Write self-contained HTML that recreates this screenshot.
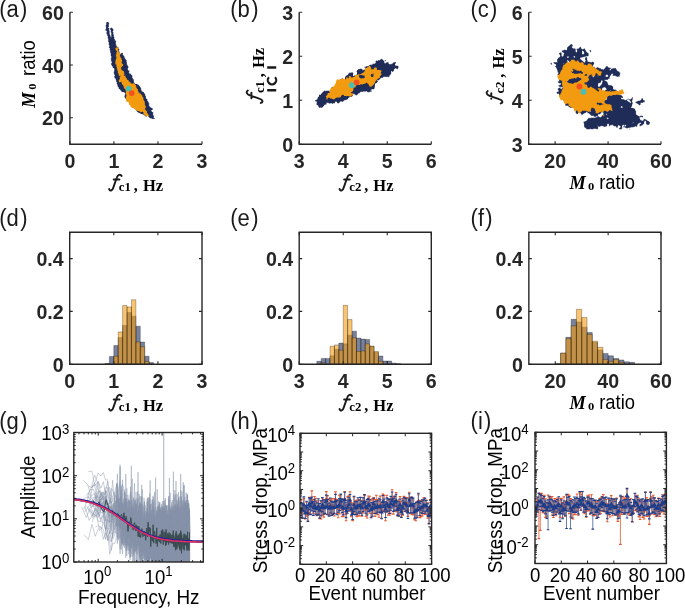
<!DOCTYPE html><html><head><meta charset="utf-8"><style>html,body{margin:0;padding:0;background:#fff;overflow:hidden}svg{display:block;will-change:transform}</style></head><body><svg width="685" height="609" viewBox="0 0 685 609" font-family="Liberation Sans, sans-serif">
<rect width="685" height="609" fill="#fff"/>
<path d="M106.8 22.0h1.5v.5h-1.5zM106.3 22.5h2.5v.5h-2.5zM106.3 23.0h2.5v.5h-2.5zM106.3 23.5h3v.5h-3zM106.3 24.0h2.5v.5h-2.5zM106.3 24.5h2.5v.5h-2.5zM105.8 25.0h3v.5h-3zM105.8 25.5h3v.5h-3zM105.8 26.0h3v.5h-3zM105.8 26.5h3v.5h-3zM105.8 27.0h2.5v.5h-2.5zM106.3 27.5h2v.5h-2zM111.3 27.5h0.5v.5h-0.5zM106.3 28.0h3v.5h-3zM110.3 28.0h2v.5h-2zM105.8 28.5h3.5v.5h-3.5zM110.3 28.5h2.5v.5h-2.5zM105.8 29.0h3v.5h-3zM110.3 29.0h3v.5h-3zM105.3 29.5h4v.5h-4zM110.3 29.5h3v.5h-3zM105.3 30.0h4v.5h-4zM110.8 30.0h2.5v.5h-2.5zM106.3 30.5h3v.5h-3zM110.8 30.5h2.5v.5h-2.5zM106.8 31.0h2.5v.5h-2.5zM110.8 31.0h2v.5h-2zM106.8 31.5h3v.5h-3zM110.8 31.5h2v.5h-2zM106.8 32.0h3v.5h-3zM110.8 32.0h2.5v.5h-2.5zM106.3 32.5h3v.5h-3zM111.3 32.5h2v.5h-2zM106.3 33.0h3v.5h-3zM111.3 33.0h2v.5h-2zM106.8 33.5h3v.5h-3zM111.3 33.5h2v.5h-2zM106.8 34.0h3v.5h-3zM111.3 34.0h2v.5h-2zM107.3 34.5h2.5v.5h-2.5zM111.3 34.5h2.5v.5h-2.5zM107.3 35.0h3v.5h-3zM111.3 35.0h2.5v.5h-2.5zM107.3 35.5h3v.5h-3zM111.3 35.5h2.5v.5h-2.5zM107.8 36.0h2.5v.5h-2.5zM111.3 36.0h2.5v.5h-2.5zM107.8 36.5h3v.5h-3zM111.3 36.5h2.5v.5h-2.5zM107.8 37.0h3v.5h-3zM111.3 37.0h3v.5h-3zM107.8 37.5h6.5v.5h-6.5zM107.8 38.0h6.5v.5h-6.5zM108.3 38.5h6v.5h-6zM108.3 39.0h6.5v.5h-6.5zM108.3 39.5h6.5v.5h-6.5zM108.3 40.0h6.5v.5h-6.5zM108.3 40.5h7.5v.5h-7.5zM108.3 41.0h7.5v.5h-7.5zM108.3 41.5h8v.5h-8zM108.8 42.0h7v.5h-7zM108.8 42.5h7v.5h-7zM108.8 43.0h7v.5h-7zM108.8 43.5h7v.5h-7zM108.8 44.0h7v.5h-7zM108.8 44.5h7.5v.5h-7.5zM109.3 45.0h7v.5h-7zM109.3 45.5h7v.5h-7zM109.3 46.0h7.5v.5h-7.5zM109.3 46.5h7.5v.5h-7.5zM108.8 47.0h9.5v.5h-9.5zM109.3 47.5h9v.5h-9zM109.8 48.0h8.5v.5h-8.5zM109.8 48.5h9v.5h-9zM109.8 49.0h9.5v.5h-9.5zM109.8 49.5h9.5v.5h-9.5zM109.8 50.0h9v.5h-9zM110.3 50.5h9v.5h-9zM110.3 51.0h9v.5h-9zM110.3 51.5h9v.5h-9zM110.3 52.0h9.5v.5h-9.5zM110.3 52.5h9v.5h-9zM121.8 52.5h0.5v.5h-0.5zM110.8 53.0h8v.5h-8zM121.3 53.0h1.5v.5h-1.5zM110.8 53.5h8v.5h-8zM120.8 53.5h2v.5h-2zM110.8 54.0h8v.5h-8zM120.3 54.0h2.5v.5h-2.5zM110.8 54.5h12v.5h-12zM110.8 55.0h12.5v.5h-12.5zM110.8 55.5h13v.5h-13zM111.3 56.0h13v.5h-13zM111.3 56.5h13v.5h-13zM111.3 57.0h13v.5h-13zM111.3 57.5h13.5v.5h-13.5zM110.8 58.0h14v.5h-14zM111.3 58.5h14v.5h-14zM111.3 59.0h14.5v.5h-14.5zM110.8 59.5h15v.5h-15zM110.8 60.0h15.5v.5h-15.5zM111.3 60.5h15.5v.5h-15.5zM111.3 61.0h15.5v.5h-15.5zM111.8 61.5h14.5v.5h-14.5zM111.8 62.0h15v.5h-15zM111.8 62.5h15v.5h-15zM111.3 63.0h15.5v.5h-15.5zM111.3 63.5h15.5v.5h-15.5zM111.3 64.0h15.5v.5h-15.5zM111.3 64.5h16v.5h-16zM111.8 65.0h15.5v.5h-15.5zM111.8 65.5h16v.5h-16zM112.3 66.0h16v.5h-16zM112.8 66.5h15.5v.5h-15.5zM112.8 67.0h15.5v.5h-15.5zM112.8 67.5h15.5v.5h-15.5zM113.8 68.0h14v.5h-14zM114.3 68.5h13.5v.5h-13.5zM114.3 69.0h13.5v.5h-13.5zM114.3 69.5h13.5v.5h-13.5zM114.3 70.0h14v.5h-14zM114.3 70.5h14.5v.5h-14.5zM129.3 70.5h0.5v.5h-0.5zM114.3 71.0h15v.5h-15zM113.8 71.5h15.5v.5h-15.5zM113.8 72.0h15v.5h-15zM113.8 72.5h15.5v.5h-15.5zM113.8 73.0h15.5v.5h-15.5zM114.3 73.5h15.5v.5h-15.5zM130.3 73.5h0.5v.5h-0.5zM114.3 74.0h16.5v.5h-16.5zM114.3 74.5h17v.5h-17zM114.8 75.0h17v.5h-17zM114.8 75.5h17.5v.5h-17.5zM114.3 76.0h18v.5h-18zM114.3 76.5h18v.5h-18zM114.3 77.0h18v.5h-18zM114.8 77.5h17.5v.5h-17.5zM114.8 78.0h18v.5h-18zM115.8 78.5h17v.5h-17zM115.8 79.0h17.5v.5h-17.5zM115.8 79.5h18v.5h-18zM115.8 80.0h18v.5h-18zM116.3 80.5h17.5v.5h-17.5zM116.3 81.0h17.5v.5h-17.5zM116.3 81.5h17.5v.5h-17.5zM116.8 82.0h17v.5h-17zM116.8 82.5h17.5v.5h-17.5zM116.8 83.0h18v.5h-18zM116.8 83.5h18.5v.5h-18.5zM117.3 84.0h20v.5h-20zM117.3 84.5h21v.5h-21zM117.3 85.0h21.5v.5h-21.5zM117.8 85.5h21.5v.5h-21.5zM117.8 86.0h22v.5h-22zM117.8 86.5h22v.5h-22zM118.3 87.0h22v.5h-22zM118.8 87.5h22v.5h-22zM118.8 88.0h22.5v.5h-22.5zM118.8 88.5h22v.5h-22zM119.8 89.0h21v.5h-21zM120.3 89.5h21v.5h-21zM120.3 90.0h21v.5h-21zM121.3 90.5h20.5v.5h-20.5zM121.3 91.0h20.5v.5h-20.5zM121.8 91.5h21v.5h-21zM123.8 92.0h20v.5h-20zM124.8 92.5h19v.5h-19zM125.3 93.0h19v.5h-19zM125.3 93.5h19.5v.5h-19.5zM125.3 94.0h19.5v.5h-19.5zM124.8 94.5h20.5v.5h-20.5zM124.8 95.0h20.5v.5h-20.5zM124.8 95.5h20.5v.5h-20.5zM124.8 96.0h21v.5h-21zM124.3 96.5h21.5v.5h-21.5zM124.8 97.0h21v.5h-21zM124.8 97.5h21v.5h-21zM125.3 98.0h21v.5h-21zM125.8 98.5h20.5v.5h-20.5zM126.3 99.0h21v.5h-21zM126.8 99.5h20.5v.5h-20.5zM127.3 100.0h20v.5h-20zM127.3 100.5h20v.5h-20zM127.8 101.0h20v.5h-20zM128.8 101.5h19.5v.5h-19.5zM129.3 102.0h19v.5h-19zM129.3 102.5h19.5v.5h-19.5zM129.8 103.0h19v.5h-19zM130.3 103.5h19v.5h-19zM130.3 104.0h19v.5h-19zM131.3 104.5h17.5v.5h-17.5zM131.3 105.0h17.5v.5h-17.5zM131.8 105.5h17.5v.5h-17.5zM131.8 106.0h17.5v.5h-17.5zM131.8 106.5h18.5v.5h-18.5zM132.3 107.0h18v.5h-18zM132.8 107.5h18.5v.5h-18.5zM134.3 108.0h18v.5h-18zM135.3 108.5h17.5v.5h-17.5zM135.8 109.0h17v.5h-17zM135.8 109.5h16.5v.5h-16.5zM136.3 110.0h15v.5h-15zM136.3 110.5h15v.5h-15zM136.8 111.0h15v.5h-15zM137.3 111.5h14.5v.5h-14.5zM137.8 112.0h15v.5h-15zM138.8 112.5h14.5v.5h-14.5zM139.8 113.0h13.5v.5h-13.5zM140.8 113.5h12v.5h-12zM141.8 114.0h0.5v.5h-0.5zM142.8 114.0h10v.5h-10zM143.8 114.5h9.5v.5h-9.5zM144.3 115.0h9v.5h-9zM144.8 115.5h9v.5h-9zM145.3 116.0h1.5v.5h-1.5zM148.3 116.0h5.5v.5h-5.5zM148.3 116.5h5.5v.5h-5.5zM149.3 117.0h4.5v.5h-4.5zM149.3 117.5h4.5v.5h-4.5zM150.3 118.0h0.5v.5h-0.5zM151.3 118.0h3.5v.5h-3.5zM151.8 118.5h1v.5h-1zM153.3 118.5h1v.5h-1z" fill="#1e2c57"/>
<path d="M381.0 58.8h0.5v.5h-0.5zM380.5 59.3h2v.5h-2zM380.0 59.8h3v.5h-3zM378.0 60.3h5.5v.5h-5.5zM385.0 60.3h1v.5h-1zM376.0 60.8h9.5v.5h-9.5zM375.5 61.3h8.5v.5h-8.5zM375.5 61.8h8.5v.5h-8.5zM376.0 62.3h8.5v.5h-8.5zM386.5 62.3h2v.5h-2zM393.5 62.3h2.5v.5h-2.5zM375.5 62.8h9v.5h-9zM386.0 62.8h2.5v.5h-2.5zM393.0 62.8h3v.5h-3zM375.0 63.3h13.5v.5h-13.5zM392.5 63.3h3v.5h-3zM372.5 63.8h16.5v.5h-16.5zM391.5 63.8h3.5v.5h-3.5zM372.5 64.3h22.5v.5h-22.5zM370.0 64.8h25v.5h-25zM369.0 65.3h26.5v.5h-26.5zM368.5 65.8h29.5v.5h-29.5zM366.0 66.3h32.5v.5h-32.5zM364.5 66.8h34v.5h-34zM364.5 67.3h34v.5h-34zM366.0 67.8h32v.5h-32zM365.5 68.3h29.5v.5h-29.5zM396.0 68.3h2v.5h-2zM359.5 68.8h2.5v.5h-2.5zM365.0 68.8h29.5v.5h-29.5zM397.0 68.8h0.5v.5h-0.5zM358.0 69.3h4.5v.5h-4.5zM364.5 69.3h29.5v.5h-29.5zM357.5 69.8h5v.5h-5zM363.0 69.8h0.5v.5h-0.5zM364.5 69.8h29.5v.5h-29.5zM357.0 70.3h37v.5h-37zM356.5 70.8h37v.5h-37zM356.5 71.3h34.5v.5h-34.5zM392.0 71.3h1v.5h-1zM357.0 71.8h34v.5h-34zM351.5 72.3h1v.5h-1zM357.0 72.3h34v.5h-34zM349.0 72.8h4v.5h-4zM357.0 72.8h34.5v.5h-34.5zM348.5 73.3h5v.5h-5zM357.0 73.3h34v.5h-34zM348.5 73.8h4.5v.5h-4.5zM357.0 73.8h34v.5h-34zM348.0 74.3h5v.5h-5zM356.5 74.3h34v.5h-34zM347.5 74.8h5.5v.5h-5.5zM356.5 74.8h33.5v.5h-33.5zM346.5 75.3h6.5v.5h-6.5zM354.5 75.3h0.5v.5h-0.5zM356.5 75.3h33v.5h-33zM346.0 75.8h7v.5h-7zM353.5 75.8h2.5v.5h-2.5zM356.5 75.8h33v.5h-33zM345.5 76.3h10v.5h-10zM356.5 76.3h33v.5h-33zM345.0 76.8h38.5v.5h-38.5zM386.0 76.8h0.5v.5h-0.5zM388.0 76.8h0.5v.5h-0.5zM345.0 77.3h38v.5h-38zM345.0 77.8h36v.5h-36zM342.0 78.3h0.5v.5h-0.5zM345.0 78.3h35.5v.5h-35.5zM341.0 78.8h2v.5h-2zM345.0 78.8h35v.5h-35zM340.5 79.3h2.5v.5h-2.5zM345.0 79.3h34.5v.5h-34.5zM340.0 79.8h3v.5h-3zM344.5 79.8h34.5v.5h-34.5zM340.0 80.3h37v.5h-37zM340.5 80.8h37v.5h-37zM340.0 81.3h38v.5h-38zM339.0 81.8h38.5v.5h-38.5zM338.5 82.3h38.5v.5h-38.5zM338.0 82.8h38.5v.5h-38.5zM338.0 83.3h37.5v.5h-37.5zM338.0 83.8h37v.5h-37zM338.0 84.3h37v.5h-37zM337.5 84.8h37.5v.5h-37.5zM335.5 85.3h39.5v.5h-39.5zM335.0 85.8h39.5v.5h-39.5zM335.0 86.3h40v.5h-40zM332.0 86.8h0.5v.5h-0.5zM335.0 86.8h40v.5h-40zM331.5 87.3h1.5v.5h-1.5zM334.5 87.3h40v.5h-40zM331.5 87.8h2v.5h-2zM334.5 87.8h40v.5h-40zM331.5 88.3h43v.5h-43zM331.5 88.8h42.5v.5h-42.5zM332.0 89.3h39.5v.5h-39.5zM332.0 89.8h39v.5h-39zM331.0 90.3h39v.5h-39zM370.5 90.3h1v.5h-1zM324.0 90.8h1.5v.5h-1.5zM326.0 90.8h45.5v.5h-45.5zM323.5 91.3h40v.5h-40zM364.5 91.3h1v.5h-1zM367.0 91.3h4.5v.5h-4.5zM323.0 91.8h37.5v.5h-37.5zM367.5 91.8h2v.5h-2zM322.5 92.3h37.5v.5h-37.5zM322.0 92.8h37.5v.5h-37.5zM321.5 93.3h37v.5h-37zM321.0 93.8h32v.5h-32zM354.0 93.8h4v.5h-4zM321.0 94.3h32v.5h-32zM355.0 94.3h2.5v.5h-2.5zM319.0 94.8h34v.5h-34zM355.5 94.8h1.5v.5h-1.5zM319.0 95.3h34v.5h-34zM319.0 95.8h33.5v.5h-33.5zM319.0 96.3h33v.5h-33zM318.0 96.8h32v.5h-32zM318.0 97.3h31v.5h-31zM317.5 97.8h31v.5h-31zM317.5 98.3h30.5v.5h-30.5zM317.5 98.8h30.5v.5h-30.5zM317.0 99.3h30v.5h-30zM316.0 99.8h29.5v.5h-29.5zM315.0 100.3h29v.5h-29zM315.0 100.8h28.5v.5h-28.5zM316.5 101.3h24v.5h-24zM341.5 101.3h1.5v.5h-1.5zM316.5 101.8h18.5v.5h-18.5zM337.0 101.8h3v.5h-3zM317.0 102.3h18v.5h-18zM337.0 102.3h2.5v.5h-2.5zM317.0 102.8h9v.5h-9zM328.5 102.8h6.5v.5h-6.5zM337.5 102.8h1.5v.5h-1.5zM316.5 103.3h10v.5h-10zM329.0 103.3h0.5v.5h-0.5zM332.0 103.3h1v.5h-1zM316.5 103.8h10.5v.5h-10.5zM316.5 104.3h9v.5h-9zM317.0 104.8h7.5v.5h-7.5zM318.0 105.3h6v.5h-6zM318.5 105.8h5.5v.5h-5.5zM318.5 106.3h4.5v.5h-4.5zM318.5 106.8h4.5v.5h-4.5zM319.0 107.3h1.5v.5h-1.5zM321.0 107.3h1v.5h-1z" fill="#1e2c57"/>
<path d="M570.6 44.3h1.5v.5h-1.5zM570.1 44.8h2.5v.5h-2.5zM569.6 45.3h3v.5h-3zM569.1 45.8h3.5v.5h-3.5zM568.1 46.3h4v.5h-4zM568.1 46.8h3.5v.5h-3.5zM580.1 46.8h0.5v.5h-0.5zM567.1 47.3h5v.5h-5zM579.6 47.3h1.5v.5h-1.5zM567.1 47.8h5.5v.5h-5.5zM579.1 47.8h2v.5h-2zM567.1 48.3h6v.5h-6zM573.6 48.3h1v.5h-1zM578.6 48.3h2.5v.5h-2.5zM584.1 48.3h0.5v.5h-0.5zM567.1 48.8h8.5v.5h-8.5zM576.6 48.8h5.5v.5h-5.5zM583.6 48.8h1v.5h-1zM567.1 49.3h8.5v.5h-8.5zM576.6 49.3h8.5v.5h-8.5zM564.1 49.8h1.5v.5h-1.5zM566.6 49.8h9v.5h-9zM577.1 49.8h8.5v.5h-8.5zM562.6 50.3h13v.5h-13zM577.1 50.3h8.5v.5h-8.5zM589.6 50.3h1.5v.5h-1.5zM561.6 50.8h14v.5h-14zM577.1 50.8h5v.5h-5zM583.1 50.8h3v.5h-3zM589.6 50.8h1.5v.5h-1.5zM562.1 51.3h13.5v.5h-13.5zM577.1 51.3h5v.5h-5zM583.6 51.3h2.5v.5h-2.5zM590.1 51.3h1v.5h-1zM562.1 51.8h14v.5h-14zM577.1 51.8h5v.5h-5zM584.1 51.8h2.5v.5h-2.5zM590.1 51.8h0.5v.5h-0.5zM560.6 52.3h0.5v.5h-0.5zM563.1 52.3h19v.5h-19zM584.1 52.3h3v.5h-3zM559.6 52.8h2v.5h-2zM564.1 52.8h18v.5h-18zM584.1 52.8h4v.5h-4zM559.1 53.3h2.5v.5h-2.5zM564.1 53.3h18v.5h-18zM584.1 53.3h4.5v.5h-4.5zM559.1 53.8h2.5v.5h-2.5zM564.1 53.8h18v.5h-18zM583.6 53.8h5v.5h-5zM559.6 54.3h2v.5h-2zM563.6 54.3h25v.5h-25zM560.1 54.8h1.5v.5h-1.5zM563.6 54.8h25v.5h-25zM560.1 55.3h1.5v.5h-1.5zM563.6 55.3h25v.5h-25zM560.1 55.8h1.5v.5h-1.5zM563.1 55.8h25v.5h-25zM560.1 56.3h2v.5h-2zM562.6 56.3h5v.5h-5zM568.6 56.3h5v.5h-5zM575.1 56.3h10.5v.5h-10.5zM559.6 56.8h7.5v.5h-7.5zM568.6 56.8h5v.5h-5zM575.1 56.8h8.5v.5h-8.5zM559.1 57.3h8v.5h-8zM568.6 57.3h5.5v.5h-5.5zM574.6 57.3h7v.5h-7zM585.6 57.3h1.5v.5h-1.5zM558.1 57.8h22v.5h-22zM585.1 57.8h2v.5h-2zM558.1 58.3h22v.5h-22zM585.1 58.3h2v.5h-2zM557.6 58.8h23v.5h-23zM585.1 58.8h2v.5h-2zM557.1 59.3h23.5v.5h-23.5zM585.1 59.3h2v.5h-2zM557.1 59.8h24.5v.5h-24.5zM585.6 59.8h1.5v.5h-1.5zM557.1 60.3h10v.5h-10zM568.1 60.3h3.5v.5h-3.5zM573.1 60.3h9v.5h-9zM585.6 60.3h2v.5h-2zM557.1 60.8h10v.5h-10zM568.6 60.8h2.5v.5h-2.5zM573.1 60.8h9.5v.5h-9.5zM585.6 60.8h2v.5h-2zM557.1 61.3h10.5v.5h-10.5zM569.1 61.3h2v.5h-2zM573.1 61.3h10v.5h-10zM585.1 61.3h2.5v.5h-2.5zM557.6 61.8h10v.5h-10zM569.6 61.8h1.5v.5h-1.5zM572.6 61.8h11.5v.5h-11.5zM585.1 61.8h4.5v.5h-4.5zM592.1 61.8h1v.5h-1zM553.6 62.3h14v.5h-14zM570.1 62.3h14.5v.5h-14.5zM585.1 62.3h9v.5h-9zM550.6 62.8h1v.5h-1zM553.6 62.8h14.5v.5h-14.5zM570.1 62.8h24v.5h-24zM550.6 63.3h1v.5h-1zM554.1 63.3h9v.5h-9zM563.6 63.3h30.5v.5h-30.5zM550.6 63.8h1.5v.5h-1.5zM555.1 63.8h39v.5h-39zM551.6 64.3h0.5v.5h-0.5zM556.1 64.3h37.5v.5h-37.5zM556.1 64.8h37v.5h-37zM556.1 65.3h37v.5h-37zM555.6 65.8h37.5v.5h-37.5zM555.1 66.3h38v.5h-38zM606.1 66.3h1.5v.5h-1.5zM555.6 66.8h37.5v.5h-37.5zM594.1 66.8h0.5v.5h-0.5zM605.6 66.8h2.5v.5h-2.5zM556.1 67.3h37.5v.5h-37.5zM594.1 67.3h0.5v.5h-0.5zM597.1 67.3h1v.5h-1zM605.6 67.3h3v.5h-3zM556.6 67.8h7v.5h-7zM564.1 67.8h6.5v.5h-6.5zM571.1 67.8h24v.5h-24zM596.1 67.8h3v.5h-3zM605.1 67.8h5.5v.5h-5.5zM556.6 68.3h7v.5h-7zM564.1 68.3h6v.5h-6zM571.6 68.3h29v.5h-29zM604.6 68.3h6.5v.5h-6.5zM612.6 68.3h3.5v.5h-3.5zM556.6 68.8h7v.5h-7zM564.1 68.8h6v.5h-6zM572.1 68.8h29v.5h-29zM604.1 68.8h6v.5h-6zM611.1 68.8h5v.5h-5zM557.1 69.3h13.5v.5h-13.5zM572.6 69.3h30.5v.5h-30.5zM603.6 69.3h6v.5h-6zM611.1 69.3h5.5v.5h-5.5zM557.1 69.8h13.5v.5h-13.5zM573.1 69.8h36.5v.5h-36.5zM610.6 69.8h6v.5h-6zM557.6 70.3h13.5v.5h-13.5zM573.6 70.3h3v.5h-3zM578.6 70.3h15.5v.5h-15.5zM595.6 70.3h21.5v.5h-21.5zM557.6 70.8h14v.5h-14zM573.6 70.8h2v.5h-2zM578.6 70.8h15.5v.5h-15.5zM596.1 70.8h21.5v.5h-21.5zM557.6 71.3h18v.5h-18zM578.6 71.3h15.5v.5h-15.5zM596.1 71.3h22.5v.5h-22.5zM557.6 71.8h17.5v.5h-17.5zM578.6 71.8h16v.5h-16zM596.1 71.8h23.5v.5h-23.5zM558.1 72.3h17.5v.5h-17.5zM578.6 72.3h41v.5h-41zM558.6 72.8h10v.5h-10zM570.1 72.8h5.5v.5h-5.5zM578.6 72.8h1v.5h-1zM581.1 72.8h38.5v.5h-38.5zM620.1 72.8h0.5v.5h-0.5zM558.1 73.3h9.5v.5h-9.5zM570.1 73.3h6.5v.5h-6.5zM578.1 73.3h1v.5h-1zM582.1 73.3h38v.5h-38zM558.1 73.8h8.5v.5h-8.5zM570.6 73.8h8.5v.5h-8.5zM582.1 73.8h29.5v.5h-29.5zM613.1 73.8h7v.5h-7zM557.6 74.3h9v.5h-9zM570.6 74.3h9v.5h-9zM582.1 74.3h29v.5h-29zM613.1 74.3h7v.5h-7zM557.6 74.8h11v.5h-11zM570.1 74.8h9.5v.5h-9.5zM581.6 74.8h8v.5h-8zM590.1 74.8h16v.5h-16zM607.6 74.8h3.5v.5h-3.5zM612.6 74.8h7v.5h-7zM558.1 75.3h47.5v.5h-47.5zM608.1 75.3h2.5v.5h-2.5zM612.6 75.3h7v.5h-7zM558.1 75.8h35v.5h-35zM593.6 75.8h4v.5h-4zM598.1 75.8h7.5v.5h-7.5zM608.1 75.8h2v.5h-2zM615.6 75.8h4v.5h-4zM558.1 76.3h34.5v.5h-34.5zM594.1 76.3h11.5v.5h-11.5zM608.1 76.3h2v.5h-2zM616.6 76.3h2v.5h-2zM619.1 76.3h0.5v.5h-0.5zM558.6 76.8h34v.5h-34zM593.6 76.8h16v.5h-16zM558.6 77.3h51v.5h-51zM559.1 77.8h50.5v.5h-50.5zM559.1 78.3h50.5v.5h-50.5zM558.6 78.8h49.5v.5h-49.5zM559.1 79.3h49v.5h-49zM559.1 79.8h5.5v.5h-5.5zM566.1 79.8h38.5v.5h-38.5zM605.6 79.8h0.5v.5h-0.5zM559.1 80.3h5v.5h-5zM566.1 80.3h35.5v.5h-35.5zM602.1 80.3h2.5v.5h-2.5zM559.1 80.8h4.5v.5h-4.5zM566.1 80.8h35v.5h-35zM602.6 80.8h3v.5h-3zM558.1 81.3h0.5v.5h-0.5zM559.1 81.3h4v.5h-4zM565.6 81.3h35.5v.5h-35.5zM602.6 81.3h4v.5h-4zM557.6 81.8h5.5v.5h-5.5zM565.6 81.8h35.5v.5h-35.5zM602.6 81.8h4.5v.5h-4.5zM558.1 82.3h5.5v.5h-5.5zM565.1 82.3h35.5v.5h-35.5zM602.1 82.3h5.5v.5h-5.5zM559.1 82.8h40.5v.5h-40.5zM602.1 82.8h5.5v.5h-5.5zM561.1 83.3h7.5v.5h-7.5zM570.6 83.3h3.5v.5h-3.5zM574.6 83.3h23.5v.5h-23.5zM602.1 83.3h5.5v.5h-5.5zM561.1 83.8h6.5v.5h-6.5zM570.6 83.8h3v.5h-3zM575.1 83.8h23v.5h-23zM601.6 83.8h6.5v.5h-6.5zM560.6 84.3h6.5v.5h-6.5zM570.1 84.3h3.5v.5h-3.5zM574.6 84.3h23.5v.5h-23.5zM601.6 84.3h6.5v.5h-6.5zM559.6 84.8h7.5v.5h-7.5zM570.1 84.8h28v.5h-28zM601.1 84.8h7.5v.5h-7.5zM558.6 85.3h8.5v.5h-8.5zM569.6 85.3h28.5v.5h-28.5zM600.6 85.3h11v.5h-11zM558.1 85.8h0.5v.5h-0.5zM559.1 85.8h8.5v.5h-8.5zM568.6 85.8h29.5v.5h-29.5zM600.1 85.8h12v.5h-12zM559.1 86.3h39v.5h-39zM599.6 86.3h13.5v.5h-13.5zM560.6 86.8h1v.5h-1zM562.6 86.8h50.5v.5h-50.5zM560.1 87.3h0.5v.5h-0.5zM562.6 87.3h41v.5h-41zM605.1 87.3h8v.5h-8zM559.1 87.8h1v.5h-1zM562.6 87.8h40v.5h-40zM606.1 87.8h7v.5h-7zM558.1 88.3h2.5v.5h-2.5zM562.1 88.3h40v.5h-40zM606.1 88.3h7v.5h-7zM557.6 88.8h44.5v.5h-44.5zM606.6 88.8h6.5v.5h-6.5zM558.1 89.3h44v.5h-44zM606.6 89.3h7.5v.5h-7.5zM558.1 89.8h44v.5h-44zM605.6 89.8h10.5v.5h-10.5zM558.6 90.3h43.5v.5h-43.5zM605.1 90.3h5.5v.5h-5.5zM611.1 90.3h5.5v.5h-5.5zM558.6 90.8h43.5v.5h-43.5zM604.6 90.8h6v.5h-6zM611.1 90.8h6v.5h-6zM558.6 91.3h44v.5h-44zM604.1 91.3h13.5v.5h-13.5zM557.1 91.8h16v.5h-16zM574.1 91.8h44v.5h-44zM556.6 92.3h15.5v.5h-15.5zM574.6 92.3h44v.5h-44zM556.6 92.8h14.5v.5h-14.5zM575.1 92.8h44.5v.5h-44.5zM557.1 93.3h13.5v.5h-13.5zM575.1 93.3h14v.5h-14zM590.1 93.3h29.5v.5h-29.5zM559.1 93.8h11.5v.5h-11.5zM575.1 93.8h2.5v.5h-2.5zM580.1 93.8h9v.5h-9zM590.1 93.8h29.5v.5h-29.5zM559.1 94.3h11.5v.5h-11.5zM575.6 94.3h1.5v.5h-1.5zM580.6 94.3h6.5v.5h-6.5zM587.6 94.3h2v.5h-2zM590.6 94.3h29v.5h-29zM559.1 94.8h12v.5h-12zM580.6 94.8h6.5v.5h-6.5zM590.6 94.8h29v.5h-29zM559.6 95.3h12v.5h-12zM580.6 95.3h7v.5h-7zM590.1 95.3h13.5v.5h-13.5zM605.6 95.3h16v.5h-16zM560.1 95.8h12.5v.5h-12.5zM577.6 95.8h1.5v.5h-1.5zM580.1 95.8h7.5v.5h-7.5zM590.1 95.8h14v.5h-14zM605.6 95.8h16.5v.5h-16.5zM560.6 96.3h12.5v.5h-12.5zM577.1 96.3h2v.5h-2zM580.1 96.3h7v.5h-7zM590.6 96.3h13.5v.5h-13.5zM605.6 96.3h17v.5h-17zM561.1 96.8h12.5v.5h-12.5zM577.1 96.8h2v.5h-2zM580.6 96.8h6.5v.5h-6.5zM590.6 96.8h13.5v.5h-13.5zM605.6 96.8h17.5v.5h-17.5zM562.1 97.3h12.5v.5h-12.5zM575.1 97.3h4v.5h-4zM580.6 97.3h6.5v.5h-6.5zM590.1 97.3h13.5v.5h-13.5zM606.1 97.3h17v.5h-17zM632.1 97.3h1v.5h-1zM562.6 97.8h16.5v.5h-16.5zM580.6 97.8h7v.5h-7zM589.6 97.8h13.5v.5h-13.5zM606.6 97.8h14.5v.5h-14.5zM631.6 97.8h1v.5h-1zM563.1 98.3h16v.5h-16zM580.6 98.3h22.5v.5h-22.5zM607.1 98.3h14v.5h-14zM631.6 98.3h1v.5h-1zM641.6 98.3h1v.5h-1zM563.1 98.8h40.5v.5h-40.5zM607.1 98.8h14.5v.5h-14.5zM627.1 98.8h0.5v.5h-0.5zM628.1 98.8h1v.5h-1zM631.1 98.8h1.5v.5h-1.5zM641.6 98.8h1.5v.5h-1.5zM563.1 99.3h41v.5h-41zM606.6 99.3h17.5v.5h-17.5zM627.1 99.3h0.5v.5h-0.5zM628.6 99.3h4v.5h-4zM641.1 99.3h2v.5h-2zM563.1 99.8h62v.5h-62zM626.1 99.8h1v.5h-1zM629.6 99.8h3v.5h-3zM641.1 99.8h2v.5h-2zM563.6 100.3h63.5v.5h-63.5zM629.6 100.3h2.5v.5h-2.5zM640.1 100.3h4.5v.5h-4.5zM564.1 100.8h2.5v.5h-2.5zM567.1 100.8h60.5v.5h-60.5zM630.1 100.8h2v.5h-2zM638.1 100.8h6.5v.5h-6.5zM565.1 101.3h1v.5h-1zM567.1 101.3h61v.5h-61zM630.6 101.3h1.5v.5h-1.5zM636.6 101.3h8v.5h-8zM567.1 101.8h62.5v.5h-62.5zM631.1 101.8h1v.5h-1zM636.1 101.8h8.5v.5h-8.5zM566.6 102.3h63v.5h-63zM631.1 102.3h1.5v.5h-1.5zM635.1 102.3h8v.5h-8zM566.6 102.8h66v.5h-66zM636.1 102.8h4.5v.5h-4.5zM566.1 103.3h36.5v.5h-36.5zM603.6 103.3h29v.5h-29zM637.1 103.3h3.5v.5h-3.5zM565.6 103.8h37v.5h-37zM603.6 103.8h29v.5h-29zM638.1 103.8h2.5v.5h-2.5zM565.1 104.3h37v.5h-37zM603.1 104.3h29v.5h-29zM638.6 104.3h2v.5h-2zM565.1 104.8h6v.5h-6zM573.6 104.8h28v.5h-28zM602.6 104.8h29.5v.5h-29.5zM639.1 104.8h1v.5h-1zM565.6 105.3h5v.5h-5zM574.6 105.3h27v.5h-27zM602.6 105.3h29.5v.5h-29.5zM568.1 105.8h2.5v.5h-2.5zM575.1 105.8h26.5v.5h-26.5zM603.1 105.8h29v.5h-29zM568.6 106.3h2.5v.5h-2.5zM575.1 106.3h26.5v.5h-26.5zM603.1 106.3h18v.5h-18zM622.1 106.3h9.5v.5h-9.5zM569.1 106.8h3.5v.5h-3.5zM575.1 106.8h27v.5h-27zM604.1 106.8h16.5v.5h-16.5zM622.6 106.8h8.5v.5h-8.5zM570.1 107.3h3v.5h-3zM575.1 107.3h21v.5h-21zM596.6 107.3h24.5v.5h-24.5zM622.6 107.3h8.5v.5h-8.5zM575.6 107.8h20v.5h-20zM597.1 107.8h35.5v.5h-35.5zM575.6 108.3h20v.5h-20zM597.1 108.3h37v.5h-37zM575.6 108.8h11v.5h-11zM587.1 108.8h8.5v.5h-8.5zM597.6 108.8h37.5v.5h-37.5zM575.6 109.3h11v.5h-11zM587.1 109.3h8.5v.5h-8.5zM597.6 109.3h37.5v.5h-37.5zM576.1 109.8h19.5v.5h-19.5zM597.6 109.8h37.5v.5h-37.5zM576.1 110.3h19.5v.5h-19.5zM597.6 110.3h38v.5h-38zM576.1 110.8h14v.5h-14zM591.1 110.8h4.5v.5h-4.5zM597.1 110.8h38.5v.5h-38.5zM575.6 111.3h14.5v.5h-14.5zM590.6 111.3h5.5v.5h-5.5zM597.1 111.3h39v.5h-39zM575.6 111.8h11v.5h-11zM587.1 111.8h49v.5h-49zM575.6 112.3h3v.5h-3zM579.6 112.3h6.5v.5h-6.5zM587.6 112.3h13.5v.5h-13.5zM603.1 112.3h33v.5h-33zM576.1 112.8h2v.5h-2zM579.6 112.8h5.5v.5h-5.5zM587.6 112.8h13.5v.5h-13.5zM603.6 112.8h32v.5h-32zM576.1 113.3h2v.5h-2zM581.1 113.3h3v.5h-3zM589.1 113.3h11.5v.5h-11.5zM603.6 113.3h32.5v.5h-32.5zM577.6 113.8h0.5v.5h-0.5zM581.1 113.8h2v.5h-2zM589.6 113.8h10.5v.5h-10.5zM603.6 113.8h3v.5h-3zM607.1 113.8h29v.5h-29zM581.6 114.3h1v.5h-1zM590.1 114.3h8v.5h-8zM603.1 114.3h3v.5h-3zM607.1 114.3h29v.5h-29zM581.6 114.8h0.5v.5h-0.5zM590.6 114.8h7.5v.5h-7.5zM603.1 114.8h34v.5h-34zM591.1 115.3h7v.5h-7zM602.1 115.3h35.5v.5h-35.5zM593.6 115.8h4v.5h-4zM601.6 115.8h37v.5h-37zM640.1 115.8h2.5v.5h-2.5zM594.1 116.3h2v.5h-2zM597.6 116.3h1v.5h-1zM601.6 116.3h38v.5h-38zM640.1 116.3h3v.5h-3zM597.1 116.8h2.5v.5h-2.5zM601.1 116.8h39.5v.5h-39.5zM641.6 116.8h1.5v.5h-1.5zM595.6 117.3h44v.5h-44zM588.6 117.8h1v.5h-1zM590.6 117.8h16v.5h-16zM608.1 117.8h31.5v.5h-31.5zM588.1 118.3h19v.5h-19zM608.6 118.3h31v.5h-31zM588.1 118.8h19.5v.5h-19.5zM608.1 118.8h32v.5h-32zM644.1 118.8h0.5v.5h-0.5zM587.1 119.3h53v.5h-53zM643.6 119.3h2v.5h-2zM587.1 119.8h53.5v.5h-53.5zM643.6 119.8h3v.5h-3zM586.6 120.3h55v.5h-55zM643.1 120.3h4v.5h-4zM586.1 120.8h58.5v.5h-58.5zM645.6 120.8h2.5v.5h-2.5zM584.6 121.3h60v.5h-60zM646.1 121.3h3v.5h-3zM583.6 121.8h60.5v.5h-60.5zM646.1 121.8h3.5v.5h-3.5zM583.6 122.3h49.5v.5h-49.5zM633.6 122.3h10.5v.5h-10.5zM646.1 122.3h4v.5h-4zM583.6 122.8h49v.5h-49zM633.1 122.8h6.5v.5h-6.5zM641.1 122.8h3v.5h-3zM646.1 122.8h3.5v.5h-3.5zM584.1 123.3h54.5v.5h-54.5zM641.1 123.3h3v.5h-3zM646.1 123.3h3.5v.5h-3.5zM584.1 123.8h23.5v.5h-23.5zM608.6 123.8h29.5v.5h-29.5zM640.1 123.8h3.5v.5h-3.5zM646.6 123.8h3v.5h-3zM584.1 124.3h23v.5h-23zM609.1 124.3h28.5v.5h-28.5zM639.6 124.3h3.5v.5h-3.5zM646.6 124.3h2.5v.5h-2.5zM584.1 124.8h23v.5h-23zM609.1 124.8h2.5v.5h-2.5zM612.6 124.8h10v.5h-10zM623.6 124.8h2v.5h-2zM626.1 124.8h11.5v.5h-11.5zM639.6 124.8h3v.5h-3zM584.1 125.3h23v.5h-23zM609.1 125.3h1v.5h-1zM613.1 125.3h5v.5h-5zM619.1 125.3h3.5v.5h-3.5zM624.1 125.3h0.5v.5h-0.5zM626.1 125.3h11v.5h-11zM639.6 125.3h2v.5h-2zM584.1 125.8h13.5v.5h-13.5zM598.1 125.8h3v.5h-3zM601.6 125.8h0.5v.5h-0.5zM602.6 125.8h4.5v.5h-4.5zM608.6 125.8h1v.5h-1zM614.1 125.8h4v.5h-4zM620.1 125.8h2v.5h-2zM626.1 125.8h11v.5h-11zM639.6 125.8h1v.5h-1zM584.1 126.3h14v.5h-14zM598.6 126.3h1.5v.5h-1.5zM603.6 126.3h2v.5h-2zM616.1 126.3h1.5v.5h-1.5zM620.6 126.3h1.5v.5h-1.5zM623.6 126.3h11.5v.5h-11.5zM636.1 126.3h1v.5h-1zM584.6 126.8h13.5v.5h-13.5zM616.1 126.8h1.5v.5h-1.5zM620.6 126.8h1.5v.5h-1.5zM623.1 126.8h10.5v.5h-10.5zM584.6 127.3h13.5v.5h-13.5zM616.6 127.3h1v.5h-1zM620.1 127.3h2v.5h-2zM625.1 127.3h5.5v.5h-5.5zM585.6 127.8h12.5v.5h-12.5zM619.6 127.8h2v.5h-2zM622.1 127.8h0.5v.5h-0.5zM626.1 127.8h2v.5h-2zM586.1 128.3h12v.5h-12zM619.1 128.3h3v.5h-3zM586.6 128.8h3.5v.5h-3.5zM591.1 128.8h2v.5h-2zM596.6 128.8h1v.5h-1zM619.1 128.8h2.5v.5h-2.5zM629.6 128.8h0.5v.5h-0.5zM629.6 129.3h0.5v.5h-0.5z" fill="#1e2c57"/>
<path d="M116.9 46.0h0.5v.5h-0.5zM116.9 46.5h0.5v.5h-0.5zM116.9 47.0h0.5v.5h-0.5zM115.9 47.5h2v.5h-2zM115.4 48.0h3v.5h-3zM115.4 48.5h3v.5h-3zM115.4 49.0h3v.5h-3zM115.9 49.5h2v.5h-2zM115.9 50.0h2.5v.5h-2.5zM116.4 50.5h2v.5h-2zM116.9 51.0h1.5v.5h-1.5zM116.9 51.5h2v.5h-2zM116.4 52.0h2.5v.5h-2.5zM116.4 52.5h2.5v.5h-2.5zM116.4 53.0h4v.5h-4zM116.4 53.5h4v.5h-4zM116.4 54.0h3.5v.5h-3.5zM115.9 54.5h4v.5h-4zM115.9 55.0h4v.5h-4zM115.9 55.5h4v.5h-4zM115.9 56.0h4v.5h-4zM116.4 56.5h4v.5h-4zM116.4 57.0h4v.5h-4zM116.4 57.5h4.5v.5h-4.5zM116.4 58.0h5v.5h-5zM115.9 58.5h5.5v.5h-5.5zM115.9 59.0h5.5v.5h-5.5zM115.9 59.5h6v.5h-6zM115.9 60.0h6v.5h-6zM115.4 60.5h6.5v.5h-6.5zM115.4 61.0h6.5v.5h-6.5zM115.4 61.5h6.5v.5h-6.5zM115.4 62.0h6v.5h-6zM115.4 62.5h6.5v.5h-6.5zM115.4 63.0h6.5v.5h-6.5zM115.4 63.5h7v.5h-7zM115.4 64.0h7.5v.5h-7.5zM116.4 64.5h7v.5h-7zM116.4 65.0h6.5v.5h-6.5zM116.4 65.5h6.5v.5h-6.5zM116.4 66.0h6v.5h-6zM116.4 66.5h5.5v.5h-5.5zM116.9 67.0h4.5v.5h-4.5zM116.9 67.5h4v.5h-4zM116.9 68.0h4v.5h-4zM116.9 68.5h4.5v.5h-4.5zM116.9 69.0h4.5v.5h-4.5zM117.4 69.5h4v.5h-4zM117.4 70.0h4.5v.5h-4.5zM117.4 70.5h5.5v.5h-5.5zM117.9 71.0h6v.5h-6zM117.9 71.5h6v.5h-6zM117.9 72.0h6v.5h-6zM117.9 72.5h6.5v.5h-6.5zM118.4 73.0h6v.5h-6zM118.4 73.5h5.5v.5h-5.5zM118.4 74.0h5.5v.5h-5.5zM124.4 74.0h0.5v.5h-0.5zM118.9 74.5h5.5v.5h-5.5zM118.9 75.0h5v.5h-5zM118.9 75.5h1v.5h-1zM120.4 75.5h4v.5h-4zM124.9 75.5h0.5v.5h-0.5zM120.4 76.0h5v.5h-5zM119.9 76.5h5.5v.5h-5.5zM119.9 77.0h6v.5h-6zM119.4 77.5h6.5v.5h-6.5zM119.9 78.0h6.5v.5h-6.5zM119.9 78.5h7v.5h-7zM119.4 79.0h7.5v.5h-7.5zM119.4 79.5h8v.5h-8zM118.9 80.0h9.5v.5h-9.5zM118.9 80.5h10v.5h-10zM118.9 81.0h10.5v.5h-10.5zM118.9 81.5h2v.5h-2zM121.4 81.5h8v.5h-8zM119.4 82.0h0.5v.5h-0.5zM121.4 82.0h9v.5h-9zM121.4 82.5h9v.5h-9zM121.9 83.0h9v.5h-9zM133.4 83.0h0.5v.5h-0.5zM121.9 83.5h10v.5h-10zM132.4 83.5h2.5v.5h-2.5zM122.4 84.0h12.5v.5h-12.5zM122.4 84.5h13v.5h-13zM122.9 85.0h13v.5h-13zM123.4 85.5h12.5v.5h-12.5zM123.4 86.0h13v.5h-13zM123.9 86.5h12v.5h-12zM123.9 87.0h12.5v.5h-12.5zM123.9 87.5h12.5v.5h-12.5zM123.9 88.0h13v.5h-13zM124.9 88.5h12v.5h-12zM125.4 89.0h12.5v.5h-12.5zM125.4 89.5h12.5v.5h-12.5zM125.4 90.0h12.5v.5h-12.5zM125.9 90.5h12v.5h-12zM125.9 91.0h12.5v.5h-12.5zM125.9 91.5h12.5v.5h-12.5zM125.9 92.0h12.5v.5h-12.5zM125.9 92.5h13.5v.5h-13.5zM125.9 93.0h13.5v.5h-13.5zM125.9 93.5h15v.5h-15zM125.9 94.0h15v.5h-15zM126.4 94.5h15v.5h-15zM126.4 95.0h15.5v.5h-15.5zM126.4 95.5h16v.5h-16zM126.4 96.0h16v.5h-16zM125.9 96.5h16.5v.5h-16.5zM125.9 97.0h17v.5h-17zM125.9 97.5h17.5v.5h-17.5zM125.9 98.0h17.5v.5h-17.5zM125.9 98.5h17.5v.5h-17.5zM126.4 99.0h17v.5h-17zM126.4 99.5h17v.5h-17zM125.9 100.0h18v.5h-18zM125.9 100.5h18v.5h-18zM125.9 101.0h18.5v.5h-18.5zM127.4 101.5h17.5v.5h-17.5zM128.4 102.0h16v.5h-16zM128.9 102.5h16v.5h-16zM128.9 103.0h16v.5h-16zM128.9 103.5h16v.5h-16zM128.9 104.0h16v.5h-16zM129.4 104.5h15.5v.5h-15.5zM129.9 105.0h15v.5h-15zM130.4 105.5h15v.5h-15zM130.4 106.0h15.5v.5h-15.5zM130.9 106.5h15v.5h-15zM130.9 107.0h15v.5h-15zM131.9 107.5h13.5v.5h-13.5zM133.4 108.0h0.5v.5h-0.5zM134.4 108.0h11v.5h-11zM134.4 108.5h10.5v.5h-10.5zM134.9 109.0h10v.5h-10zM135.4 109.5h10v.5h-10zM136.4 110.0h9.5v.5h-9.5zM136.9 110.5h9.5v.5h-9.5zM139.4 111.0h7.5v.5h-7.5zM139.9 111.5h2.5v.5h-2.5zM142.9 111.5h4v.5h-4zM140.4 112.0h0.5v.5h-0.5zM143.4 112.0h3.5v.5h-3.5zM143.4 112.5h3.5v.5h-3.5zM143.4 113.0h4v.5h-4zM143.4 113.5h4.5v.5h-4.5zM143.9 114.0h4v.5h-4zM144.4 114.5h4v.5h-4zM144.9 115.0h3.5v.5h-3.5zM145.4 115.5h4v.5h-4zM147.9 116.0h1v.5h-1z" fill="#f29b11"/>
<path d="M368.9 65.9h1.5v.5h-1.5zM368.4 66.4h2v.5h-2zM367.4 66.9h3.5v.5h-3.5zM366.9 67.4h4v.5h-4zM374.4 67.4h2v.5h-2zM365.4 67.9h5.5v.5h-5.5zM373.9 67.9h3v.5h-3zM365.4 68.4h6v.5h-6zM373.9 68.4h3v.5h-3zM364.9 68.9h6.5v.5h-6.5zM372.4 68.9h0.5v.5h-0.5zM373.4 68.9h3.5v.5h-3.5zM364.9 69.4h12v.5h-12zM364.9 69.9h15.5v.5h-15.5zM364.9 70.4h16.5v.5h-16.5zM364.4 70.9h17v.5h-17zM364.4 71.4h17v.5h-17zM363.9 71.9h17v.5h-17zM362.9 72.4h18v.5h-18zM361.9 72.9h19v.5h-19zM361.4 73.4h20v.5h-20zM358.4 73.9h0.5v.5h-0.5zM360.4 73.9h21v.5h-21zM357.4 74.4h24v.5h-24zM355.4 74.9h25.5v.5h-25.5zM354.9 75.4h25.5v.5h-25.5zM348.9 75.9h2v.5h-2zM354.9 75.9h25v.5h-25zM348.9 76.4h1.5v.5h-1.5zM354.4 76.4h25.5v.5h-25.5zM346.9 76.9h0.5v.5h-0.5zM348.9 76.9h2v.5h-2zM352.9 76.9h27v.5h-27zM345.9 77.4h1.5v.5h-1.5zM348.9 77.4h31v.5h-31zM342.9 77.9h0.5v.5h-0.5zM346.4 77.9h1.5v.5h-1.5zM348.4 77.9h30.5v.5h-30.5zM342.4 78.4h1v.5h-1zM343.9 78.4h0.5v.5h-0.5zM345.9 78.4h32v.5h-32zM339.9 78.9h5v.5h-5zM345.4 78.9h32v.5h-32zM336.9 79.4h40v.5h-40zM336.4 79.9h40v.5h-40zM336.4 80.4h39.5v.5h-39.5zM336.4 80.9h39v.5h-39zM335.9 81.4h39.5v.5h-39.5zM335.9 81.9h39v.5h-39zM335.9 82.4h30.5v.5h-30.5zM366.9 82.4h8v.5h-8zM335.4 82.9h30.5v.5h-30.5zM367.4 82.9h7v.5h-7zM335.4 83.4h29v.5h-29zM367.9 83.4h6.5v.5h-6.5zM335.4 83.9h25v.5h-25zM361.4 83.9h1.5v.5h-1.5zM368.4 83.9h5.5v.5h-5.5zM334.4 84.4h22.5v.5h-22.5zM358.9 84.4h1.5v.5h-1.5zM368.9 84.4h4.5v.5h-4.5zM334.4 84.9h22v.5h-22zM368.9 84.9h4v.5h-4zM334.4 85.4h21.5v.5h-21.5zM369.4 85.4h3v.5h-3zM333.4 85.9h22.5v.5h-22.5zM369.4 85.9h2.5v.5h-2.5zM333.4 86.4h22v.5h-22zM369.9 86.4h0.5v.5h-0.5zM332.4 86.9h23v.5h-23zM331.9 87.4h21.5v.5h-21.5zM330.9 87.9h22.5v.5h-22.5zM330.4 88.4h23v.5h-23zM330.4 88.9h23v.5h-23zM329.9 89.4h23.5v.5h-23.5zM329.9 89.9h23.5v.5h-23.5zM329.9 90.4h23v.5h-23zM329.4 90.9h23v.5h-23zM328.9 91.4h23.5v.5h-23.5zM329.4 91.9h22v.5h-22zM329.9 92.4h21v.5h-21zM327.9 92.9h23.5v.5h-23.5zM351.9 92.9h0.5v.5h-0.5zM327.4 93.4h25.5v.5h-25.5zM327.4 93.9h26v.5h-26zM327.4 94.4h15.5v.5h-15.5zM343.4 94.4h10v.5h-10zM326.9 94.9h15v.5h-15zM343.9 94.9h9v.5h-9zM326.4 95.4h15v.5h-15zM343.9 95.4h7.5v.5h-7.5zM325.9 95.9h15v.5h-15zM346.4 95.9h0.5v.5h-0.5zM348.9 95.9h2.5v.5h-2.5zM325.9 96.4h15v.5h-15zM326.4 96.9h14v.5h-14zM326.4 97.4h2v.5h-2zM329.4 97.4h7v.5h-7zM326.4 97.9h1.5v.5h-1.5zM329.9 97.9h5.5v.5h-5.5zM326.4 98.4h1v.5h-1zM331.9 98.4h3v.5h-3zM326.4 98.9h1v.5h-1zM333.4 98.9h1v.5h-1z" fill="#f29b11"/>
<path d="M571.1 59.7h3v.5h-3zM571.1 60.2h4v.5h-4zM577.1 60.2h0.5v.5h-0.5zM570.6 60.7h5v.5h-5zM576.6 60.7h2v.5h-2zM570.1 61.2h5.5v.5h-5.5zM576.6 61.2h2v.5h-2zM570.1 61.7h9v.5h-9zM566.6 62.2h13v.5h-13zM581.1 62.2h2v.5h-2zM566.1 62.7h17.5v.5h-17.5zM565.6 63.2h18v.5h-18zM588.6 63.2h0.5v.5h-0.5zM565.1 63.7h18.5v.5h-18.5zM588.1 63.7h2.5v.5h-2.5zM564.6 64.2h19.5v.5h-19.5zM587.6 64.2h4v.5h-4zM563.6 64.7h22.5v.5h-22.5zM587.6 64.7h4v.5h-4zM563.1 65.2h29v.5h-29zM563.1 65.7h29.5v.5h-29.5zM562.6 66.2h30.5v.5h-30.5zM563.1 66.7h30v.5h-30zM562.1 67.2h31.5v.5h-31.5zM562.6 67.7h33.5v.5h-33.5zM562.6 68.2h33.5v.5h-33.5zM562.1 68.7h34.5v.5h-34.5zM562.1 69.2h35v.5h-35zM561.6 69.7h37v.5h-37zM561.1 70.2h37.5v.5h-37.5zM561.1 70.7h38v.5h-38zM560.6 71.2h41v.5h-41zM560.6 71.7h40.5v.5h-40.5zM601.6 71.7h0.5v.5h-0.5zM560.1 72.2h42v.5h-42zM560.1 72.7h41.5v.5h-41.5zM560.1 73.2h35.5v.5h-35.5zM597.1 73.2h4v.5h-4zM559.6 73.7h26.5v.5h-26.5zM586.6 73.7h9v.5h-9zM597.6 73.7h3.5v.5h-3.5zM559.1 74.2h26v.5h-26zM587.1 74.2h4v.5h-4zM591.6 74.2h4v.5h-4zM597.6 74.2h3.5v.5h-3.5zM558.1 74.7h26.5v.5h-26.5zM587.1 74.7h2.5v.5h-2.5zM591.6 74.7h3.5v.5h-3.5zM598.1 74.7h3v.5h-3zM557.6 75.2h27v.5h-27zM587.1 75.2h2.5v.5h-2.5zM591.6 75.2h3.5v.5h-3.5zM598.6 75.2h2v.5h-2zM557.6 75.7h31v.5h-31zM592.6 75.7h2.5v.5h-2.5zM557.6 76.2h31v.5h-31zM557.1 76.7h31.5v.5h-31.5zM557.6 77.2h30.5v.5h-30.5zM558.1 77.7h30.5v.5h-30.5zM558.1 78.2h30.5v.5h-30.5zM558.6 78.7h30.5v.5h-30.5zM559.1 79.2h30v.5h-30zM559.1 79.7h30v.5h-30zM561.1 80.2h27.5v.5h-27.5zM562.1 80.7h26v.5h-26zM562.1 81.2h25.5v.5h-25.5zM562.1 81.7h25v.5h-25zM562.1 82.2h22.5v.5h-22.5zM585.6 82.2h0.5v.5h-0.5zM562.1 82.7h22.5v.5h-22.5zM562.1 83.2h22.5v.5h-22.5zM562.1 83.7h22.5v.5h-22.5zM562.1 84.2h23.5v.5h-23.5zM562.1 84.7h25v.5h-25zM562.1 85.2h25v.5h-25zM562.6 85.7h24.5v.5h-24.5zM562.6 86.2h25v.5h-25zM563.1 86.7h24.5v.5h-24.5zM590.1 86.7h1.5v.5h-1.5zM563.1 87.2h24.5v.5h-24.5zM589.6 87.2h2.5v.5h-2.5zM563.1 87.7h30v.5h-30zM563.1 88.2h31v.5h-31zM597.6 88.2h3v.5h-3zM562.6 88.7h32v.5h-32zM598.1 88.7h3v.5h-3zM562.1 89.2h33.5v.5h-33.5zM598.1 89.2h0.5v.5h-0.5zM599.1 89.2h2v.5h-2zM621.6 89.2h1v.5h-1zM561.6 89.7h34.5v.5h-34.5zM598.6 89.7h3.5v.5h-3.5zM620.6 89.7h2.5v.5h-2.5zM562.1 90.2h34.5v.5h-34.5zM599.1 90.2h5.5v.5h-5.5zM619.1 90.2h4v.5h-4zM561.6 90.7h35.5v.5h-35.5zM599.1 90.7h6.5v.5h-6.5zM615.1 90.7h2v.5h-2zM618.6 90.7h4.5v.5h-4.5zM561.6 91.2h36.5v.5h-36.5zM598.6 91.2h11.5v.5h-11.5zM611.6 91.2h11.5v.5h-11.5zM561.6 91.7h62.5v.5h-62.5zM561.1 92.2h63v.5h-63zM625.6 92.2h1v.5h-1zM561.1 92.7h63v.5h-63zM560.6 93.2h63.5v.5h-63.5zM560.6 93.7h62v.5h-62zM560.1 94.2h61v.5h-61zM559.6 94.7h56v.5h-56zM618.6 94.7h0.5v.5h-0.5zM559.1 95.2h56v.5h-56zM558.6 95.7h55.5v.5h-55.5zM559.1 96.2h54v.5h-54zM613.6 96.2h0.5v.5h-0.5zM559.1 96.7h53v.5h-53zM559.6 97.2h49v.5h-49zM609.1 97.2h0.5v.5h-0.5zM559.6 97.7h47.5v.5h-47.5zM560.1 98.2h46.5v.5h-46.5zM560.1 98.7h46v.5h-46zM560.6 99.2h45v.5h-45zM560.6 99.7h2v.5h-2zM563.1 99.7h42.5v.5h-42.5zM563.6 100.2h41.5v.5h-41.5zM563.6 100.7h41v.5h-41zM563.6 101.2h41v.5h-41zM563.6 101.7h41v.5h-41zM564.1 102.2h40.5v.5h-40.5zM564.1 102.7h41v.5h-41zM564.6 103.2h2.5v.5h-2.5zM567.6 103.2h38v.5h-38zM565.1 103.7h1v.5h-1zM568.6 103.7h38v.5h-38zM568.6 104.2h41.5v.5h-41.5zM568.6 104.7h42.5v.5h-42.5zM568.6 105.2h43v.5h-43zM568.6 105.7h43v.5h-43zM570.1 106.2h41.5v.5h-41.5zM571.1 106.7h40.5v.5h-40.5zM571.6 107.2h40v.5h-40zM573.1 107.7h18.5v.5h-18.5zM593.1 107.7h18.5v.5h-18.5zM573.6 108.2h17.5v.5h-17.5zM594.6 108.2h17.5v.5h-17.5zM573.6 108.7h17.5v.5h-17.5zM594.6 108.7h17.5v.5h-17.5zM574.1 109.2h17v.5h-17zM595.1 109.2h17v.5h-17zM574.1 109.7h16.5v.5h-16.5zM595.1 109.7h17.5v.5h-17.5zM574.1 110.2h2.5v.5h-2.5zM577.1 110.2h13.5v.5h-13.5zM595.6 110.2h13.5v.5h-13.5zM611.1 110.2h1.5v.5h-1.5zM574.1 110.7h1.5v.5h-1.5zM577.6 110.7h4.5v.5h-4.5zM586.6 110.7h4v.5h-4zM595.6 110.7h8.5v.5h-8.5zM606.1 110.7h2.5v.5h-2.5zM577.6 111.2h4v.5h-4zM587.6 111.2h2v.5h-2zM596.1 111.2h7.5v.5h-7.5zM606.6 111.2h1.5v.5h-1.5zM578.1 111.7h3v.5h-3zM595.6 111.7h5v.5h-5zM602.1 111.7h1v.5h-1zM578.1 112.2h2.5v.5h-2.5zM595.6 112.2h3.5v.5h-3.5zM578.6 112.7h1v.5h-1zM596.1 112.7h2.5v.5h-2.5zM603.6 114.7h1v.5h-1zM603.1 115.2h1v.5h-1zM603.1 115.7h1v.5h-1z" fill="#f29b11"/>
<path d="M123.7 64.5h1v.5h-1zM123.2 65.0h1.5v.5h-1.5zM123.2 65.5h1.5v.5h-1.5zM123.7 66.0h1v.5h-1zM123.7 66.5h1v.5h-1zM123.7 67.0h1.5v.5h-1.5zM124.7 67.5h0.5v.5h-0.5zM124.7 68.0h0.5v.5h-0.5zM124.2 68.5h2v.5h-2zM124.2 69.0h2v.5h-2zM124.7 69.5h1.5v.5h-1.5zM124.7 70.0h2v.5h-2zM124.7 70.5h2.5v.5h-2.5zM124.7 71.0h2.5v.5h-2.5zM125.2 71.5h2v.5h-2zM125.2 72.0h2v.5h-2zM125.7 72.5h2v.5h-2zM125.7 73.0h2v.5h-2zM126.2 73.5h1.5v.5h-1.5zM126.2 74.0h2v.5h-2zM126.2 74.5h2v.5h-2zM126.7 75.0h2v.5h-2zM126.7 75.5h2v.5h-2zM126.7 76.0h2v.5h-2zM127.2 76.5h2v.5h-2zM127.2 77.0h2v.5h-2zM127.7 77.5h2v.5h-2zM127.7 78.0h2v.5h-2zM127.7 78.5h2v.5h-2zM128.7 79.0h1.5v.5h-1.5zM128.7 79.5h1.5v.5h-1.5zM129.2 80.0h1v.5h-1zM128.7 80.5h1.5v.5h-1.5zM128.7 81.0h0.5v.5h-0.5z" fill="#1e2c57"/>
<path d="M359.5 75.0h3v.5h-3zM359.0 75.5h5.5v.5h-5.5zM359.0 76.0h5.5v.5h-5.5zM359.0 76.5h5.5v.5h-5.5zM359.0 77.0h6v.5h-6zM360.0 77.5h4.5v.5h-4.5zM360.5 78.0h2v.5h-2zM363.0 78.0h0.5v.5h-0.5z" fill="#1e2c57"/>
<path d="M372.5 73.5h1v.5h-1zM371.0 74.0h1v.5h-1zM372.5 74.0h1v.5h-1zM371.0 74.5h2.5v.5h-2.5zM370.5 75.0h3v.5h-3zM371.0 75.5h2.5v.5h-2.5zM371.0 76.0h2.5v.5h-2.5zM371.5 76.5h1.5v.5h-1.5z" fill="#1e2c57"/>
<path d="M577.5 77.1h1v.5h-1zM576.5 77.6h2.5v.5h-2.5zM574.0 78.1h1v.5h-1zM576.5 78.1h4v.5h-4zM571.5 78.6h10v.5h-10zM569.5 79.1h12v.5h-12zM569.0 79.6h12v.5h-12zM568.5 80.1h11.5v.5h-11.5zM568.0 80.6h11.5v.5h-11.5zM567.5 81.1h11v.5h-11zM565.0 81.6h0.5v.5h-0.5zM567.0 81.6h11v.5h-11zM567.5 82.1h9.5v.5h-9.5zM568.5 82.6h6v.5h-6zM569.5 83.1h0.5v.5h-0.5zM570.5 83.1h3.5v.5h-3.5zM572.0 83.6h0.5v.5h-0.5z" fill="#1e2c57"/>
<path d="M572.5 68.7h1.5v.5h-1.5zM572.5 69.2h2v.5h-2zM573.5 69.7h3v.5h-3zM573.5 70.2h3v.5h-3zM573.0 70.7h6.5v.5h-6.5zM580.0 70.7h1.5v.5h-1.5zM571.0 71.2h0.5v.5h-0.5zM573.0 71.2h8.5v.5h-8.5zM571.5 71.7h10.5v.5h-10.5zM572.0 72.2h11v.5h-11zM572.5 72.7h10.5v.5h-10.5zM574.0 73.2h4.5v.5h-4.5zM581.0 73.2h2v.5h-2z" fill="#1e2c57"/>
<path d="M612.5 95.0h2.5v.5h-2.5zM620.5 95.0h0.5v.5h-0.5zM609.0 95.5h1.5v.5h-1.5zM611.5 95.5h7v.5h-7zM620.0 95.5h0.5v.5h-0.5zM608.0 96.0h12v.5h-12zM607.5 96.5h13.5v.5h-13.5zM607.5 97.0h13.5v.5h-13.5zM607.0 97.5h13v.5h-13zM607.5 98.0h11v.5h-11zM608.0 98.5h9v.5h-9zM608.0 99.0h8.5v.5h-8.5zM608.0 99.5h3v.5h-3zM614.0 99.5h2.5v.5h-2.5zM608.5 100.0h2.5v.5h-2.5z" fill="#1e2c57"/>
<path d="M597.0 102.5h1v.5h-1zM599.5 102.5h1v.5h-1zM597.0 103.0h4.5v.5h-4.5zM596.5 103.5h5.5v.5h-5.5zM602.5 103.5h0.5v.5h-0.5zM597.0 104.0h6.5v.5h-6.5zM599.0 104.5h2.5v.5h-2.5zM599.5 105.0h1v.5h-1z" fill="#1e2c57"/>
<circle cx="128.7" cy="88.6" r="2.9" fill="#4dbdb3"/>
<circle cx="131.7" cy="93.1" r="2.9" fill="#f4511e"/>
<circle cx="351.8" cy="85.2" r="2.9" fill="#4dbdb3"/>
<circle cx="356.6" cy="82.3" r="2.9" fill="#f4511e"/>
<circle cx="579.5" cy="86.6" r="3" fill="#f4511e"/>
<circle cx="583.5" cy="91.7" r="3" fill="#4dbdb3"/>
<path d="M69.90,12.30 V144.20 H202.00" fill="none" stroke="#262626" stroke-width="1.4" stroke-linejoin="miter" stroke-linecap="butt"/>
<path d="M69.90,144.20 v-3.0 M113.93,144.20 v-3.0 M157.97,144.20 v-3.0 M202.00,144.20 v-3.0 M69.90,117.82 h3.0 M69.90,65.06 h3.0 M69.90,12.30 h3.0" stroke="#262626" stroke-width="1.1" fill="none"/>
<text transform="translate(69.90,168.30) scale(1.0,1.06)" font-size="19.6" font-weight="bold" text-anchor="middle" fill="#262626">0</text>
<text transform="translate(113.93,168.30) scale(1.0,1.06)" font-size="19.6" font-weight="bold" text-anchor="middle" fill="#262626">1</text>
<text transform="translate(157.97,168.30) scale(1.0,1.06)" font-size="19.6" font-weight="bold" text-anchor="middle" fill="#262626">2</text>
<text transform="translate(202.00,168.30) scale(1.0,1.06)" font-size="19.6" font-weight="bold" text-anchor="middle" fill="#262626">3</text>
<text transform="translate(63.90,125.27) scale(1.0,1.06)" font-size="19.6" font-weight="bold" text-anchor="end" fill="#262626">20</text>
<text transform="translate(63.90,72.51) scale(1.0,1.06)" font-size="19.6" font-weight="bold" text-anchor="end" fill="#262626">40</text>
<text transform="translate(63.90,19.75) scale(1.0,1.06)" font-size="19.6" font-weight="bold" text-anchor="end" fill="#262626">60</text>
<path d="M299.20,12.20 V144.20 H431.30" fill="none" stroke="#262626" stroke-width="1.4" stroke-linejoin="miter" stroke-linecap="butt"/>
<path d="M299.20,144.20 v-3.0 M343.23,144.20 v-3.0 M387.27,144.20 v-3.0 M431.30,144.20 v-3.0 M299.20,144.20 h3.0 M299.20,100.20 h3.0 M299.20,56.20 h3.0 M299.20,12.20 h3.0" stroke="#262626" stroke-width="1.1" fill="none"/>
<text transform="translate(299.20,168.30) scale(1.0,1.06)" font-size="19.6" font-weight="bold" text-anchor="middle" fill="#262626">3</text>
<text transform="translate(343.23,168.30) scale(1.0,1.06)" font-size="19.6" font-weight="bold" text-anchor="middle" fill="#262626">4</text>
<text transform="translate(387.27,168.30) scale(1.0,1.06)" font-size="19.6" font-weight="bold" text-anchor="middle" fill="#262626">5</text>
<text transform="translate(431.30,168.30) scale(1.0,1.06)" font-size="19.6" font-weight="bold" text-anchor="middle" fill="#262626">6</text>
<text transform="translate(293.20,151.65) scale(1.0,1.06)" font-size="19.6" font-weight="bold" text-anchor="end" fill="#262626">0</text>
<text transform="translate(293.20,107.65) scale(1.0,1.06)" font-size="19.6" font-weight="bold" text-anchor="end" fill="#262626">1</text>
<text transform="translate(293.20,63.65) scale(1.0,1.06)" font-size="19.6" font-weight="bold" text-anchor="end" fill="#262626">2</text>
<text transform="translate(293.20,19.65) scale(1.0,1.06)" font-size="19.6" font-weight="bold" text-anchor="end" fill="#262626">3</text>
<path d="M528.70,12.30 V144.20 H661.00" fill="none" stroke="#262626" stroke-width="1.4" stroke-linejoin="miter" stroke-linecap="butt"/>
<path d="M555.16,144.20 v-3.0 M608.08,144.20 v-3.0 M661.00,144.20 v-3.0 M528.70,144.20 h3.0 M528.70,100.23 h3.0 M528.70,56.27 h3.0 M528.70,12.30 h3.0" stroke="#262626" stroke-width="1.1" fill="none"/>
<text transform="translate(555.16,168.30) scale(1.0,1.06)" font-size="19.6" font-weight="bold" text-anchor="middle" fill="#262626">20</text>
<text transform="translate(608.08,168.30) scale(1.0,1.06)" font-size="19.6" font-weight="bold" text-anchor="middle" fill="#262626">40</text>
<text transform="translate(661.00,168.30) scale(1.0,1.06)" font-size="19.6" font-weight="bold" text-anchor="middle" fill="#262626">60</text>
<text transform="translate(522.70,151.65) scale(1.0,1.06)" font-size="19.6" font-weight="bold" text-anchor="end" fill="#262626">3</text>
<text transform="translate(522.70,107.68) scale(1.0,1.06)" font-size="19.6" font-weight="bold" text-anchor="end" fill="#262626">4</text>
<text transform="translate(522.70,63.72) scale(1.0,1.06)" font-size="19.6" font-weight="bold" text-anchor="end" fill="#262626">5</text>
<text transform="translate(522.70,19.75) scale(1.0,1.06)" font-size="19.6" font-weight="bold" text-anchor="end" fill="#262626">6</text>
<path d="M104.98,364.20 V363.41 H109.39 V364.20Z M109.39,364.20 V356.54 H113.80 V364.20Z M113.80,364.20 V345.46 H118.21 V364.20Z M118.21,364.20 V337.54 H122.62 V364.20Z M122.62,364.20 V325.39 H127.03 V364.20Z M127.03,364.20 V312.46 H131.44 V364.20Z M131.44,364.20 V316.15 H135.85 V364.20Z M135.85,364.20 V326.18 H140.26 V364.20Z M140.26,364.20 V342.02 H144.67 V364.20Z M144.67,364.20 V356.28 H149.08 V364.20Z M149.08,364.20 V362.62 H153.49 V364.20Z" fill="#1f2f5b" fill-opacity="0.6" stroke="#000" stroke-opacity="0.55" stroke-width="0.5"/>
<path d="M113.80,364.20 V356.28 H118.21 V364.20Z M118.21,364.20 V331.99 H122.62 V364.20Z M122.62,364.20 V305.59 H127.03 V364.20Z M127.03,364.20 V306.91 H131.44 V364.20Z M131.44,364.20 V299.78 H135.85 V364.20Z M135.85,364.20 V342.02 H140.26 V364.20Z M140.26,364.20 V346.78 H144.67 V364.20Z M144.67,364.20 V361.56 H149.08 V364.20Z" fill="#f39c12" fill-opacity="0.6" stroke="#000" stroke-opacity="0.55" stroke-width="0.5"/>
<path d="M316.81,364.20 V361.30 H321.22 V364.20Z M321.22,364.20 V358.39 H325.62 V364.20Z M325.62,364.20 V358.39 H330.02 V364.20Z M330.02,364.20 V355.75 H334.43 V364.20Z M334.43,364.20 V349.15 H338.83 V364.20Z M338.83,364.20 V343.08 H343.23 V364.20Z M343.23,364.20 V343.87 H347.64 V364.20Z M347.64,364.20 V335.16 H352.04 V364.20Z M352.04,364.20 V331.20 H356.44 V364.20Z M356.44,364.20 V338.06 H360.85 V364.20Z M360.85,364.20 V339.12 H365.25 V364.20Z M365.25,364.20 V339.38 H369.65 V364.20Z M369.65,364.20 V346.25 H374.06 V364.20Z M374.06,364.20 V352.32 H378.46 V364.20Z M378.46,364.20 V356.02 H382.86 V364.20Z M382.86,364.20 V361.03 H387.27 V364.20Z M387.27,364.20 V361.03 H391.67 V364.20Z M391.67,364.20 V363.14 H396.07 V364.20Z M396.07,364.20 V363.67 H400.48 V364.20Z" fill="#1f2f5b" fill-opacity="0.6" stroke="#000" stroke-opacity="0.55" stroke-width="0.5"/>
<path d="M321.22,364.20 V362.88 H325.62 V364.20Z M330.02,364.20 V346.25 H334.43 V364.20Z M334.43,364.20 V344.93 H338.83 V364.20Z M338.83,364.20 V350.21 H343.23 V364.20Z M343.23,364.20 V305.33 H347.64 V364.20Z M347.64,364.20 V319.58 H352.04 V364.20Z M352.04,364.20 V337.80 H356.44 V364.20Z M356.44,364.20 V351.53 H360.85 V364.20Z M360.85,364.20 V351.00 H365.25 V364.20Z M365.25,364.20 V343.87 H369.65 V364.20Z M369.65,364.20 V346.25 H374.06 V364.20Z M374.06,364.20 V351.53 H378.46 V364.20Z M378.46,364.20 V361.30 H382.86 V364.20Z" fill="#f39c12" fill-opacity="0.6" stroke="#000" stroke-opacity="0.55" stroke-width="0.5"/>
<path d="M555.28,364.20 V363.41 H560.57 V364.20Z M560.57,364.20 V353.11 H565.85 V364.20Z M565.85,364.20 V337.27 H571.14 V364.20Z M571.14,364.20 V319.32 H576.42 V364.20Z M576.42,364.20 V321.96 H581.71 V364.20Z M581.71,364.20 V327.24 H587.00 V364.20Z M587.00,364.20 V332.52 H592.28 V364.20Z M592.28,364.20 V342.29 H597.57 V364.20Z M597.57,364.20 V349.94 H602.85 V364.20Z M602.85,364.20 V353.38 H608.14 V364.20Z M608.14,364.20 V355.75 H613.43 V364.20Z M613.43,364.20 V358.39 H618.71 V364.20Z M618.71,364.20 V359.98 H624.00 V364.20Z M624.00,364.20 V361.82 H629.28 V364.20Z M629.28,364.20 V362.35 H634.57 V364.20Z" fill="#1f2f5b" fill-opacity="0.6" stroke="#000" stroke-opacity="0.55" stroke-width="0.5"/>
<path d="M560.57,364.20 V353.11 H565.85 V364.20Z M565.85,364.20 V338.59 H571.14 V364.20Z M571.14,364.20 V325.92 H576.42 V364.20Z M576.42,364.20 V309.29 H581.71 V364.20Z M581.71,364.20 V317.47 H587.00 V364.20Z M587.00,364.20 V334.37 H592.28 V364.20Z M592.28,364.20 V341.23 H597.57 V364.20Z M597.57,364.20 V347.30 H602.85 V364.20Z M602.85,364.20 V359.45 H608.14 V364.20Z M608.14,364.20 V361.30 H613.43 V364.20Z M613.43,364.20 V359.45 H618.71 V364.20Z M618.71,364.20 V362.35 H624.00 V364.20Z" fill="#f39c12" fill-opacity="0.6" stroke="#000" stroke-opacity="0.55" stroke-width="0.5"/>
<path d="M69.70,232.20 V364.20 H202.00 V232.20 Z" fill="none" stroke="#262626" stroke-width="1.4" stroke-linejoin="miter" stroke-linecap="butt"/>
<path d="M69.70,364.20 v-3.0 M69.70,232.20 v3.0 M113.80,364.20 v-3.0 M113.80,232.20 v3.0 M157.90,364.20 v-3.0 M157.90,232.20 v3.0 M202.00,364.20 v-3.0 M202.00,232.20 v3.0 M69.70,364.20 h3.0 M202.00,364.20 h-3.0 M69.70,311.40 h3.0 M202.00,311.40 h-3.0 M69.70,258.60 h3.0 M202.00,258.60 h-3.0" stroke="#262626" stroke-width="1.1" fill="none"/>
<text transform="translate(69.70,388.30) scale(1.0,1.06)" font-size="19.6" font-weight="bold" text-anchor="middle" fill="#262626">0</text>
<text transform="translate(113.80,388.30) scale(1.0,1.06)" font-size="19.6" font-weight="bold" text-anchor="middle" fill="#262626">1</text>
<text transform="translate(157.90,388.30) scale(1.0,1.06)" font-size="19.6" font-weight="bold" text-anchor="middle" fill="#262626">2</text>
<text transform="translate(202.00,388.30) scale(1.0,1.06)" font-size="19.6" font-weight="bold" text-anchor="middle" fill="#262626">3</text>
<text transform="translate(63.70,371.65) scale(1.0,1.06)" font-size="19.6" font-weight="bold" text-anchor="end" fill="#262626">0</text>
<text transform="translate(63.70,318.85) scale(1.0,1.06)" font-size="19.6" font-weight="bold" text-anchor="end" fill="#262626">0.2</text>
<text transform="translate(63.70,266.05) scale(1.0,1.06)" font-size="19.6" font-weight="bold" text-anchor="end" fill="#262626">0.4</text>
<path d="M299.20,232.20 V364.20 H431.30 V232.20 Z" fill="none" stroke="#262626" stroke-width="1.4" stroke-linejoin="miter" stroke-linecap="butt"/>
<path d="M299.20,364.20 v-3.0 M299.20,232.20 v3.0 M343.23,364.20 v-3.0 M343.23,232.20 v3.0 M387.27,364.20 v-3.0 M387.27,232.20 v3.0 M431.30,364.20 v-3.0 M431.30,232.20 v3.0 M299.20,364.20 h3.0 M431.30,364.20 h-3.0 M299.20,311.40 h3.0 M431.30,311.40 h-3.0 M299.20,258.60 h3.0 M431.30,258.60 h-3.0" stroke="#262626" stroke-width="1.1" fill="none"/>
<text transform="translate(299.20,388.30) scale(1.0,1.06)" font-size="19.6" font-weight="bold" text-anchor="middle" fill="#262626">3</text>
<text transform="translate(343.23,388.30) scale(1.0,1.06)" font-size="19.6" font-weight="bold" text-anchor="middle" fill="#262626">4</text>
<text transform="translate(387.27,388.30) scale(1.0,1.06)" font-size="19.6" font-weight="bold" text-anchor="middle" fill="#262626">5</text>
<text transform="translate(431.30,388.30) scale(1.0,1.06)" font-size="19.6" font-weight="bold" text-anchor="middle" fill="#262626">6</text>
<text transform="translate(293.20,371.65) scale(1.0,1.06)" font-size="19.6" font-weight="bold" text-anchor="end" fill="#262626">0</text>
<text transform="translate(293.20,318.85) scale(1.0,1.06)" font-size="19.6" font-weight="bold" text-anchor="end" fill="#262626">0.2</text>
<text transform="translate(293.20,266.05) scale(1.0,1.06)" font-size="19.6" font-weight="bold" text-anchor="end" fill="#262626">0.4</text>
<path d="M528.85,232.20 V364.20 H661.00 V232.20 Z" fill="none" stroke="#262626" stroke-width="1.4" stroke-linejoin="miter" stroke-linecap="butt"/>
<path d="M555.28,364.20 v-3.0 M555.28,232.20 v3.0 M608.14,364.20 v-3.0 M608.14,232.20 v3.0 M661.00,364.20 v-3.0 M661.00,232.20 v3.0 M528.85,364.20 h3.0 M661.00,364.20 h-3.0 M528.85,311.40 h3.0 M661.00,311.40 h-3.0 M528.85,258.60 h3.0 M661.00,258.60 h-3.0" stroke="#262626" stroke-width="1.1" fill="none"/>
<text transform="translate(555.28,388.30) scale(1.0,1.06)" font-size="19.6" font-weight="bold" text-anchor="middle" fill="#262626">20</text>
<text transform="translate(608.14,388.30) scale(1.0,1.06)" font-size="19.6" font-weight="bold" text-anchor="middle" fill="#262626">40</text>
<text transform="translate(661.00,388.30) scale(1.0,1.06)" font-size="19.6" font-weight="bold" text-anchor="middle" fill="#262626">60</text>
<text transform="translate(522.85,371.65) scale(1.0,1.06)" font-size="19.6" font-weight="bold" text-anchor="end" fill="#262626">0</text>
<text transform="translate(522.85,318.85) scale(1.0,1.06)" font-size="19.6" font-weight="bold" text-anchor="end" fill="#262626">0.2</text>
<text transform="translate(522.85,266.05) scale(1.0,1.06)" font-size="19.6" font-weight="bold" text-anchor="end" fill="#262626">0.4</text>
<defs><clipPath id="cg"><rect x="73.80" y="432.50" width="129.50" height="129.50"/></clipPath><clipPath id="ch"><rect x="300.00" y="433.30" width="131.60" height="131.00"/></clipPath><clipPath id="ci"><rect x="535.00" y="432.30" width="131.40" height="131.20"/></clipPath></defs>
<g clip-path="url(#cg)">
<path d="M92.0,522.3 L95.3,514.3 L98.2,507.9 L100.9,493.6 L103.3,512.7 L105.5,512.0 L107.5,509.6 L109.5,502.6 L111.3,499.6 L112.9,495.9 L114.5,492.1 L116.0,508.9 L117.4,533.7 L118.8,532.9 L120.1,549.2 L121.3,519.9 L122.5,537.8 L123.6,545.1 L124.7,526.3 L125.8,532.7 L126.8,498.1 L127.8,519.2 L128.7,550.7 L129.6,548.4 L130.5,542.6 L131.3,514.6 L132.2,526.8 L133.0,521.7 L133.8,532.7 L134.5,532.4 L135.3,514.8 L136.0,521.4 L136.7,550.2 L137.4,526.3 L138.0,529.2 L138.7,538.4 L139.3,537.6 L140.0,511.1 L140.6,538.6 L141.2,538.2 L141.7,544.9 L142.3,541.9 L142.9,529.0 L143.4,529.9 L144.0,535.7 L144.5,537.9 L145.0,543.8 L145.5,550.1 L146.0,536.6 L146.5,542.2 L147.0,557.9 L147.5,525.3 L147.9,556.9 L148.4,533.0 L148.8,533.1 L149.3,518.7 L149.7,546.3 L150.2,530.8 L150.6,525.0 L151.0,538.9 L151.4,534.5 L151.8,545.5 L152.2,543.4 L152.6,544.9 L153.0,560.4 L153.4,540.7 L153.8,546.9 L154.1,552.6 L154.5,589.0 L154.9,550.4 L155.2,542.2 L155.6,559.4 L155.9,556.8 L156.3,534.7 L156.6,542.4 L156.9,543.8 L157.3,516.4 L157.6,572.9 L157.9,592.4 L158.3,578.9 L158.6,537.9 L158.9,542.5 L159.2,523.3 L159.5,543.0 L159.8,548.5 L160.1,547.2 L160.4,534.9 L160.7,530.5 L161.0,522.2 L161.3,541.4 L161.6,537.2 L161.8,557.6 L162.1,536.9 L162.4,539.6 L162.7,546.4 L162.9,547.4 L163.2,560.1 L163.5,531.0 L163.7,529.6 L164.0,529.1 L164.3,539.7 L164.5,552.2 L164.8,562.6 L165.0,533.1 L165.3,548.5 L165.5,535.6 L165.8,563.8 L166.0,563.5 L166.2,535.7 L166.5,526.5 L166.7,566.2 L166.9,555.8 L167.2,560.5 L167.4,535.9 L167.6,540.7 L167.9,543.2 L168.1,531.4 L168.3,532.9 L168.5,545.6 L168.7,520.7 L169.0,556.2 L169.2,537.0 L169.4,530.5 L169.6,554.8 L169.8,582.4 L170.0,554.4 L170.2,539.2 L170.4,546.8 L170.7,568.7 L170.9,545.7 L171.1,550.9 L171.3,550.9 L171.5,538.9 L171.7,512.4 L171.8,543.1 L172.0,552.0 L172.2,557.0 L172.4,541.4 L172.6,534.0 L172.8,541.7 L173.0,586.9 L173.2,558.7 L173.4,540.8 L173.6,541.5 L173.7,559.4 L173.9,543.7 L174.1,548.4 L174.3,565.6 L174.5,529.1 L174.6,551.8 L174.8,531.7 L175.0,553.4 L175.2,555.8 L175.3,537.3 L175.5,525.5 L175.7,540.4 L175.8,541.1 L176.0,543.7 L176.2,549.7 L176.3,539.4 L176.5,530.9 L176.7,537.9 L176.8,549.2 L177.0,543.8 L177.2,523.4 L177.3,554.5 L177.5,520.5 L177.6,515.5 L177.8,547.4 L178.0,541.6 L178.1,552.6 L178.3,546.6 L178.4,523.8 L178.6,573.8 L178.7,531.9 L178.9,542.1 L179.0,523.9 L179.2,542.7 L179.3,548.5 L179.5,545.6 L179.6,540.9 L179.8,543.6 L179.9,537.9 L180.1,538.3 L180.2,558.3 L180.4,541.4 L180.5,524.8 L180.7,554.5 L180.8,564.6 L180.9,544.5 L181.1,565.0 L181.2,553.8 L181.4,561.2 L181.5,549.9 L181.6,544.7 L181.8,545.3 L181.9,539.8 L182.0,548.5 L182.2,543.2 L182.3,569.2 L182.4,582.3 L182.6,548.0 L182.7,553.2 L182.8,541.6 L183.0,561.0 L183.1,560.8 L183.2,548.4 L183.4,561.6 L183.5,532.3 L183.6,553.6 L183.7,547.2 L183.9,531.6 L184.0,545.9 L184.1,525.3 L184.3,536.6 L184.4,570.8 L184.5,546.5 L184.6,537.1 L184.7,539.8 L184.9,512.5 L185.0,541.9 L185.1,538.8 L185.2,566.0 L185.4,522.8 L185.5,539.5 L185.6,545.3 L185.7,518.7 L185.8,548.1 L185.9,534.3 L186.1,534.8 L186.2,520.2 L186.3,557.9 L186.4,562.4 L186.5,536.4 L186.6,557.9 L186.8,570.2 L186.9,538.0 L187.0,564.7 L187.1,561.7 L187.2,522.7 L187.3,548.8 L187.4,526.8 L187.5,550.9 L187.7,559.2 L187.8,562.3 L187.9,531.3 L188.0,566.3 L188.1,558.1 L188.2,556.9 L188.3,542.9 L188.4,545.6 L188.5,559.5 L188.6,543.7 L188.7,574.3 L188.8,542.6 L189.0,547.9 L189.1,532.8 L189.2,534.0 L189.3,555.7 L189.4,559.8 L189.5,539.8 L189.6,542.0 M81.6,506.9 L86.3,517.7 L90.2,507.3 L93.7,505.1 L96.8,503.1 L99.6,516.0 L102.1,503.2 L104.4,508.5 L106.5,503.3 L108.5,505.5 L110.4,498.5 L112.1,514.5 L113.7,512.9 L115.3,503.7 L116.7,499.4 L118.1,522.6 L119.5,525.9 L120.7,514.2 L121.9,515.5 L123.1,518.9 L124.2,540.2 L125.3,528.6 L126.3,549.7 L127.3,524.3 L128.2,529.5 L129.2,511.5 L130.1,514.7 L130.9,523.4 L131.8,505.5 L132.6,543.3 L133.4,519.9 L134.1,528.6 L134.9,525.6 L135.6,511.0 L136.3,514.0 L137.0,519.0 L137.7,491.4 L138.4,529.7 L139.0,530.4 L139.6,504.5 L140.3,508.5 L140.9,525.6 L141.5,515.6 L142.0,525.4 L142.6,540.8 L143.2,525.8 L143.7,520.9 L144.2,535.4 L144.8,520.8 L145.3,542.7 L145.8,514.4 L146.3,526.2 L146.8,545.1 L147.2,565.5 L147.7,599.2 L148.2,527.7 L148.6,517.4 L149.1,542.6 L149.5,541.6 L149.9,549.4 L150.4,520.5 L150.8,546.5 L151.2,545.0 L151.6,559.4 L152.0,555.2 L152.4,529.2 L152.8,524.4 L153.2,551.0 L153.6,526.9 L153.9,518.2 L154.3,523.4 L154.7,540.5 L155.0,554.1 L155.4,571.1 L155.7,524.5 L156.1,549.9 L156.4,539.9 L156.8,528.1 L157.1,546.9 L157.4,540.4 L157.8,552.4 L158.1,537.5 L158.4,535.1 L158.7,535.1 L159.0,550.0 L159.3,524.3 L159.7,502.0 L160.0,523.6 L160.3,580.1 L160.5,553.7 L160.8,533.5 L161.1,531.7 L161.4,518.5 L161.7,504.1 L162.0,567.3 L162.3,531.1 L162.5,531.6 L162.8,551.5 L163.1,538.2 L163.3,519.3 L163.6,553.2 L163.9,510.8 L164.1,502.7 L164.4,547.6 L164.6,545.8 L164.9,539.4 L165.1,541.0 L165.4,536.1 L165.6,539.0 L165.9,513.7 L166.1,531.1 L166.4,537.6 L166.6,536.4 L166.8,535.6 L167.1,542.8 L167.3,514.1 L167.5,534.9 L167.7,519.4 L168.0,556.5 L168.2,539.8 L168.4,525.2 L168.6,554.1 L168.9,544.5 L169.1,562.3 L169.3,538.1 L169.5,540.4 L169.7,557.7 L169.9,561.5 L170.1,554.9 L170.3,552.7 L170.5,527.2 L170.8,551.6 L171.0,537.5 L171.2,527.7 L171.4,557.1 L171.6,545.7 L171.8,516.7 L171.9,510.3 L172.1,545.5 L172.3,549.4 L172.5,530.7 L172.7,518.6 L172.9,528.6 L173.1,544.0 L173.3,537.3 L173.5,548.4 L173.6,513.0 L173.8,517.5 L174.0,532.0 L174.2,533.0 L174.4,550.7 L174.5,529.2 L174.7,519.7 L174.9,543.8 L175.1,542.1 L175.2,549.0 L175.4,559.0 L175.6,560.7 L175.8,524.4 L175.9,525.9 L176.1,555.4 L176.3,518.1 L176.4,552.3 L176.6,521.7 L176.8,546.5 L176.9,550.2 L177.1,510.7 L177.2,536.3 L177.4,532.8 L177.6,555.1 L177.7,514.6 L177.9,532.5 L178.0,563.7 L178.2,563.3 L178.4,551.3 L178.5,539.0 L178.7,531.8 L178.8,532.0 L179.0,531.4 L179.1,527.7 L179.3,547.4 L179.4,557.9 L179.6,525.4 L179.7,520.2 L179.9,531.0 L180.0,535.0 L180.1,551.3 L180.3,530.0 L180.4,544.7 L180.6,531.2 L180.7,553.6 L180.9,524.9 L181.0,527.7 L181.1,535.4 L181.3,551.0 L181.4,532.3 L181.6,562.4 L181.7,516.1 L181.8,542.3 L182.0,543.7 L182.1,536.0 L182.2,552.1 L182.4,514.9 L182.5,521.7 L182.6,513.4 L182.8,560.5 L182.9,522.7 L183.0,545.0 L183.2,532.4 L183.3,519.5 L183.4,551.4 L183.6,518.4 L183.7,538.6 L183.8,531.6 L183.9,538.9 L184.1,548.4 L184.2,532.6 L184.3,542.0 L184.4,548.8 L184.6,523.4 L184.7,549.0 L184.8,528.3 L184.9,533.8 L185.1,529.2 L185.2,527.3 L185.3,512.8 L185.4,539.0 L185.5,532.5 L185.7,502.6 L185.8,566.2 L185.9,538.0 L186.0,542.1 L186.1,545.3 L186.2,500.9 L186.4,538.8 L186.5,529.0 L186.6,546.5 L186.7,534.6 L186.8,522.4 L186.9,529.1 L187.0,549.1 L187.2,540.2 L187.3,528.2 L187.4,527.7 L187.5,545.0 L187.6,543.4 L187.7,531.0 L187.8,531.4 L187.9,555.8 L188.0,534.7 L188.2,537.4 L188.3,561.5 L188.4,529.7 L188.5,537.7 L188.6,541.5 L188.7,525.7 L188.8,553.6 L188.9,544.9 L189.0,569.7 L189.1,546.4 L189.2,526.6 L189.3,528.4 L189.4,550.4 L189.5,556.0 L189.6,560.0 M90.2,508.9 L93.7,516.9 L96.8,516.3 L99.6,530.6 L102.1,527.9 L104.4,504.7 L106.5,501.0 L108.5,517.3 L110.4,513.7 L112.1,524.5 L113.7,530.6 L115.3,533.3 L116.7,518.5 L118.1,538.4 L119.5,534.2 L120.7,532.6 L121.9,543.1 L123.1,520.7 L124.2,529.7 L125.3,523.6 L126.3,530.0 L127.3,533.2 L128.2,549.9 L129.2,516.2 L130.1,549.4 L130.9,493.8 L131.8,518.4 L132.6,530.0 L133.4,539.4 L134.1,525.1 L134.9,546.9 L135.6,581.5 L136.3,538.3 L137.0,539.4 L137.7,521.8 L138.4,516.4 L139.0,548.5 L139.6,584.6 L140.3,538.0 L140.9,533.5 L141.5,561.1 L142.0,528.7 L142.6,527.6 L143.2,552.1 L143.7,541.9 L144.2,526.1 L144.8,536.5 L145.3,532.0 L145.8,531.9 L146.3,552.2 L146.8,560.9 L147.2,548.7 L147.7,525.7 L148.2,567.4 L148.6,535.3 L149.1,598.0 L149.5,561.9 L149.9,524.1 L150.4,551.9 L150.8,546.9 L151.2,539.5 L151.6,525.3 L152.0,562.1 L152.4,559.3 L152.8,559.1 L153.2,552.1 L153.6,525.0 L153.9,564.7 L154.3,558.0 L154.7,566.5 L155.0,569.3 L155.4,546.2 L155.7,537.4 L156.1,513.4 L156.4,549.5 L156.8,545.7 L157.1,551.6 L157.4,537.8 L157.8,543.3 L158.1,567.8 L158.4,541.3 L158.7,533.0 L159.0,536.1 L159.3,542.2 L159.7,545.9 L160.0,557.9 L160.3,567.9 L160.5,561.7 L160.8,561.9 L161.1,561.6 L161.4,549.6 L161.7,564.1 L162.0,530.1 L162.3,544.8 L162.5,554.7 L162.8,530.0 L163.1,528.9 L163.3,567.0 L163.6,570.5 L163.9,548.6 L164.1,534.4 L164.4,550.2 L164.6,522.3 L164.9,563.0 L165.1,535.3 L165.4,535.4 L165.6,550.0 L165.9,575.0 L166.1,560.8 L166.4,537.4 L166.6,557.2 L166.8,556.2 L167.1,546.3 L167.3,546.0 L167.5,554.8 L167.7,534.0 L168.0,539.3 L168.2,573.2 L168.4,551.0 L168.6,559.1 L168.9,526.4 L169.1,539.1 L169.3,545.0 L169.5,553.9 L169.7,556.9 L169.9,560.0 L170.1,528.7 L170.3,553.3 L170.5,563.3 L170.8,543.4 L171.0,539.2 L171.2,552.4 L171.4,566.1 L171.6,534.9 L171.8,533.4 L171.9,581.0 L172.1,569.0 L172.3,521.4 L172.5,561.1 L172.7,578.3 L172.9,543.6 L173.1,555.3 L173.3,539.2 L173.5,579.5 L173.6,533.1 L173.8,540.6 L174.0,557.7 L174.2,561.8 L174.4,541.4 L174.5,560.8 L174.7,540.9 L174.9,558.4 L175.1,545.8 L175.2,576.6 L175.4,565.0 L175.6,581.6 L175.8,562.2 L175.9,561.7 L176.1,556.5 L176.3,550.5 L176.4,583.6 L176.6,555.7 L176.8,549.0 L176.9,570.9 L177.1,555.7 L177.2,589.0 L177.4,572.2 L177.6,570.2 L177.7,576.5 L177.9,536.5 L178.0,542.8 L178.2,549.5 L178.4,558.0 L178.5,530.6 L178.7,537.5 L178.8,545.3 L179.0,555.2 L179.1,558.1 L179.3,559.1 L179.4,553.4 L179.6,574.6 L179.7,554.0 L179.9,541.4 L180.0,549.2 L180.1,570.5 L180.3,552.5 L180.4,567.6 L180.6,575.0 L180.7,519.8 L180.9,557.4 L181.0,568.6 L181.1,577.8 L181.3,560.5 L181.4,561.9 L181.6,586.3 L181.7,580.1 L181.8,539.6 L182.0,566.1 L182.1,579.9 L182.2,544.9 L182.4,579.0 L182.5,525.2 L182.6,574.6 L182.8,566.5 L182.9,568.2 L183.0,560.8 L183.2,580.1 L183.3,569.3 L183.4,546.3 L183.6,536.3 L183.7,530.5 L183.8,535.1 L183.9,551.4 L184.1,547.1 L184.2,542.7 L184.3,562.8 L184.4,547.5 L184.6,546.6 L184.7,552.8 L184.8,555.1 L184.9,545.5 L185.1,567.7 L185.2,575.3 L185.3,552.3 L185.4,547.4 L185.5,571.7 L185.7,549.1 L185.8,548.5 L185.9,554.3 L186.0,544.9 L186.1,545.4 L186.2,549.4 L186.4,541.0 L186.5,555.5 L186.6,573.1 L186.7,552.9 L186.8,542.7 L186.9,553.3 L187.0,543.2 L187.2,550.9 L187.3,565.6 L187.4,581.0 L187.5,563.8 L187.6,565.5 L187.7,552.2 L187.8,526.4 L187.9,572.1 L188.0,565.1 L188.2,537.4 L188.3,533.9 L188.4,555.4 L188.5,551.9 L188.6,547.6 L188.7,525.7 L188.8,558.8 L188.9,567.3 L189.0,541.5 L189.1,563.7 L189.2,554.9 L189.3,530.2 L189.4,551.7 L189.5,552.3 L189.6,550.2 M84.9,506.6 L89.1,520.3 L92.7,514.8 L95.9,509.4 L98.8,513.7 L101.4,507.1 L103.7,501.3 L105.9,513.7 L107.9,534.8 L109.8,554.1 L111.6,546.8 L113.3,528.4 L114.8,517.1 L116.3,505.0 L117.7,490.7 L119.1,518.5 L120.3,506.0 L121.6,545.5 L122.7,515.9 L123.9,518.3 L124.9,526.7 L126.0,533.6 L127.0,545.3 L128.0,527.7 L128.9,508.9 L129.8,533.0 L130.7,522.1 L131.5,540.0 L132.3,528.1 L133.1,546.9 L133.9,527.8 L134.7,535.5 L135.4,528.4 L136.1,542.4 L136.8,553.0 L137.5,541.3 L138.2,519.3 L138.8,509.1 L139.5,537.8 L140.1,523.6 L140.7,523.1 L141.3,529.0 L141.9,559.9 L142.4,534.3 L143.0,552.0 L143.5,520.8 L144.1,523.9 L144.6,527.1 L145.1,576.4 L145.6,532.7 L146.1,527.3 L146.6,557.6 L147.1,526.0 L147.6,536.9 L148.0,542.1 L148.5,551.0 L148.9,556.8 L149.4,548.5 L149.8,493.4 L150.2,532.6 L150.7,536.5 L151.1,550.3 L151.5,551.3 L151.9,550.6 L152.3,555.8 L152.7,529.2 L153.1,544.3 L153.5,528.4 L153.8,558.1 L154.2,529.0 L154.6,541.0 L154.9,531.5 L155.3,542.6 L155.6,555.9 L156.0,524.9 L156.3,547.3 L156.7,545.2 L157.0,556.5 L157.3,540.8 L157.7,548.5 L158.0,539.0 L158.3,537.1 L158.6,553.0 L158.9,565.8 L159.3,538.6 L159.6,528.5 L159.9,531.0 L160.2,559.7 L160.5,535.6 L160.8,536.7 L161.0,538.4 L161.3,536.4 L161.6,547.8 L161.9,540.7 L162.2,529.0 L162.4,550.1 L162.7,566.7 L163.0,547.7 L163.3,541.2 L163.5,572.2 L163.8,557.3 L164.0,536.2 L164.3,545.6 L164.6,542.8 L164.8,563.5 L165.1,532.1 L165.3,515.9 L165.6,544.5 L165.8,555.6 L166.0,563.4 L166.3,532.5 L166.5,541.6 L166.8,556.4 L167.0,526.9 L167.2,530.9 L167.5,533.9 L167.7,570.7 L167.9,548.8 L168.1,535.4 L168.4,562.7 L168.6,532.1 L168.8,521.4 L169.0,526.4 L169.2,554.1 L169.4,556.7 L169.7,531.5 L169.9,528.2 L170.1,524.2 L170.3,524.3 L170.5,544.4 L170.7,551.2 L170.9,574.3 L171.1,535.8 L171.3,508.9 L171.5,548.6 L171.7,552.8 L171.9,535.8 L172.1,538.4 L172.3,565.7 L172.5,558.3 L172.7,563.5 L172.8,515.8 L173.0,553.4 L173.2,532.8 L173.4,514.4 L173.6,512.9 L173.8,520.0 L174.0,517.6 L174.1,561.6 L174.3,552.3 L174.5,557.3 L174.7,551.0 L174.8,505.4 L175.0,567.4 L175.2,539.0 L175.4,563.9 L175.5,526.6 L175.7,523.5 L175.9,551.2 L176.0,514.0 L176.2,541.2 L176.4,524.9 L176.5,538.6 L176.7,553.5 L176.9,552.2 L177.0,548.0 L177.2,536.3 L177.4,542.7 L177.5,508.8 L177.7,544.9 L177.8,552.8 L178.0,557.5 L178.2,558.8 L178.3,569.2 L178.5,563.3 L178.6,533.4 L178.8,543.5 L178.9,548.1 L179.1,540.5 L179.2,528.7 L179.4,534.5 L179.5,532.6 L179.7,553.1 L179.8,550.5 L180.0,558.2 L180.1,548.5 L180.2,558.7 L180.4,552.8 L180.5,549.2 L180.7,549.5 L180.8,550.3 L181.0,553.9 L181.1,526.4 L181.2,549.2 L181.4,561.8 L181.5,544.5 L181.7,562.6 L181.8,564.1 L181.9,546.4 L182.1,571.7 L182.2,598.2 L182.3,546.7 L182.5,530.0 L182.6,570.1 L182.7,562.2 L182.9,538.6 L183.0,575.9 L183.1,562.4 L183.3,566.2 L183.4,551.0 L183.5,577.0 L183.6,535.2 L183.8,547.1 L183.9,541.4 L184.0,550.6 L184.2,579.2 L184.3,551.7 L184.4,567.3 L184.5,548.0 L184.6,559.4 L184.8,552.2 L184.9,549.9 L185.0,534.5 L185.1,533.0 L185.3,560.3 L185.4,547.7 L185.5,523.6 L185.6,536.2 L185.7,556.3 L185.9,549.0 L186.0,551.7 L186.1,532.1 L186.2,544.2 L186.3,540.1 L186.4,511.3 L186.6,563.9 L186.7,563.5 L186.8,574.6 L186.9,573.6 L187.0,535.6 L187.1,540.5 L187.2,520.3 L187.3,574.1 L187.5,562.5 L187.6,525.4 L187.7,528.1 L187.8,530.6 L187.9,531.1 L188.0,544.1 L188.1,546.1 L188.2,545.6 L188.3,533.1 L188.4,547.4 L188.6,541.3 L188.7,523.2 L188.8,561.3 L188.9,559.3 L189.0,538.7 L189.1,549.5 L189.2,548.9 L189.3,514.0 L189.4,536.5 L189.5,551.7 L189.6,529.8 M92.0,499.2 L95.3,502.4 L98.2,491.1 L100.9,504.0 L103.3,494.5 L105.5,492.5 L107.5,481.1 L109.5,502.1 L111.3,488.4 L112.9,490.6 L114.5,497.9 L116.0,511.4 L117.4,514.8 L118.8,507.2 L120.1,464.7 L121.3,514.6 L122.5,514.9 L123.6,518.6 L124.7,492.7 L125.8,543.0 L126.8,515.2 L127.8,494.6 L128.7,499.0 L129.6,519.7 L130.5,486.8 L131.3,517.1 L132.2,521.6 L133.0,509.6 L133.8,508.6 L134.5,520.0 L135.3,519.9 L136.0,527.3 L136.7,520.4 L137.4,534.6 L138.0,522.0 L138.7,505.7 L139.3,510.0 L140.0,534.8 L140.6,505.8 L141.2,504.8 L141.7,484.8 L142.3,520.3 L142.9,514.7 L143.4,509.0 L144.0,503.3 L144.5,501.4 L145.0,524.4 L145.5,519.5 L146.0,515.4 L146.5,523.4 L147.0,519.9 L147.5,522.2 L147.9,538.0 L148.4,533.3 L148.8,540.8 L149.3,514.7 L149.7,497.9 L150.2,480.3 L150.6,514.7 L151.0,512.9 L151.4,522.2 L151.8,526.6 L152.2,521.3 L152.6,531.6 L153.0,506.9 L153.4,534.8 L153.8,507.0 L154.1,532.3 L154.5,492.1 L154.9,520.2 L155.2,518.5 L155.6,521.5 L155.9,518.3 L156.3,557.2 L156.6,535.4 L156.9,509.6 L157.3,510.5 L157.6,520.7 L157.9,514.2 L158.3,543.2 L158.6,501.4 L158.9,525.3 L159.2,545.5 L159.5,531.3 L159.8,524.8 L160.1,532.7 L160.4,547.2 L160.7,518.5 L161.0,536.1 L161.3,530.1 L161.6,531.3 L161.8,550.4 L162.1,529.3 L162.4,506.8 L162.7,511.3 L162.9,541.2 L163.2,528.2 L163.5,515.8 L163.7,520.0 L164.0,526.4 L164.3,556.3 L164.5,519.0 L164.8,535.1 L165.0,508.2 L165.3,546.2 L165.5,545.9 L165.8,553.1 L166.0,529.6 L166.2,524.3 L166.5,529.3 L166.7,519.5 L166.9,519.4 L167.2,538.8 L167.4,543.5 L167.6,532.1 L167.9,548.5 L168.1,513.5 L168.3,520.0 L168.5,535.6 L168.7,554.6 L169.0,531.5 L169.2,554.2 L169.4,527.8 L169.6,545.0 L169.8,539.6 L170.0,543.1 L170.2,537.0 L170.4,519.9 L170.7,549.0 L170.9,528.8 L171.1,541.2 L171.3,538.1 L171.5,535.2 L171.7,512.0 L171.8,533.3 L172.0,550.6 L172.2,521.7 L172.4,528.8 L172.6,526.7 L172.8,548.1 L173.0,512.4 L173.2,506.7 L173.4,569.8 L173.6,537.7 L173.7,512.5 L173.9,525.5 L174.1,533.9 L174.3,529.1 L174.5,544.0 L174.6,535.1 L174.8,490.2 L175.0,540.0 L175.2,539.2 L175.3,550.9 L175.5,508.8 L175.7,528.8 L175.8,529.8 L176.0,520.3 L176.2,516.9 L176.3,539.2 L176.5,519.2 L176.7,521.0 L176.8,540.4 L177.0,494.0 L177.2,514.6 L177.3,531.4 L177.5,517.1 L177.6,509.2 L177.8,500.5 L178.0,525.8 L178.1,558.6 L178.3,544.8 L178.4,503.2 L178.6,548.6 L178.7,516.3 L178.9,499.1 L179.0,515.0 L179.2,530.7 L179.3,531.6 L179.5,524.8 L179.6,537.6 L179.8,523.1 L179.9,519.8 L180.1,553.9 L180.2,545.9 L180.4,527.7 L180.5,549.5 L180.7,544.5 L180.8,547.2 L180.9,526.7 L181.1,534.6 L181.2,535.5 L181.4,547.9 L181.5,528.3 L181.6,532.1 L181.8,526.0 L181.9,534.0 L182.0,491.4 L182.2,537.8 L182.3,541.8 L182.4,530.3 L182.6,546.7 L182.7,550.2 L182.8,539.4 L183.0,527.6 L183.1,520.9 L183.2,503.9 L183.4,516.8 L183.5,525.5 L183.6,536.0 L183.7,527.1 L183.9,498.4 L184.0,485.2 L184.1,486.6 L184.3,514.9 L184.4,541.1 L184.5,520.1 L184.6,539.2 L184.7,530.4 L184.9,496.6 L185.0,531.3 L185.1,539.9 L185.2,543.2 L185.4,540.8 L185.5,522.3 L185.6,510.3 L185.7,519.0 L185.8,519.6 L185.9,542.2 L186.1,520.1 L186.2,533.7 L186.3,546.2 L186.4,542.7 L186.5,533.6 L186.6,543.0 L186.8,525.1 L186.9,506.4 L187.0,546.0 L187.1,546.4 L187.2,533.7 L187.3,516.5 L187.4,512.9 L187.5,531.1 L187.7,522.8 L187.8,542.2 L187.9,514.1 L188.0,507.7 L188.1,503.0 L188.2,526.0 L188.3,545.7 L188.4,503.8 L188.5,523.9 L188.6,528.8 L188.7,551.0 L188.8,502.8 L189.0,513.3 L189.1,540.2 L189.2,534.6 L189.3,509.6 L189.4,507.8 L189.5,545.2 L189.6,510.7 M83.1,480.5 L87.5,484.4 L91.3,496.3 L94.7,493.2 L97.6,504.9 L100.3,506.0 L102.8,501.8 L105.1,496.1 L107.1,506.2 L109.1,507.3 L110.9,512.9 L112.6,520.0 L114.2,511.9 L115.7,508.5 L117.2,516.1 L118.5,512.9 L119.8,538.4 L121.1,532.8 L122.3,543.8 L123.4,530.8 L124.5,507.1 L125.6,518.4 L126.6,526.1 L127.6,519.6 L128.5,528.0 L129.4,522.2 L130.3,545.6 L131.2,527.4 L132.0,540.1 L132.8,525.7 L133.6,527.5 L134.4,524.6 L135.1,546.8 L135.8,504.0 L136.5,537.9 L137.2,535.5 L137.9,535.6 L138.6,539.7 L139.2,552.8 L139.8,529.3 L140.4,517.3 L141.0,534.6 L141.6,565.3 L142.2,552.8 L142.8,531.9 L143.3,554.5 L143.9,547.0 L144.4,545.9 L144.9,545.8 L145.4,529.0 L145.9,518.5 L146.4,560.8 L146.9,562.3 L147.4,514.8 L147.8,525.0 L148.3,532.3 L148.8,548.4 L149.2,537.5 L149.6,563.1 L150.1,506.0 L150.5,527.2 L150.9,527.2 L151.3,532.4 L151.7,513.0 L152.1,534.3 L152.5,535.9 L152.9,551.7 L153.3,542.8 L153.7,536.6 L154.1,519.2 L154.4,547.0 L154.8,554.3 L155.1,553.4 L155.5,553.3 L155.9,519.5 L156.2,571.6 L156.5,548.5 L156.9,526.8 L157.2,526.9 L157.5,545.9 L157.9,544.2 L158.2,562.3 L158.5,556.4 L158.8,577.1 L159.1,538.4 L159.4,546.8 L159.7,552.6 L160.0,552.7 L160.3,554.0 L160.6,546.3 L160.9,545.5 L161.2,514.7 L161.5,547.8 L161.8,542.5 L162.1,539.6 L162.3,525.7 L162.6,529.9 L162.9,521.8 L163.2,533.8 L163.4,535.0 L163.7,532.6 L163.9,535.9 L164.2,541.4 L164.5,547.2 L164.7,565.9 L165.0,534.5 L165.2,548.5 L165.5,539.6 L165.7,519.1 L165.9,561.1 L166.2,530.9 L166.4,535.2 L166.7,567.2 L166.9,544.1 L167.1,559.7 L167.4,526.8 L167.6,539.1 L167.8,515.6 L168.0,544.3 L168.3,528.4 L168.5,537.4 L168.7,569.8 L168.9,533.8 L169.1,557.4 L169.4,563.4 L169.6,531.2 L169.8,560.4 L170.0,562.9 L170.2,540.2 L170.4,548.1 L170.6,557.8 L170.8,526.3 L171.0,538.0 L171.2,530.6 L171.4,519.2 L171.6,536.8 L171.8,502.1 L172.0,551.7 L172.2,526.1 L172.4,521.8 L172.6,558.0 L172.8,531.9 L173.0,568.6 L173.1,521.9 L173.3,534.1 L173.5,540.6 L173.7,542.7 L173.9,548.7 L174.1,529.5 L174.2,536.5 L174.4,546.3 L174.6,590.4 L174.8,535.9 L175.0,531.0 L175.1,521.0 L175.3,535.8 L175.5,555.4 L175.6,540.9 L175.8,551.2 L176.0,516.3 L176.1,532.0 L176.3,550.9 L176.5,558.8 L176.6,529.4 L176.8,535.8 L177.0,584.0 L177.1,563.8 L177.3,528.2 L177.5,566.5 L177.6,551.7 L177.8,536.5 L177.9,533.1 L178.1,512.3 L178.2,515.9 L178.4,538.9 L178.6,523.2 L178.7,529.6 L178.9,530.8 L179.0,520.4 L179.2,536.8 L179.3,527.5 L179.5,523.0 L179.6,541.2 L179.8,530.4 L179.9,555.0 L180.0,541.1 L180.2,541.7 L180.3,536.4 L180.5,510.9 L180.6,525.5 L180.8,542.1 L180.9,535.7 L181.0,533.6 L181.2,524.5 L181.3,529.4 L181.5,540.5 L181.6,529.4 L181.7,553.5 L181.9,566.8 L182.0,529.7 L182.1,544.6 L182.3,538.6 L182.4,562.7 L182.5,550.7 L182.7,551.4 L182.8,551.2 L182.9,513.9 L183.1,550.4 L183.2,525.7 L183.3,540.6 L183.5,529.0 L183.6,561.8 L183.7,542.0 L183.8,538.4 L184.0,537.5 L184.1,534.4 L184.2,527.9 L184.4,533.7 L184.5,540.5 L184.6,554.8 L184.7,545.2 L184.8,542.2 L185.0,532.0 L185.1,502.8 L185.2,518.9 L185.3,538.1 L185.4,531.2 L185.6,566.1 L185.7,545.6 L185.8,557.6 L185.9,533.8 L186.0,568.3 L186.2,539.4 L186.3,586.4 L186.4,515.6 L186.5,516.7 L186.6,559.0 L186.7,529.5 L186.9,540.6 L187.0,507.7 L187.1,518.3 L187.2,536.4 L187.3,539.0 L187.4,526.3 L187.5,555.6 L187.6,526.6 L187.7,534.8 L187.9,554.7 L188.0,552.4 L188.1,553.9 L188.2,549.1 L188.3,509.5 L188.4,541.6 L188.5,535.6 L188.6,554.1 L188.7,521.1 L188.8,533.6 L188.9,516.2 L189.0,561.6 L189.1,550.5 L189.2,539.5 L189.4,535.0 L189.5,532.2 L189.6,529.6 L189.7,542.5 M95.3,496.5 L98.2,481.7 L100.9,494.2 L103.3,498.1 L105.5,503.4 L107.5,504.0 L109.5,503.2 L111.3,516.9 L112.9,523.3 L114.5,526.4 L116.0,514.3 L117.4,498.6 L118.8,521.5 L120.1,511.7 L121.3,549.3 L122.5,519.9 L123.6,525.3 L124.7,548.0 L125.8,501.9 L126.8,500.4 L127.8,538.7 L128.7,527.2 L129.6,524.7 L130.5,527.5 L131.3,548.1 L132.2,523.6 L133.0,528.8 L133.8,537.6 L134.5,537.8 L135.3,551.5 L136.0,521.4 L136.7,564.2 L137.4,513.8 L138.0,520.9 L138.7,532.5 L139.3,532.2 L140.0,556.1 L140.6,549.3 L141.2,526.2 L141.7,521.5 L142.3,546.3 L142.9,547.1 L143.4,520.2 L144.0,497.8 L144.5,520.1 L145.0,548.4 L145.5,537.8 L146.0,534.9 L146.5,529.2 L147.0,520.5 L147.5,528.1 L147.9,547.1 L148.4,538.9 L148.8,535.9 L149.3,513.4 L149.7,526.3 L150.2,518.2 L150.6,538.4 L151.0,537.4 L151.4,510.4 L151.8,538.4 L152.2,530.1 L152.6,539.9 L153.0,523.0 L153.4,502.5 L153.8,530.9 L154.1,544.2 L154.5,531.9 L154.9,531.4 L155.2,536.4 L155.6,524.8 L155.9,534.1 L156.3,532.8 L156.6,547.0 L156.9,522.6 L157.3,542.0 L157.6,529.3 L157.9,520.5 L158.3,534.4 L158.6,576.8 L158.9,538.9 L159.2,537.4 L159.5,530.5 L159.8,561.4 L160.1,530.9 L160.4,533.1 L160.7,541.8 L161.0,543.8 L161.3,538.7 L161.6,510.0 L161.8,565.8 L162.1,507.4 L162.4,520.6 L162.7,533.1 L162.9,547.0 L163.2,557.3 L163.5,509.8 L163.7,525.4 L164.0,540.5 L164.3,542.8 L164.5,523.7 L164.8,540.3 L165.0,541.7 L165.3,546.5 L165.5,555.5 L165.8,547.4 L166.0,539.5 L166.2,550.5 L166.5,555.7 L166.7,556.6 L166.9,505.5 L167.2,516.4 L167.4,540.7 L167.6,524.4 L167.9,538.4 L168.1,529.6 L168.3,560.4 L168.5,520.6 L168.7,568.6 L169.0,548.2 L169.2,549.3 L169.4,533.9 L169.6,513.5 L169.8,527.4 L170.0,520.5 L170.2,525.7 L170.4,535.1 L170.7,540.0 L170.9,525.6 L171.1,547.9 L171.3,549.9 L171.5,535.0 L171.7,539.1 L171.8,533.0 L172.0,515.6 L172.2,519.3 L172.4,557.1 L172.6,539.8 L172.8,534.3 L173.0,540.9 L173.2,525.2 L173.4,548.0 L173.6,549.0 L173.7,535.7 L173.9,533.7 L174.1,524.1 L174.3,528.1 L174.5,554.6 L174.6,532.7 L174.8,533.5 L175.0,534.2 L175.2,512.3 L175.3,564.1 L175.5,522.9 L175.7,528.0 L175.8,536.3 L176.0,522.5 L176.2,533.4 L176.3,524.4 L176.5,534.6 L176.7,518.0 L176.8,547.4 L177.0,530.7 L177.2,558.9 L177.3,553.7 L177.5,544.2 L177.6,518.1 L177.8,517.0 L178.0,536.4 L178.1,525.1 L178.3,537.5 L178.4,566.0 L178.6,560.2 L178.7,552.0 L178.9,533.5 L179.0,514.3 L179.2,518.8 L179.3,537.5 L179.5,547.4 L179.6,550.5 L179.8,555.7 L179.9,535.1 L180.1,513.6 L180.2,534.0 L180.4,539.5 L180.5,560.6 L180.7,555.4 L180.8,513.7 L180.9,539.7 L181.1,524.5 L181.2,555.4 L181.4,538.7 L181.5,535.5 L181.6,531.3 L181.8,523.6 L181.9,561.2 L182.0,539.8 L182.2,530.4 L182.3,535.6 L182.4,513.1 L182.6,534.3 L182.7,550.3 L182.8,537.1 L183.0,547.6 L183.1,543.3 L183.2,482.1 L183.4,512.6 L183.5,553.1 L183.6,564.7 L183.7,526.1 L183.9,547.0 L184.0,557.0 L184.1,551.5 L184.3,532.8 L184.4,556.3 L184.5,519.7 L184.6,523.1 L184.7,500.0 L184.9,535.8 L185.0,549.4 L185.1,567.3 L185.2,524.5 L185.4,551.9 L185.5,524.7 L185.6,542.5 L185.7,528.7 L185.8,550.6 L185.9,533.5 L186.1,527.8 L186.2,559.0 L186.3,520.9 L186.4,533.4 L186.5,545.1 L186.6,558.2 L186.8,532.3 L186.9,513.6 L187.0,542.4 L187.1,493.7 L187.2,504.3 L187.3,542.6 L187.4,543.3 L187.5,539.4 L187.7,518.0 L187.8,551.9 L187.9,542.8 L188.0,548.1 L188.1,532.4 L188.2,554.7 L188.3,551.7 L188.4,521.4 L188.5,540.3 L188.6,537.4 L188.7,534.2 L188.8,518.8 L189.0,513.6 L189.1,531.5 L189.2,557.0 L189.3,530.2 L189.4,524.2 L189.5,529.4 L189.6,520.8 M83.1,498.4 L87.5,497.1 L91.3,487.0 L94.7,475.2 L97.6,482.9 L100.3,502.7 L102.8,496.0 L105.1,487.9 L107.1,487.5 L109.1,491.2 L110.9,503.0 L112.6,480.2 L114.2,499.1 L115.7,516.4 L117.2,505.3 L118.5,503.7 L119.8,498.4 L121.1,503.5 L122.3,484.0 L123.4,486.9 L124.5,518.8 L125.6,498.3 L126.6,531.0 L127.6,543.2 L128.5,499.5 L129.4,521.2 L130.3,550.8 L131.2,521.0 L132.0,528.6 L132.8,511.5 L133.6,519.1 L134.4,531.4 L135.1,532.2 L135.8,509.5 L136.5,534.2 L137.2,520.5 L137.9,536.9 L138.6,516.4 L139.2,493.8 L139.8,510.9 L140.4,504.3 L141.0,514.3 L141.6,537.7 L142.2,530.0 L142.8,523.7 L143.3,517.5 L143.9,533.4 L144.4,516.2 L144.9,535.5 L145.4,525.4 L145.9,525.8 L146.4,543.8 L146.9,512.2 L147.4,524.1 L147.8,524.5 L148.3,526.9 L148.8,559.7 L149.2,552.2 L149.6,543.7 L150.1,513.5 L150.5,535.1 L150.9,518.9 L151.3,543.0 L151.7,542.6 L152.1,536.8 L152.5,512.5 L152.9,552.6 L153.3,533.6 L153.7,522.7 L154.1,526.0 L154.4,528.8 L154.8,516.7 L155.1,523.3 L155.5,544.2 L155.9,520.8 L156.2,540.6 L156.5,535.8 L156.9,507.5 L157.2,489.2 L157.5,502.9 L157.9,520.4 L158.2,541.0 L158.5,542.8 L158.8,505.3 L159.1,522.4 L159.4,551.0 L159.7,507.7 L160.0,518.9 L160.3,508.6 L160.6,521.9 L160.9,563.2 L161.2,545.2 L161.5,534.2 L161.8,533.6 L162.1,507.4 L162.3,538.8 L162.6,533.1 L162.9,531.9 L163.2,532.4 L163.4,547.2 L163.7,551.7 L163.9,573.3 L164.2,530.1 L164.5,534.1 L164.7,528.3 L165.0,547.3 L165.2,532.8 L165.5,546.6 L165.7,548.6 L165.9,527.8 L166.2,521.1 L166.4,521.3 L166.7,531.1 L166.9,537.5 L167.1,510.3 L167.4,510.0 L167.6,539.3 L167.8,549.3 L168.0,527.6 L168.3,526.3 L168.5,545.4 L168.7,497.5 L168.9,560.9 L169.1,547.7 L169.4,529.6 L169.6,516.2 L169.8,559.2 L170.0,541.4 L170.2,510.5 L170.4,507.9 L170.6,533.5 L170.8,531.6 L171.0,545.8 L171.2,527.3 L171.4,547.9 L171.6,565.3 L171.8,559.1 L172.0,534.0 L172.2,552.9 L172.4,516.9 L172.6,510.6 L172.8,514.5 L173.0,520.3 L173.1,513.4 L173.3,526.2 L173.5,518.1 L173.7,523.6 L173.9,519.2 L174.1,546.8 L174.2,544.1 L174.4,549.1 L174.6,521.1 L174.8,523.4 L175.0,543.8 L175.1,548.9 L175.3,543.1 L175.5,519.9 L175.6,533.0 L175.8,536.3 L176.0,543.6 L176.1,535.5 L176.3,507.9 L176.5,540.8 L176.6,538.9 L176.8,506.7 L177.0,518.7 L177.1,548.9 L177.3,517.2 L177.5,550.7 L177.6,525.7 L177.8,571.3 L177.9,552.0 L178.1,520.3 L178.2,540.7 L178.4,544.7 L178.6,533.0 L178.7,532.7 L178.9,540.0 L179.0,544.0 L179.2,505.8 L179.3,506.8 L179.5,525.0 L179.6,549.9 L179.8,542.7 L179.9,538.3 L180.0,525.7 L180.2,507.1 L180.3,538.3 L180.5,531.0 L180.6,539.3 L180.8,531.2 L180.9,543.4 L181.0,528.0 L181.2,514.3 L181.3,537.1 L181.5,538.4 L181.6,531.6 L181.7,553.2 L181.9,506.7 L182.0,551.1 L182.1,540.3 L182.3,547.4 L182.4,511.0 L182.5,538.3 L182.7,541.3 L182.8,504.3 L182.9,531.9 L183.1,544.9 L183.2,534.2 L183.3,530.0 L183.5,544.3 L183.6,536.9 L183.7,536.6 L183.8,522.1 L184.0,519.9 L184.1,518.7 L184.2,533.4 L184.4,520.6 L184.5,535.0 L184.6,515.1 L184.7,524.9 L184.8,538.8 L185.0,514.4 L185.1,554.7 L185.2,550.3 L185.3,547.1 L185.4,536.5 L185.6,552.5 L185.7,553.7 L185.8,564.5 L185.9,534.4 L186.0,545.1 L186.2,500.2 L186.3,517.7 L186.4,549.3 L186.5,514.1 L186.6,529.5 L186.7,515.9 L186.9,548.6 L187.0,516.6 L187.1,514.3 L187.2,537.7 L187.3,546.8 L187.4,540.4 L187.5,529.7 L187.6,495.3 L187.7,501.2 L187.9,506.6 L188.0,533.9 L188.1,538.3 L188.2,527.9 L188.3,536.9 L188.4,540.8 L188.5,537.1 L188.6,520.4 L188.7,532.9 L188.8,529.4 L188.9,536.9 L189.0,536.6 L189.1,538.6 L189.2,514.1 L189.4,527.6 L189.5,509.4 L189.6,533.4 L189.7,516.7 M95.3,527.0 L98.2,525.8 L100.9,527.2 L103.3,529.4 L105.5,539.3 L107.5,516.7 L109.5,526.8 L111.3,521.4 L112.9,518.6 L114.5,514.7 L116.0,503.3 L117.4,485.0 L118.8,513.3 L120.1,518.3 L121.3,529.0 L122.5,517.2 L123.6,533.4 L124.7,526.3 L125.8,516.5 L126.8,517.0 L127.8,513.2 L128.7,522.9 L129.6,537.1 L130.5,557.3 L131.3,523.1 L132.2,553.6 L133.0,553.2 L133.8,516.0 L134.5,533.3 L135.3,524.2 L136.0,542.6 L136.7,523.9 L137.4,512.1 L138.0,515.6 L138.7,506.6 L139.3,524.4 L140.0,528.4 L140.6,551.6 L141.2,496.5 L141.7,542.2 L142.3,535.0 L142.9,530.8 L143.4,519.5 L144.0,522.9 L144.5,560.2 L145.0,545.5 L145.5,546.9 L146.0,568.4 L146.5,515.7 L147.0,535.5 L147.5,525.8 L147.9,538.5 L148.4,527.3 L148.8,537.7 L149.3,526.7 L149.7,531.6 L150.2,548.4 L150.6,529.1 L151.0,537.1 L151.4,545.7 L151.8,561.9 L152.2,558.6 L152.6,527.0 L153.0,527.4 L153.4,548.8 L153.8,541.1 L154.1,533.5 L154.5,553.4 L154.9,541.8 L155.2,535.4 L155.6,548.3 L155.9,554.1 L156.3,564.6 L156.6,563.3 L156.9,558.0 L157.3,549.1 L157.6,546.8 L157.9,547.3 L158.3,540.0 L158.6,569.9 L158.9,549.2 L159.2,544.5 L159.5,541.3 L159.8,544.9 L160.1,538.6 L160.4,552.2 L160.7,563.1 L161.0,551.8 L161.3,544.7 L161.6,553.6 L161.8,549.6 L162.1,549.1 L162.4,551.4 L162.7,520.2 L162.9,530.5 L163.2,528.4 L163.5,544.4 L163.7,551.4 L164.0,556.6 L164.3,536.8 L164.5,545.9 L164.8,529.8 L165.0,555.8 L165.3,541.9 L165.5,548.1 L165.8,513.1 L166.0,548.7 L166.2,543.0 L166.5,545.0 L166.7,530.9 L166.9,549.8 L167.2,543.9 L167.4,541.6 L167.6,536.6 L167.9,530.6 L168.1,543.2 L168.3,533.2 L168.5,540.2 L168.7,539.9 L169.0,541.8 L169.2,559.3 L169.4,537.3 L169.6,543.1 L169.8,550.1 L170.0,558.3 L170.2,529.5 L170.4,571.6 L170.7,556.9 L170.9,561.1 L171.1,553.7 L171.3,582.6 L171.5,531.9 L171.7,520.9 L171.8,520.0 L172.0,547.2 L172.2,550.9 L172.4,554.8 L172.6,557.0 L172.8,530.0 L173.0,548.5 L173.2,529.0 L173.4,538.9 L173.6,561.9 L173.7,545.0 L173.9,558.7 L174.1,529.8 L174.3,533.5 L174.5,511.5 L174.6,540.4 L174.8,511.3 L175.0,549.5 L175.2,552.2 L175.3,557.0 L175.5,527.1 L175.7,550.4 L175.8,533.9 L176.0,535.5 L176.2,530.2 L176.3,559.0 L176.5,580.3 L176.7,508.0 L176.8,548.2 L177.0,547.5 L177.2,537.3 L177.3,532.9 L177.5,553.6 L177.6,563.4 L177.8,566.1 L178.0,559.5 L178.1,550.0 L178.3,543.5 L178.4,570.8 L178.6,533.5 L178.7,543.2 L178.9,548.3 L179.0,583.0 L179.2,533.3 L179.3,550.8 L179.5,551.9 L179.6,534.4 L179.8,544.4 L179.9,526.9 L180.1,510.1 L180.2,559.8 L180.4,523.5 L180.5,567.4 L180.7,558.9 L180.8,549.3 L180.9,522.7 L181.1,541.2 L181.2,539.9 L181.4,566.0 L181.5,560.1 L181.6,567.9 L181.8,541.3 L181.9,548.9 L182.0,510.5 L182.2,567.6 L182.3,548.8 L182.4,571.7 L182.6,573.1 L182.7,560.1 L182.8,563.9 L183.0,581.9 L183.1,564.6 L183.2,546.4 L183.4,583.9 L183.5,559.4 L183.6,531.2 L183.7,566.3 L183.9,536.3 L184.0,558.8 L184.1,530.6 L184.3,547.3 L184.4,549.1 L184.5,555.8 L184.6,548.0 L184.7,549.1 L184.9,576.1 L185.0,564.8 L185.1,569.0 L185.2,558.5 L185.4,562.7 L185.5,579.7 L185.6,551.0 L185.7,553.3 L185.8,551.0 L185.9,557.9 L186.1,529.3 L186.2,538.5 L186.3,544.1 L186.4,528.9 L186.5,543.1 L186.6,535.9 L186.8,543.2 L186.9,528.4 L187.0,540.0 L187.1,551.1 L187.2,545.9 L187.3,540.7 L187.4,527.0 L187.5,534.7 L187.7,538.3 L187.8,541.8 L187.9,545.6 L188.0,542.5 L188.1,554.6 L188.2,558.2 L188.3,528.4 L188.4,581.7 L188.5,552.4 L188.6,563.1 L188.7,568.7 L188.8,562.7 L189.0,545.5 L189.1,552.1 L189.2,555.8 L189.3,548.7 L189.4,523.5 L189.5,547.8 L189.6,535.5 M92.0,507.5 L95.3,500.0 L98.2,499.8 L100.9,502.7 L103.3,513.1 L105.5,512.9 L107.5,509.0 L109.5,522.6 L111.3,501.1 L112.9,516.3 L114.5,518.1 L116.0,520.4 L117.4,518.3 L118.8,521.7 L120.1,485.3 L121.3,517.0 L122.5,521.1 L123.6,509.4 L124.7,527.0 L125.8,545.0 L126.8,501.5 L127.8,521.3 L128.7,504.2 L129.6,503.0 L130.5,492.0 L131.3,509.3 L132.2,519.5 L133.0,551.1 L133.8,513.7 L134.5,538.8 L135.3,506.7 L136.0,532.3 L136.7,542.8 L137.4,528.2 L138.0,529.9 L138.7,525.7 L139.3,513.7 L140.0,504.0 L140.6,523.7 L141.2,506.6 L141.7,523.8 L142.3,553.0 L142.9,546.1 L143.4,533.6 L144.0,532.6 L144.5,521.5 L145.0,544.5 L145.5,551.8 L146.0,520.9 L146.5,535.9 L147.0,502.1 L147.5,544.5 L147.9,543.5 L148.4,497.1 L148.8,558.5 L149.3,562.8 L149.7,534.2 L150.2,547.4 L150.6,538.5 L151.0,515.8 L151.4,536.3 L151.8,534.0 L152.2,521.8 L152.6,547.7 L153.0,561.0 L153.4,533.0 L153.8,534.6 L154.1,524.5 L154.5,544.0 L154.9,541.6 L155.2,538.6 L155.6,530.4 L155.9,521.2 L156.3,529.4 L156.6,572.1 L156.9,545.7 L157.3,547.0 L157.6,549.3 L157.9,546.7 L158.3,530.8 L158.6,574.1 L158.9,533.6 L159.2,524.1 L159.5,523.7 L159.8,545.4 L160.1,561.4 L160.4,559.8 L160.7,546.4 L161.0,506.7 L161.3,546.3 L161.6,537.8 L161.8,517.6 L162.1,516.0 L162.4,535.1 L162.7,527.0 L162.9,511.5 L163.2,526.2 L163.5,532.9 L163.7,548.4 L164.0,542.2 L164.3,542.5 L164.5,562.3 L164.8,550.9 L165.0,514.8 L165.3,549.6 L165.5,558.0 L165.8,555.4 L166.0,534.9 L166.2,523.5 L166.5,525.3 L166.7,505.3 L166.9,543.5 L167.2,532.7 L167.4,535.2 L167.6,540.4 L167.9,514.4 L168.1,543.0 L168.3,535.3 L168.5,555.6 L168.7,530.6 L169.0,537.8 L169.2,553.6 L169.4,553.3 L169.6,558.4 L169.8,543.6 L170.0,541.8 L170.2,540.5 L170.4,546.2 L170.7,522.5 L170.9,530.7 L171.1,531.5 L171.3,536.9 L171.5,551.6 L171.7,528.6 L171.8,507.1 L172.0,511.6 L172.2,525.0 L172.4,551.3 L172.6,551.1 L172.8,546.7 L173.0,531.4 L173.2,538.5 L173.4,542.1 L173.6,528.5 L173.7,525.2 L173.9,550.9 L174.1,552.9 L174.3,531.6 L174.5,528.8 L174.6,545.3 L174.8,533.0 L175.0,561.5 L175.2,554.9 L175.3,535.5 L175.5,554.0 L175.7,533.6 L175.8,546.8 L176.0,519.7 L176.2,547.9 L176.3,532.6 L176.5,535.7 L176.7,555.3 L176.8,571.8 L177.0,536.8 L177.2,553.0 L177.3,536.0 L177.5,504.6 L177.6,560.7 L177.8,537.5 L178.0,553.9 L178.1,552.4 L178.3,562.5 L178.4,548.3 L178.6,516.0 L178.7,515.1 L178.9,543.5 L179.0,547.4 L179.2,554.2 L179.3,546.7 L179.5,548.8 L179.6,537.4 L179.8,557.9 L179.9,526.8 L180.1,539.5 L180.2,539.7 L180.4,541.8 L180.5,562.0 L180.7,528.0 L180.8,539.2 L180.9,517.7 L181.1,534.0 L181.2,523.2 L181.4,527.2 L181.5,538.3 L181.6,534.3 L181.8,541.4 L181.9,564.2 L182.0,555.9 L182.2,532.7 L182.3,551.6 L182.4,560.9 L182.6,554.4 L182.7,538.7 L182.8,564.6 L183.0,552.0 L183.1,546.0 L183.2,545.3 L183.4,558.8 L183.5,584.9 L183.6,556.2 L183.7,523.2 L183.9,517.2 L184.0,548.2 L184.1,517.9 L184.3,525.2 L184.4,541.6 L184.5,556.7 L184.6,548.7 L184.7,549.5 L184.9,539.9 L185.0,562.3 L185.1,564.7 L185.2,548.4 L185.4,551.1 L185.5,534.8 L185.6,553.9 L185.7,527.8 L185.8,521.4 L185.9,555.9 L186.1,536.2 L186.2,518.9 L186.3,538.3 L186.4,525.4 L186.5,542.0 L186.6,539.2 L186.8,545.4 L186.9,547.3 L187.0,517.5 L187.1,547.8 L187.2,567.1 L187.3,551.1 L187.4,532.0 L187.5,550.7 L187.7,525.5 L187.8,523.1 L187.9,535.4 L188.0,543.8 L188.1,547.1 L188.2,551.9 L188.3,511.5 L188.4,525.8 L188.5,542.7 L188.6,536.3 L188.7,532.1 L188.8,515.0 L189.0,522.8 L189.1,538.5 L189.2,551.4 L189.3,564.3 L189.4,540.2 L189.5,511.3 L189.6,531.5 M88.3,509.0 L92.0,515.9 L95.3,508.2 L98.2,512.3 L100.9,519.3 L103.3,515.2 L105.5,530.4 L107.5,519.1 L109.5,529.2 L111.3,530.8 L112.9,519.6 L114.5,518.9 L116.0,515.8 L117.4,492.6 L118.8,488.9 L120.1,480.4 L121.3,521.7 L122.5,503.6 L123.6,542.8 L124.7,509.0 L125.8,498.4 L126.8,529.8 L127.8,514.9 L128.7,508.1 L129.6,523.6 L130.5,533.2 L131.3,501.0 L132.2,542.6 L133.0,524.0 L133.8,510.2 L134.5,520.5 L135.3,500.9 L136.0,500.9 L136.7,517.1 L137.4,498.7 L138.0,513.2 L138.7,546.1 L139.3,535.5 L140.0,525.4 L140.6,525.9 L141.2,555.8 L141.7,496.5 L142.3,551.3 L142.9,550.3 L143.4,525.7 L144.0,527.3 L144.5,506.8 L145.0,525.5 L145.5,525.2 L146.0,519.8 L146.5,542.4 L147.0,553.7 L147.5,541.9 L147.9,517.7 L148.4,535.9 L148.8,513.8 L149.3,540.0 L149.7,522.2 L150.2,532.0 L150.6,520.4 L151.0,532.4 L151.4,530.7 L151.8,541.1 L152.2,515.4 L152.6,533.1 L153.0,526.5 L153.4,523.6 L153.8,547.7 L154.1,549.2 L154.5,537.1 L154.9,515.3 L155.2,549.8 L155.6,552.7 L155.9,552.6 L156.3,543.3 L156.6,553.1 L156.9,550.2 L157.3,528.9 L157.6,552.2 L157.9,537.7 L158.3,554.6 L158.6,541.0 L158.9,528.5 L159.2,566.8 L159.5,538.5 L159.8,533.0 L160.1,537.0 L160.4,532.5 L160.7,529.6 L161.0,556.2 L161.3,540.5 L161.6,527.0 L161.8,515.5 L162.1,556.0 L162.4,548.1 L162.7,559.4 L162.9,539.5 L163.2,554.0 L163.5,554.1 L163.7,526.7 L164.0,501.0 L164.3,565.8 L164.5,514.3 L164.8,549.3 L165.0,527.8 L165.3,530.9 L165.5,517.4 L165.8,538.7 L166.0,550.6 L166.2,539.8 L166.5,525.4 L166.7,550.3 L166.9,532.5 L167.2,537.2 L167.4,534.8 L167.6,537.2 L167.9,528.2 L168.1,524.2 L168.3,540.9 L168.5,543.6 L168.7,572.0 L169.0,555.0 L169.2,563.4 L169.4,529.9 L169.6,554.0 L169.8,550.5 L170.0,531.0 L170.2,521.8 L170.4,517.4 L170.7,549.3 L170.9,535.5 L171.1,521.1 L171.3,549.7 L171.5,542.8 L171.7,557.7 L171.8,550.1 L172.0,528.3 L172.2,535.8 L172.4,543.7 L172.6,547.5 L172.8,515.4 L173.0,524.2 L173.2,556.2 L173.4,506.2 L173.6,541.6 L173.7,541.0 L173.9,546.3 L174.1,548.1 L174.3,529.4 L174.5,560.1 L174.6,540.1 L174.8,543.7 L175.0,511.7 L175.2,529.7 L175.3,530.8 L175.5,529.5 L175.7,528.3 L175.8,535.6 L176.0,576.4 L176.2,535.7 L176.3,543.2 L176.5,528.0 L176.7,532.7 L176.8,546.5 L177.0,553.3 L177.2,555.9 L177.3,535.9 L177.5,540.0 L177.6,552.6 L177.8,545.7 L178.0,533.9 L178.1,548.5 L178.3,541.6 L178.4,548.4 L178.6,580.1 L178.7,541.4 L178.9,538.0 L179.0,526.0 L179.2,517.1 L179.3,547.9 L179.5,530.4 L179.6,533.7 L179.8,537.0 L179.9,525.7 L180.1,523.8 L180.2,557.0 L180.4,517.6 L180.5,539.4 L180.7,549.2 L180.8,550.6 L180.9,543.5 L181.1,556.8 L181.2,523.7 L181.4,530.6 L181.5,552.1 L181.6,527.3 L181.8,534.0 L181.9,537.1 L182.0,523.7 L182.2,538.8 L182.3,542.9 L182.4,531.5 L182.6,566.7 L182.7,560.4 L182.8,533.2 L183.0,521.7 L183.1,563.4 L183.2,541.2 L183.4,549.5 L183.5,544.4 L183.6,530.1 L183.7,514.8 L183.9,509.1 L184.0,521.2 L184.1,527.2 L184.3,535.6 L184.4,567.7 L184.5,535.7 L184.6,557.2 L184.7,558.1 L184.9,539.0 L185.0,563.5 L185.1,513.9 L185.2,527.1 L185.4,532.2 L185.5,530.8 L185.6,534.4 L185.7,537.6 L185.8,527.9 L185.9,548.4 L186.1,535.7 L186.2,536.1 L186.3,526.7 L186.4,554.9 L186.5,536.8 L186.6,540.8 L186.8,529.4 L186.9,529.7 L187.0,535.3 L187.1,531.5 L187.2,531.4 L187.3,517.1 L187.4,532.1 L187.5,530.1 L187.7,552.7 L187.8,543.6 L187.9,527.6 L188.0,521.6 L188.1,552.5 L188.2,541.1 L188.3,543.5 L188.4,538.7 L188.5,546.5 L188.6,546.4 L188.7,540.8 L188.8,537.3 L189.0,523.2 L189.1,550.7 L189.2,555.2 L189.3,528.5 L189.4,530.3 L189.5,541.2 L189.6,557.3 M88.3,492.8 L92.0,499.0 L95.3,505.8 L98.2,507.2 L100.9,499.4 L103.3,496.4 L105.5,499.0 L107.5,502.5 L109.5,517.8 L111.3,529.2 L112.9,538.5 L114.5,535.8 L116.0,523.7 L117.4,519.1 L118.8,514.9 L120.1,532.7 L121.3,503.1 L122.5,532.4 L123.6,529.1 L124.7,545.1 L125.8,534.0 L126.8,509.1 L127.8,524.8 L128.7,517.2 L129.6,501.1 L130.5,520.2 L131.3,500.1 L132.2,519.7 L133.0,502.9 L133.8,497.2 L134.5,505.3 L135.3,530.1 L136.0,537.5 L136.7,534.2 L137.4,529.9 L138.0,510.1 L138.7,527.5 L139.3,527.8 L140.0,502.8 L140.6,520.9 L141.2,528.4 L141.7,519.4 L142.3,508.9 L142.9,540.3 L143.4,540.4 L144.0,529.9 L144.5,512.8 L145.0,546.0 L145.5,545.7 L146.0,512.4 L146.5,511.3 L147.0,542.5 L147.5,546.2 L147.9,548.9 L148.4,527.8 L148.8,513.2 L149.3,525.3 L149.7,505.1 L150.2,541.0 L150.6,523.7 L151.0,514.2 L151.4,551.6 L151.8,529.0 L152.2,532.8 L152.6,511.3 L153.0,527.7 L153.4,506.0 L153.8,524.9 L154.1,549.6 L154.5,558.5 L154.9,557.5 L155.2,556.1 L155.6,566.5 L155.9,520.6 L156.3,516.0 L156.6,536.8 L156.9,547.5 L157.3,522.9 L157.6,547.5 L157.9,526.0 L158.3,510.1 L158.6,544.4 L158.9,516.5 L159.2,555.6 L159.5,508.7 L159.8,515.5 L160.1,513.3 L160.4,531.5 L160.7,521.0 L161.0,560.2 L161.3,527.7 L161.6,527.7 L161.8,534.6 L162.1,543.9 L162.4,548.5 L162.7,518.4 L162.9,519.8 L163.2,526.6 L163.5,540.2 L163.7,538.2 L164.0,528.5 L164.3,542.6 L164.5,563.8 L164.8,523.8 L165.0,540.1 L165.3,543.3 L165.5,546.9 L165.8,555.0 L166.0,526.2 L166.2,532.9 L166.5,528.8 L166.7,546.9 L166.9,538.8 L167.2,546.5 L167.4,531.1 L167.6,543.4 L167.9,530.3 L168.1,562.1 L168.3,526.2 L168.5,567.2 L168.7,533.8 L169.0,527.6 L169.2,523.6 L169.4,547.5 L169.6,539.3 L169.8,539.6 L170.0,529.8 L170.2,509.9 L170.4,538.5 L170.7,516.1 L170.9,523.3 L171.1,544.5 L171.3,529.6 L171.5,511.4 L171.7,538.1 L171.8,513.9 L172.0,542.7 L172.2,531.7 L172.4,539.5 L172.6,517.5 L172.8,516.9 L173.0,571.8 L173.2,546.8 L173.4,520.0 L173.6,538.3 L173.7,541.6 L173.9,538.6 L174.1,534.2 L174.3,526.2 L174.5,542.0 L174.6,546.5 L174.8,561.6 L175.0,515.0 L175.2,533.2 L175.3,536.1 L175.5,531.0 L175.7,527.2 L175.8,530.3 L176.0,528.2 L176.2,516.4 L176.3,550.8 L176.5,544.9 L176.7,539.8 L176.8,540.5 L177.0,527.2 L177.2,521.9 L177.3,535.4 L177.5,512.2 L177.6,525.7 L177.8,539.7 L178.0,532.9 L178.1,574.9 L178.3,553.0 L178.4,544.8 L178.6,522.6 L178.7,511.0 L178.9,545.5 L179.0,520.2 L179.2,563.8 L179.3,530.4 L179.5,518.6 L179.6,539.3 L179.8,520.7 L179.9,528.0 L180.1,573.1 L180.2,547.1 L180.4,532.2 L180.5,544.5 L180.7,533.8 L180.8,520.4 L180.9,528.0 L181.1,496.8 L181.2,549.3 L181.4,532.2 L181.5,545.6 L181.6,526.1 L181.8,550.0 L181.9,549.1 L182.0,540.5 L182.2,527.2 L182.3,518.3 L182.4,519.1 L182.6,548.6 L182.7,537.8 L182.8,524.3 L183.0,548.7 L183.1,564.6 L183.2,528.3 L183.4,539.1 L183.5,518.9 L183.6,526.9 L183.7,533.4 L183.9,523.9 L184.0,560.8 L184.1,523.9 L184.3,544.7 L184.4,535.6 L184.5,525.9 L184.6,529.5 L184.7,544.2 L184.9,543.8 L185.0,521.0 L185.1,524.4 L185.2,577.2 L185.4,544.9 L185.5,523.4 L185.6,558.5 L185.7,534.7 L185.8,551.7 L185.9,533.6 L186.1,492.6 L186.2,508.5 L186.3,547.3 L186.4,528.5 L186.5,526.8 L186.6,554.2 L186.8,533.3 L186.9,538.2 L187.0,512.5 L187.1,526.2 L187.2,524.3 L187.3,536.6 L187.4,540.1 L187.5,551.2 L187.7,524.0 L187.8,525.2 L187.9,536.5 L188.0,518.3 L188.1,545.0 L188.2,552.4 L188.3,555.6 L188.4,518.9 L188.5,536.5 L188.6,549.0 L188.7,551.0 L188.8,534.3 L189.0,553.3 L189.1,532.8 L189.2,532.3 L189.3,547.0 L189.4,572.1 L189.5,528.2 L189.6,569.2 M92.0,497.9 L95.3,497.1 L98.2,496.7 L100.9,507.7 L103.3,506.2 L105.5,502.6 L107.5,489.6 L109.5,487.2 L111.3,495.1 L112.9,501.0 L114.5,517.1 L116.0,513.1 L117.4,515.9 L118.8,511.6 L120.1,528.4 L121.3,511.3 L122.5,502.8 L123.6,519.6 L124.7,492.0 L125.8,531.9 L126.8,529.2 L127.8,525.9 L128.7,520.2 L129.6,528.9 L130.5,530.5 L131.3,527.1 L132.2,511.5 L133.0,515.0 L133.8,497.9 L134.5,483.3 L135.3,551.3 L136.0,544.9 L136.7,504.1 L137.4,532.5 L138.0,539.3 L138.7,543.5 L139.3,526.4 L140.0,551.6 L140.6,521.4 L141.2,513.2 L141.7,544.4 L142.3,522.3 L142.9,535.4 L143.4,554.5 L144.0,558.3 L144.5,545.8 L145.0,530.1 L145.5,537.9 L146.0,529.9 L146.5,528.4 L147.0,511.4 L147.5,497.7 L147.9,535.6 L148.4,518.0 L148.8,551.4 L149.3,531.1 L149.7,538.4 L150.2,508.0 L150.6,546.1 L151.0,509.4 L151.4,531.6 L151.8,534.9 L152.2,541.2 L152.6,537.4 L153.0,530.8 L153.4,538.5 L153.8,538.3 L154.1,509.3 L154.5,552.0 L154.9,549.5 L155.2,553.0 L155.6,527.7 L155.9,530.0 L156.3,518.8 L156.6,535.3 L156.9,512.8 L157.3,527.2 L157.6,530.1 L157.9,529.5 L158.3,517.6 L158.6,535.6 L158.9,537.0 L159.2,507.4 L159.5,536.1 L159.8,543.3 L160.1,531.2 L160.4,516.8 L160.7,572.6 L161.0,529.2 L161.3,512.9 L161.6,519.6 L161.8,568.5 L162.1,538.3 L162.4,529.8 L162.7,530.8 L162.9,527.1 L163.2,508.9 L163.5,554.5 L163.7,547.2 L164.0,537.2 L164.3,544.5 L164.5,529.1 L164.8,551.5 L165.0,558.9 L165.3,537.2 L165.5,554.1 L165.8,556.2 L166.0,535.1 L166.2,549.3 L166.5,526.7 L166.7,546.5 L166.9,561.3 L167.2,549.6 L167.4,521.5 L167.6,533.6 L167.9,534.0 L168.1,548.8 L168.3,529.8 L168.5,531.2 L168.7,536.3 L169.0,571.1 L169.2,525.0 L169.4,535.0 L169.6,541.3 L169.8,544.7 L170.0,525.5 L170.2,540.3 L170.4,530.9 L170.7,562.7 L170.9,556.8 L171.1,547.5 L171.3,533.0 L171.5,535.9 L171.7,536.7 L171.8,537.4 L172.0,549.7 L172.2,544.2 L172.4,566.2 L172.6,532.8 L172.8,533.1 L173.0,548.8 L173.2,515.5 L173.4,537.6 L173.6,551.8 L173.7,554.0 L173.9,536.1 L174.1,565.6 L174.3,536.7 L174.5,540.8 L174.6,511.0 L174.8,517.8 L175.0,546.9 L175.2,504.5 L175.3,544.8 L175.5,516.9 L175.7,494.8 L175.8,526.1 L176.0,511.1 L176.2,526.8 L176.3,528.8 L176.5,565.7 L176.7,531.2 L176.8,542.7 L177.0,548.9 L177.2,515.3 L177.3,555.3 L177.5,545.7 L177.6,540.1 L177.8,542.1 L178.0,526.9 L178.1,570.2 L178.3,524.2 L178.4,561.4 L178.6,557.5 L178.7,530.6 L178.9,533.4 L179.0,540.3 L179.2,553.4 L179.3,539.9 L179.5,533.8 L179.6,523.6 L179.8,532.7 L179.9,553.6 L180.1,545.2 L180.2,551.7 L180.4,545.7 L180.5,516.9 L180.7,534.7 L180.8,548.1 L180.9,524.8 L181.1,546.7 L181.2,531.6 L181.4,526.3 L181.5,533.9 L181.6,541.1 L181.8,532.3 L181.9,521.3 L182.0,534.4 L182.2,507.4 L182.3,532.3 L182.4,549.4 L182.6,527.6 L182.7,541.6 L182.8,540.2 L183.0,517.8 L183.1,521.2 L183.2,554.6 L183.4,547.3 L183.5,554.6 L183.6,519.6 L183.7,564.9 L183.9,542.6 L184.0,523.0 L184.1,566.0 L184.3,545.7 L184.4,563.0 L184.5,560.4 L184.6,537.1 L184.7,555.9 L184.9,550.2 L185.0,527.8 L185.1,566.1 L185.2,517.8 L185.4,529.1 L185.5,554.1 L185.6,555.0 L185.7,537.0 L185.8,542.0 L185.9,554.7 L186.1,538.8 L186.2,530.7 L186.3,541.7 L186.4,547.8 L186.5,543.8 L186.6,539.6 L186.8,557.6 L186.9,542.7 L187.0,553.1 L187.1,539.6 L187.2,540.9 L187.3,535.8 L187.4,514.5 L187.5,517.8 L187.7,556.0 L187.8,542.3 L187.9,533.7 L188.0,545.4 L188.1,564.5 L188.2,508.6 L188.3,523.2 L188.4,542.0 L188.5,540.6 L188.6,553.7 L188.7,539.3 L188.8,514.2 L189.0,517.6 L189.1,530.2 L189.2,542.0 L189.3,551.6 L189.4,536.8 L189.5,542.9 L189.6,546.7 M92.0,498.9 L95.3,502.4 L98.2,505.2 L100.9,505.2 L103.3,508.9 L105.5,529.3 L107.5,540.8 L109.5,537.6 L111.3,525.7 L112.9,503.6 L114.5,522.6 L116.0,520.4 L117.4,525.9 L118.8,530.8 L120.1,526.1 L121.3,528.4 L122.5,479.8 L123.6,537.9 L124.7,489.6 L125.8,532.0 L126.8,529.6 L127.8,532.1 L128.7,522.3 L129.6,522.3 L130.5,513.4 L131.3,540.6 L132.2,541.7 L133.0,526.3 L133.8,512.5 L134.5,539.8 L135.3,521.7 L136.0,519.9 L136.7,508.4 L137.4,543.9 L138.0,513.3 L138.7,536.6 L139.3,541.3 L140.0,558.5 L140.6,528.4 L141.2,524.5 L141.7,524.3 L142.3,536.6 L142.9,535.4 L143.4,542.9 L144.0,512.9 L144.5,527.9 L145.0,554.3 L145.5,525.9 L146.0,547.2 L146.5,517.6 L147.0,508.2 L147.5,558.5 L147.9,539.6 L148.4,543.0 L148.8,552.7 L149.3,527.8 L149.7,536.9 L150.2,542.8 L150.6,559.0 L151.0,552.5 L151.4,533.7 L151.8,546.4 L152.2,546.4 L152.6,524.6 L153.0,495.8 L153.4,518.6 L153.8,536.2 L154.1,554.2 L154.5,544.4 L154.9,555.5 L155.2,533.1 L155.6,542.3 L155.9,567.1 L156.3,532.6 L156.6,541.3 L156.9,549.2 L157.3,506.6 L157.6,539.9 L157.9,536.1 L158.3,547.3 L158.6,513.2 L158.9,543.6 L159.2,548.1 L159.5,546.1 L159.8,533.6 L160.1,561.9 L160.4,545.7 L160.7,550.8 L161.0,545.5 L161.3,532.7 L161.6,521.3 L161.8,528.3 L162.1,567.1 L162.4,506.2 L162.7,526.6 L162.9,555.9 L163.2,526.6 L163.5,534.5 L163.7,547.0 L164.0,541.7 L164.3,516.5 L164.5,552.9 L164.8,569.0 L165.0,538.2 L165.3,558.5 L165.5,556.1 L165.8,529.3 L166.0,515.0 L166.2,543.1 L166.5,538.1 L166.7,550.2 L166.9,553.8 L167.2,561.2 L167.4,543.2 L167.6,541.1 L167.9,538.4 L168.1,550.6 L168.3,549.5 L168.5,525.4 L168.7,553.6 L169.0,548.7 L169.2,562.1 L169.4,539.8 L169.6,545.0 L169.8,555.1 L170.0,549.6 L170.2,514.4 L170.4,527.4 L170.7,563.9 L170.9,556.5 L171.1,544.4 L171.3,549.7 L171.5,558.0 L171.7,545.2 L171.8,522.4 L172.0,534.7 L172.2,550.3 L172.4,562.2 L172.6,549.1 L172.8,530.6 L173.0,557.6 L173.2,546.8 L173.4,548.7 L173.6,556.6 L173.7,531.4 L173.9,558.7 L174.1,549.3 L174.3,557.5 L174.5,572.0 L174.6,528.1 L174.8,516.1 L175.0,548.4 L175.2,527.0 L175.3,589.7 L175.5,538.9 L175.7,532.9 L175.8,552.4 L176.0,534.2 L176.2,542.2 L176.3,536.2 L176.5,533.3 L176.7,559.0 L176.8,566.3 L177.0,565.0 L177.2,532.6 L177.3,531.8 L177.5,557.0 L177.6,541.3 L177.8,558.4 L178.0,508.0 L178.1,524.3 L178.3,535.4 L178.4,531.6 L178.6,564.9 L178.7,538.7 L178.9,542.0 L179.0,535.2 L179.2,527.7 L179.3,568.8 L179.5,532.8 L179.6,522.8 L179.8,544.4 L179.9,537.1 L180.1,518.1 L180.2,548.0 L180.4,576.6 L180.5,559.9 L180.7,528.9 L180.8,535.5 L180.9,559.2 L181.1,568.7 L181.2,547.9 L181.4,540.0 L181.5,518.8 L181.6,566.0 L181.8,560.5 L181.9,525.0 L182.0,519.8 L182.2,538.2 L182.3,568.1 L182.4,534.8 L182.6,556.9 L182.7,556.6 L182.8,541.1 L183.0,544.2 L183.1,544.9 L183.2,602.0 L183.4,537.4 L183.5,547.6 L183.6,535.6 L183.7,564.1 L183.9,533.1 L184.0,538.3 L184.1,549.9 L184.3,573.6 L184.4,549.6 L184.5,528.9 L184.6,560.1 L184.7,547.1 L184.9,537.8 L185.0,551.5 L185.1,538.2 L185.2,537.0 L185.4,546.6 L185.5,503.6 L185.6,513.7 L185.7,537.8 L185.8,560.8 L185.9,578.7 L186.1,541.5 L186.2,547.4 L186.3,557.6 L186.4,584.9 L186.5,515.0 L186.6,541.8 L186.8,537.2 L186.9,513.4 L187.0,537.4 L187.1,532.3 L187.2,525.5 L187.3,558.7 L187.4,535.3 L187.5,533.3 L187.7,551.8 L187.8,538.5 L187.9,528.1 L188.0,556.4 L188.1,541.8 L188.2,557.3 L188.3,557.9 L188.4,545.0 L188.5,536.0 L188.6,556.4 L188.7,518.1 L188.8,537.7 L189.0,553.0 L189.1,550.0 L189.2,527.0 L189.3,549.6 L189.4,544.3 L189.5,540.2 L189.6,526.0 M84.9,512.0 L89.1,505.7 L92.7,485.4 L95.9,484.5 L98.8,491.9 L101.4,492.0 L103.7,499.7 L105.9,496.5 L107.9,511.9 L109.8,505.9 L111.6,509.5 L113.3,513.7 L114.8,516.7 L116.3,516.7 L117.7,538.4 L119.1,505.2 L120.3,515.0 L121.6,485.8 L122.7,511.7 L123.9,500.2 L124.9,514.8 L126.0,518.5 L127.0,536.4 L128.0,527.1 L128.9,528.6 L129.8,557.7 L130.7,528.2 L131.5,532.4 L132.3,517.4 L133.1,505.1 L133.9,525.0 L134.7,504.3 L135.4,501.8 L136.1,509.3 L136.8,527.5 L137.5,522.9 L138.2,499.0 L138.8,498.3 L139.5,504.8 L140.1,550.3 L140.7,563.5 L141.3,502.4 L141.9,513.0 L142.4,504.5 L143.0,515.8 L143.5,530.9 L144.1,520.8 L144.6,527.8 L145.1,504.8 L145.6,512.9 L146.1,541.7 L146.6,541.8 L147.1,514.5 L147.6,514.0 L148.0,523.3 L148.5,523.5 L148.9,548.4 L149.4,545.0 L149.8,523.3 L150.2,557.9 L150.7,525.4 L151.1,520.9 L151.5,519.4 L151.9,516.4 L152.3,499.7 L152.7,523.3 L153.1,543.0 L153.5,558.9 L153.8,569.1 L154.2,533.7 L154.6,517.9 L154.9,556.3 L155.3,531.5 L155.6,542.9 L156.0,537.0 L156.3,529.2 L156.7,531.2 L157.0,550.5 L157.3,522.4 L157.7,533.4 L158.0,561.7 L158.3,523.4 L158.6,507.2 L158.9,536.2 L159.3,508.1 L159.6,554.9 L159.9,539.0 L160.2,513.3 L160.5,510.6 L160.8,522.8 L161.0,515.5 L161.3,537.8 L161.6,522.5 L161.9,517.3 L162.2,517.0 L162.4,525.9 L162.7,519.6 L163.0,525.4 L163.3,523.2 L163.5,556.6 L163.8,526.6 L164.0,547.6 L164.3,541.0 L164.6,533.6 L164.8,529.9 L165.1,553.9 L165.3,544.2 L165.6,531.2 L165.8,540.1 L166.0,534.2 L166.3,530.5 L166.5,530.4 L166.8,542.2 L167.0,532.1 L167.2,525.1 L167.5,553.1 L167.7,524.0 L167.9,548.8 L168.1,530.1 L168.4,524.4 L168.6,523.4 L168.8,551.6 L169.0,550.4 L169.2,554.4 L169.4,527.6 L169.7,531.8 L169.9,562.4 L170.1,525.9 L170.3,515.3 L170.5,540.9 L170.7,536.5 L170.9,531.1 L171.1,550.1 L171.3,543.0 L171.5,527.0 L171.7,539.4 L171.9,535.5 L172.1,533.2 L172.3,508.0 L172.5,528.1 L172.7,529.0 L172.8,541.7 L173.0,516.4 L173.2,532.1 L173.4,535.2 L173.6,514.6 L173.8,512.1 L174.0,547.2 L174.1,541.2 L174.3,515.9 L174.5,540.5 L174.7,511.3 L174.8,535.3 L175.0,504.9 L175.2,547.3 L175.4,566.7 L175.5,561.0 L175.7,507.1 L175.9,543.7 L176.0,542.9 L176.2,545.0 L176.4,547.8 L176.5,534.1 L176.7,533.2 L176.9,544.9 L177.0,544.5 L177.2,515.5 L177.4,518.5 L177.5,518.3 L177.7,514.4 L177.8,536.3 L178.0,521.9 L178.2,508.5 L178.3,545.6 L178.5,515.4 L178.6,571.7 L178.8,568.8 L178.9,561.6 L179.1,553.7 L179.2,552.4 L179.4,544.8 L179.5,523.8 L179.7,545.8 L179.8,542.4 L180.0,556.5 L180.1,562.6 L180.2,541.2 L180.4,547.9 L180.5,523.1 L180.7,532.7 L180.8,563.6 L181.0,527.3 L181.1,553.5 L181.2,543.7 L181.4,552.8 L181.5,550.3 L181.7,546.6 L181.8,555.4 L181.9,549.3 L182.1,541.6 L182.2,525.3 L182.3,523.9 L182.5,507.1 L182.6,558.2 L182.7,544.3 L182.9,518.0 L183.0,551.7 L183.1,540.2 L183.3,525.2 L183.4,511.0 L183.5,524.6 L183.6,529.8 L183.8,537.9 L183.9,526.6 L184.0,533.5 L184.2,530.5 L184.3,545.5 L184.4,539.0 L184.5,550.1 L184.6,554.5 L184.8,551.1 L184.9,550.7 L185.0,548.0 L185.1,546.3 L185.3,560.8 L185.4,533.9 L185.5,531.1 L185.6,511.7 L185.7,570.3 L185.9,561.6 L186.0,553.8 L186.1,551.6 L186.2,536.9 L186.3,549.5 L186.4,549.6 L186.6,526.3 L186.7,538.2 L186.8,561.5 L186.9,524.2 L187.0,500.4 L187.1,515.3 L187.2,536.8 L187.3,515.3 L187.5,535.4 L187.6,541.7 L187.7,533.0 L187.8,516.0 L187.9,532.6 L188.0,540.7 L188.1,558.3 L188.2,535.7 L188.3,553.0 L188.4,539.6 L188.6,558.2 L188.7,552.0 L188.8,553.0 L188.9,548.4 L189.0,555.3 L189.1,519.3 L189.2,522.7 L189.3,540.2 L189.4,552.9 L189.5,521.2 L189.6,538.7 M88.3,485.8 L92.0,487.8 L95.3,481.7 L98.2,473.0 L100.9,476.1 L103.3,472.5 L105.5,480.1 L107.5,479.6 L109.5,493.6 L111.3,506.8 L112.9,514.5 L114.5,516.3 L116.0,512.6 L117.4,516.1 L118.8,504.8 L120.1,553.9 L121.3,510.2 L122.5,527.4 L123.6,524.2 L124.7,492.1 L125.8,549.3 L126.8,551.1 L127.8,522.6 L128.7,522.0 L129.6,536.3 L130.5,529.7 L131.3,505.9 L132.2,478.8 L133.0,524.8 L133.8,537.0 L134.5,546.3 L135.3,529.0 L136.0,515.8 L136.7,530.3 L137.4,536.7 L138.0,512.7 L138.7,535.5 L139.3,524.5 L140.0,525.6 L140.6,513.5 L141.2,513.6 L141.7,538.3 L142.3,544.1 L142.9,547.4 L143.4,522.5 L144.0,532.9 L144.5,547.4 L145.0,547.9 L145.5,536.1 L146.0,545.3 L146.5,574.1 L147.0,517.1 L147.5,578.6 L147.9,535.2 L148.4,548.9 L148.8,547.1 L149.3,574.8 L149.7,499.0 L150.2,541.7 L150.6,523.4 L151.0,510.6 L151.4,503.6 L151.8,540.4 L152.2,529.3 L152.6,526.9 L153.0,524.4 L153.4,537.4 L153.8,527.7 L154.1,564.1 L154.5,542.0 L154.9,500.5 L155.2,553.0 L155.6,527.4 L155.9,567.8 L156.3,524.1 L156.6,522.8 L156.9,519.9 L157.3,536.3 L157.6,541.0 L157.9,549.5 L158.3,564.6 L158.6,533.1 L158.9,553.3 L159.2,553.6 L159.5,536.5 L159.8,528.0 L160.1,514.1 L160.4,528.7 L160.7,549.2 L161.0,534.5 L161.3,538.3 L161.6,551.5 L161.8,547.1 L162.1,531.9 L162.4,521.2 L162.7,512.6 L162.9,544.7 L163.2,535.7 L163.5,516.0 L163.7,526.3 L164.0,522.0 L164.3,529.9 L164.5,541.2 L164.8,532.3 L165.0,500.0 L165.3,530.1 L165.5,538.2 L165.8,504.7 L166.0,521.9 L166.2,532.6 L166.5,546.2 L166.7,536.3 L166.9,544.6 L167.2,545.7 L167.4,539.5 L167.6,584.3 L167.9,536.8 L168.1,542.5 L168.3,533.6 L168.5,535.3 L168.7,515.0 L169.0,551.7 L169.2,549.9 L169.4,545.4 L169.6,567.6 L169.8,532.7 L170.0,547.0 L170.2,541.7 L170.4,539.5 L170.7,547.3 L170.9,538.0 L171.1,553.5 L171.3,541.6 L171.5,538.0 L171.7,525.3 L171.8,564.1 L172.0,530.2 L172.2,531.0 L172.4,544.9 L172.6,546.2 L172.8,523.2 L173.0,535.1 L173.2,514.9 L173.4,547.0 L173.6,543.4 L173.7,548.6 L173.9,494.4 L174.1,530.3 L174.3,538.0 L174.5,521.7 L174.6,533.8 L174.8,550.6 L175.0,543.5 L175.2,534.8 L175.3,521.5 L175.5,561.3 L175.7,537.0 L175.8,523.2 L176.0,532.7 L176.2,549.6 L176.3,530.5 L176.5,551.8 L176.7,566.6 L176.8,556.3 L177.0,525.9 L177.2,534.9 L177.3,561.6 L177.5,543.1 L177.6,556.2 L177.8,544.3 L178.0,554.9 L178.1,521.4 L178.3,557.0 L178.4,538.5 L178.6,537.2 L178.7,554.0 L178.9,544.4 L179.0,541.9 L179.2,550.5 L179.3,523.0 L179.5,523.5 L179.6,545.1 L179.8,523.9 L179.9,557.6 L180.1,526.8 L180.2,521.7 L180.4,544.2 L180.5,514.8 L180.7,533.8 L180.8,555.4 L180.9,530.2 L181.1,519.9 L181.2,552.6 L181.4,536.0 L181.5,519.4 L181.6,533.7 L181.8,531.1 L181.9,553.3 L182.0,519.4 L182.2,533.8 L182.3,530.0 L182.4,519.8 L182.6,531.7 L182.7,511.1 L182.8,541.6 L183.0,511.8 L183.1,551.3 L183.2,538.7 L183.4,551.3 L183.5,554.6 L183.6,556.6 L183.7,537.5 L183.9,530.8 L184.0,550.2 L184.1,537.2 L184.3,531.7 L184.4,515.9 L184.5,560.5 L184.6,524.5 L184.7,547.2 L184.9,543.9 L185.0,541.6 L185.1,543.5 L185.2,517.2 L185.4,526.3 L185.5,523.4 L185.6,556.6 L185.7,513.4 L185.8,519.9 L185.9,506.8 L186.1,526.5 L186.2,536.5 L186.3,555.9 L186.4,536.1 L186.5,519.4 L186.6,528.0 L186.8,534.5 L186.9,539.6 L187.0,568.9 L187.1,551.9 L187.2,553.1 L187.3,547.6 L187.4,547.2 L187.5,555.7 L187.7,542.1 L187.8,528.2 L187.9,538.4 L188.0,527.0 L188.1,531.6 L188.2,552.9 L188.3,545.1 L188.4,511.2 L188.5,546.5 L188.6,554.7 L188.7,538.4 L188.8,544.1 L189.0,532.6 L189.1,537.7 L189.2,549.6 L189.3,564.3 L189.4,545.8 L189.5,546.3 L189.6,525.6 M95.3,510.8 L98.2,505.6 L100.9,496.6 L103.3,492.6 L105.5,492.5 L107.5,515.9 L109.5,515.3 L111.3,519.2 L112.9,504.8 L114.5,503.5 L116.0,501.7 L117.4,496.9 L118.8,508.9 L120.1,539.2 L121.3,534.7 L122.5,554.2 L123.6,507.5 L124.7,524.6 L125.8,543.2 L126.8,519.2 L127.8,531.1 L128.7,531.1 L129.6,507.6 L130.5,556.0 L131.3,552.6 L132.2,532.3 L133.0,533.0 L133.8,512.9 L134.5,533.6 L135.3,522.9 L136.0,504.2 L136.7,549.0 L137.4,554.7 L138.0,545.0 L138.7,536.8 L139.3,549.6 L140.0,531.0 L140.6,544.8 L141.2,517.9 L141.7,524.9 L142.3,523.3 L142.9,530.2 L143.4,531.4 L144.0,559.2 L144.5,541.2 L145.0,562.9 L145.5,518.8 L146.0,551.4 L146.5,551.5 L147.0,544.9 L147.5,504.7 L147.9,550.3 L148.4,513.4 L148.8,532.9 L149.3,498.3 L149.7,537.1 L150.2,546.0 L150.6,539.2 L151.0,546.5 L151.4,549.8 L151.8,529.0 L152.2,544.4 L152.6,526.0 L153.0,528.6 L153.4,524.0 L153.8,514.0 L154.1,520.7 L154.5,551.6 L154.9,520.6 L155.2,574.6 L155.6,524.1 L155.9,519.9 L156.3,553.7 L156.6,522.1 L156.9,566.3 L157.3,527.6 L157.6,545.0 L157.9,544.9 L158.3,543.3 L158.6,549.1 L158.9,530.3 L159.2,540.2 L159.5,541.2 L159.8,539.9 L160.1,546.1 L160.4,556.4 L160.7,533.4 L161.0,527.6 L161.3,557.3 L161.6,528.3 L161.8,520.8 L162.1,536.4 L162.4,518.7 L162.7,571.4 L162.9,523.7 L163.2,550.6 L163.5,537.8 L163.7,554.7 L164.0,506.0 L164.3,544.0 L164.5,531.8 L164.8,562.4 L165.0,548.1 L165.3,535.8 L165.5,542.8 L165.8,553.1 L166.0,520.5 L166.2,562.7 L166.5,542.6 L166.7,544.4 L166.9,547.6 L167.2,532.7 L167.4,537.4 L167.6,544.2 L167.9,532.4 L168.1,542.2 L168.3,534.1 L168.5,522.1 L168.7,536.4 L169.0,540.5 L169.2,550.5 L169.4,521.7 L169.6,525.7 L169.8,532.5 L170.0,536.7 L170.2,554.1 L170.4,542.2 L170.7,537.7 L170.9,559.3 L171.1,558.3 L171.3,545.6 L171.5,513.9 L171.7,534.1 L171.8,563.3 L172.0,525.5 L172.2,527.3 L172.4,530.3 L172.6,549.4 L172.8,544.9 L173.0,509.9 L173.2,522.5 L173.4,471.7 L173.6,562.8 L173.7,568.2 L173.9,551.6 L174.1,557.2 L174.3,554.1 L174.5,532.8 L174.6,521.6 L174.8,561.9 L175.0,536.0 L175.2,529.1 L175.3,537.5 L175.5,521.8 L175.7,523.1 L175.8,552.9 L176.0,541.6 L176.2,538.5 L176.3,560.3 L176.5,547.9 L176.7,527.9 L176.8,535.4 L177.0,541.5 L177.2,503.8 L177.3,529.4 L177.5,527.0 L177.6,554.2 L177.8,525.6 L178.0,547.7 L178.1,545.9 L178.3,549.4 L178.4,562.7 L178.6,536.2 L178.7,560.7 L178.9,532.1 L179.0,553.9 L179.2,524.8 L179.3,536.0 L179.5,524.5 L179.6,557.7 L179.8,535.7 L179.9,531.0 L180.1,537.4 L180.2,544.0 L180.4,551.8 L180.5,592.8 L180.7,540.2 L180.8,561.7 L180.9,560.5 L181.1,539.1 L181.2,582.5 L181.4,558.4 L181.5,534.1 L181.6,541.6 L181.8,546.0 L181.9,555.0 L182.0,541.5 L182.2,566.0 L182.3,553.7 L182.4,531.9 L182.6,555.7 L182.7,546.2 L182.8,548.9 L183.0,562.4 L183.1,574.7 L183.2,559.3 L183.4,556.2 L183.5,559.9 L183.6,545.5 L183.7,538.6 L183.9,533.0 L184.0,536.6 L184.1,560.0 L184.3,523.7 L184.4,535.7 L184.5,531.1 L184.6,561.2 L184.7,528.4 L184.9,506.8 L185.0,531.5 L185.1,524.9 L185.2,550.0 L185.4,541.2 L185.5,543.7 L185.6,533.0 L185.7,539.6 L185.8,538.6 L185.9,556.4 L186.1,562.3 L186.2,545.1 L186.3,505.0 L186.4,554.2 L186.5,536.0 L186.6,522.1 L186.8,550.6 L186.9,568.7 L187.0,540.0 L187.1,543.4 L187.2,556.1 L187.3,521.5 L187.4,530.1 L187.5,541.9 L187.7,563.7 L187.8,526.0 L187.9,524.1 L188.0,528.5 L188.1,516.8 L188.2,556.1 L188.3,559.5 L188.4,531.4 L188.5,535.1 L188.6,542.9 L188.7,550.4 L188.8,528.2 L189.0,537.6 L189.1,529.3 L189.2,559.0 L189.3,543.7 L189.4,536.7 L189.5,526.9 L189.6,566.7 M92.0,506.1 L95.3,506.2 L98.2,517.4 L100.9,493.6 L103.3,492.5 L105.5,496.3 L107.5,502.3 L109.5,521.9 L111.3,520.8 L112.9,516.0 L114.5,500.9 L116.0,525.8 L117.4,501.0 L118.8,527.0 L120.1,497.7 L121.3,504.5 L122.5,536.1 L123.6,546.3 L124.7,523.4 L125.8,541.1 L126.8,508.2 L127.8,525.1 L128.7,545.6 L129.6,520.1 L130.5,520.5 L131.3,546.0 L132.2,517.6 L133.0,531.1 L133.8,503.2 L134.5,545.3 L135.3,532.9 L136.0,526.8 L136.7,547.0 L137.4,544.8 L138.0,513.1 L138.7,534.3 L139.3,536.0 L140.0,558.0 L140.6,523.5 L141.2,511.6 L141.7,540.7 L142.3,529.8 L142.9,535.3 L143.4,519.3 L144.0,534.3 L144.5,553.7 L145.0,538.6 L145.5,530.3 L146.0,528.4 L146.5,559.6 L147.0,523.7 L147.5,557.6 L147.9,526.3 L148.4,530.0 L148.8,548.0 L149.3,534.4 L149.7,531.5 L150.2,545.4 L150.6,520.7 L151.0,533.7 L151.4,533.1 L151.8,535.5 L152.2,553.6 L152.6,552.0 L153.0,544.6 L153.4,539.9 L153.8,555.4 L154.1,546.6 L154.5,542.5 L154.9,528.2 L155.2,527.3 L155.6,522.4 L155.9,550.5 L156.3,524.4 L156.6,542.8 L156.9,550.1 L157.3,549.2 L157.6,547.3 L157.9,540.0 L158.3,549.5 L158.6,561.0 L158.9,555.4 L159.2,535.0 L159.5,556.9 L159.8,502.6 L160.1,559.5 L160.4,537.6 L160.7,553.4 L161.0,543.2 L161.3,518.4 L161.6,530.9 L161.8,531.9 L162.1,520.4 L162.4,525.4 L162.7,564.9 L162.9,519.8 L163.2,531.4 L163.5,557.0 L163.7,549.1 L164.0,529.6 L164.3,532.0 L164.5,537.0 L164.8,530.9 L165.0,548.8 L165.3,498.0 L165.5,533.9 L165.8,559.3 L166.0,524.1 L166.2,577.8 L166.5,532.5 L166.7,524.5 L166.9,530.5 L167.2,541.7 L167.4,543.5 L167.6,528.8 L167.9,546.5 L168.1,544.1 L168.3,546.8 L168.5,535.6 L168.7,537.2 L169.0,531.6 L169.2,575.8 L169.4,528.0 L169.6,549.3 L169.8,519.3 L170.0,524.3 L170.2,566.4 L170.4,544.8 L170.7,554.8 L170.9,557.4 L171.1,538.7 L171.3,533.4 L171.5,526.1 L171.7,531.6 L171.8,549.6 L172.0,504.8 L172.2,512.8 L172.4,530.6 L172.6,535.0 L172.8,535.8 L173.0,531.2 L173.2,545.4 L173.4,558.7 L173.6,554.7 L173.7,554.3 L173.9,534.2 L174.1,525.6 L174.3,521.5 L174.5,554.0 L174.6,527.7 L174.8,537.6 L175.0,546.7 L175.2,554.9 L175.3,536.2 L175.5,521.4 L175.7,548.5 L175.8,536.7 L176.0,524.9 L176.2,521.5 L176.3,537.9 L176.5,533.7 L176.7,537.3 L176.8,560.4 L177.0,544.6 L177.2,537.3 L177.3,521.4 L177.5,548.8 L177.6,520.1 L177.8,511.5 L178.0,529.2 L178.1,549.6 L178.3,539.6 L178.4,547.1 L178.6,521.3 L178.7,511.6 L178.9,519.6 L179.0,536.7 L179.2,525.7 L179.3,524.9 L179.5,532.7 L179.6,531.3 L179.8,543.2 L179.9,533.6 L180.1,523.6 L180.2,545.6 L180.4,548.9 L180.5,538.6 L180.7,521.0 L180.8,539.6 L180.9,538.1 L181.1,552.2 L181.2,572.3 L181.4,534.5 L181.5,569.8 L181.6,541.7 L181.8,529.0 L181.9,558.0 L182.0,556.2 L182.2,557.2 L182.3,557.5 L182.4,542.4 L182.6,530.7 L182.7,536.3 L182.8,538.8 L183.0,547.5 L183.1,545.8 L183.2,514.6 L183.4,566.7 L183.5,520.2 L183.6,507.9 L183.7,539.9 L183.9,543.1 L184.0,553.1 L184.1,533.4 L184.3,543.4 L184.4,536.9 L184.5,541.5 L184.6,539.2 L184.7,558.7 L184.9,538.2 L185.0,537.7 L185.1,506.8 L185.2,524.9 L185.4,552.4 L185.5,538.6 L185.6,555.5 L185.7,543.1 L185.8,569.1 L185.9,560.1 L186.1,523.6 L186.2,546.0 L186.3,534.9 L186.4,548.1 L186.5,539.1 L186.6,544.3 L186.8,554.0 L186.9,571.5 L187.0,544.8 L187.1,570.1 L187.2,564.6 L187.3,548.1 L187.4,566.3 L187.5,546.0 L187.7,566.3 L187.8,526.5 L187.9,550.9 L188.0,553.5 L188.1,560.0 L188.2,580.0 L188.3,553.9 L188.4,546.6 L188.5,533.2 L188.6,554.8 L188.7,543.6 L188.8,547.4 L189.0,564.2 L189.1,533.9 L189.2,541.3 L189.3,553.6 L189.4,554.0 L189.5,550.9 L189.6,558.9 M88.3,471.5 L92.0,471.2 L95.3,488.7 L98.2,500.8 L100.9,513.0 L103.3,511.3 L105.5,490.2 L107.5,495.7 L109.5,515.0 L111.3,506.4 L112.9,515.9 L114.5,529.9 L116.0,521.6 L117.4,511.0 L118.8,508.1 L120.1,500.3 L121.3,496.6 L122.5,543.6 L123.6,514.4 L124.7,497.2 L125.8,494.8 L126.8,530.0 L127.8,546.3 L128.7,537.5 L129.6,514.2 L130.5,521.6 L131.3,507.2 L132.2,521.5 L133.0,540.1 L133.8,540.0 L134.5,527.0 L135.3,509.8 L136.0,498.5 L136.7,535.8 L137.4,517.7 L138.0,524.1 L138.7,541.8 L139.3,544.2 L140.0,502.7 L140.6,529.6 L141.2,527.1 L141.7,518.8 L142.3,519.7 L142.9,515.0 L143.4,537.7 L144.0,533.7 L144.5,523.8 L145.0,521.6 L145.5,538.1 L146.0,554.9 L146.5,517.4 L147.0,514.1 L147.5,512.4 L147.9,528.7 L148.4,556.3 L148.8,537.7 L149.3,498.9 L149.7,521.5 L150.2,524.8 L150.6,554.0 L151.0,542.1 L151.4,516.1 L151.8,523.5 L152.2,531.5 L152.6,511.1 L153.0,517.5 L153.4,520.8 L153.8,532.2 L154.1,524.4 L154.5,514.3 L154.9,524.4 L155.2,549.7 L155.6,535.7 L155.9,535.9 L156.3,525.4 L156.6,511.3 L156.9,530.6 L157.3,538.2 L157.6,521.0 L157.9,523.4 L158.3,543.0 L158.6,525.9 L158.9,528.5 L159.2,526.4 L159.5,555.0 L159.8,564.8 L160.1,558.6 L160.4,560.8 L160.7,520.3 L161.0,515.9 L161.3,550.7 L161.6,511.9 L161.8,547.9 L162.1,546.6 L162.4,501.0 L162.7,549.4 L162.9,523.7 L163.2,519.4 L163.5,514.5 L163.7,521.0 L164.0,528.0 L164.3,508.9 L164.5,531.9 L164.8,531.5 L165.0,526.9 L165.3,537.8 L165.5,535.9 L165.8,515.0 L166.0,506.6 L166.2,521.4 L166.5,533.8 L166.7,541.1 L166.9,540.1 L167.2,539.8 L167.4,540.9 L167.6,535.6 L167.9,537.2 L168.1,517.4 L168.3,553.7 L168.5,541.9 L168.7,522.0 L169.0,538.8 L169.2,540.5 L169.4,525.9 L169.6,534.2 L169.8,548.7 L170.0,533.0 L170.2,524.0 L170.4,558.8 L170.7,522.4 L170.9,559.1 L171.1,525.8 L171.3,553.3 L171.5,532.4 L171.7,534.5 L171.8,518.3 L172.0,533.6 L172.2,540.5 L172.4,546.1 L172.6,532.0 L172.8,537.5 L173.0,521.0 L173.2,526.4 L173.4,514.3 L173.6,521.2 L173.7,530.1 L173.9,534.7 L174.1,524.6 L174.3,521.5 L174.5,553.4 L174.6,530.0 L174.8,539.3 L175.0,529.8 L175.2,521.6 L175.3,562.4 L175.5,538.8 L175.7,519.4 L175.8,559.4 L176.0,533.4 L176.2,534.0 L176.3,542.9 L176.5,521.4 L176.7,518.9 L176.8,532.4 L177.0,512.5 L177.2,509.7 L177.3,528.8 L177.5,520.9 L177.6,519.6 L177.8,506.4 L178.0,519.2 L178.1,522.3 L178.3,531.3 L178.4,522.9 L178.6,509.0 L178.7,533.0 L178.9,535.8 L179.0,549.3 L179.2,496.5 L179.3,536.6 L179.5,542.2 L179.6,543.9 L179.8,517.2 L179.9,527.2 L180.1,564.7 L180.2,535.2 L180.4,506.3 L180.5,532.3 L180.7,532.4 L180.8,490.0 L180.9,533.6 L181.1,537.5 L181.2,524.9 L181.4,496.2 L181.5,523.8 L181.6,558.1 L181.8,539.0 L181.9,538.1 L182.0,523.2 L182.2,538.8 L182.3,532.7 L182.4,553.8 L182.6,555.7 L182.7,535.6 L182.8,509.4 L183.0,546.8 L183.1,560.0 L183.2,518.8 L183.4,526.9 L183.5,521.4 L183.6,535.7 L183.7,530.7 L183.9,535.4 L184.0,534.4 L184.1,507.0 L184.3,537.8 L184.4,540.8 L184.5,534.9 L184.6,537.2 L184.7,508.7 L184.9,534.3 L185.0,528.3 L185.1,552.6 L185.2,527.8 L185.4,523.8 L185.5,523.2 L185.6,557.8 L185.7,546.2 L185.8,575.9 L185.9,512.9 L186.1,533.8 L186.2,509.2 L186.3,502.3 L186.4,515.4 L186.5,542.3 L186.6,538.5 L186.8,522.7 L186.9,563.3 L187.0,516.0 L187.1,509.9 L187.2,518.6 L187.3,537.2 L187.4,529.1 L187.5,558.4 L187.7,551.4 L187.8,543.0 L187.9,546.9 L188.0,510.1 L188.1,525.1 L188.2,570.7 L188.3,520.4 L188.4,525.3 L188.5,537.2 L188.6,545.8 L188.7,503.8 L188.8,527.8 L189.0,529.7 L189.1,558.6 L189.2,545.8 L189.3,521.8 L189.4,531.2 L189.5,541.1 L189.6,539.9 M92.0,518.6 L95.3,508.2 L98.2,503.9 L100.9,505.3 L103.3,506.2 L105.5,518.9 L107.5,531.2 L109.5,539.8 L111.3,542.0 L112.9,531.7 L114.5,505.6 L116.0,514.9 L117.4,508.9 L118.8,499.0 L120.1,528.4 L121.3,502.8 L122.5,515.2 L123.6,519.5 L124.7,532.5 L125.8,503.2 L126.8,509.4 L127.8,518.9 L128.7,527.4 L129.6,535.7 L130.5,528.4 L131.3,509.2 L132.2,507.0 L133.0,537.7 L133.8,533.2 L134.5,549.6 L135.3,513.6 L136.0,529.2 L136.7,525.7 L137.4,537.8 L138.0,517.4 L138.7,540.2 L139.3,555.2 L140.0,532.8 L140.6,565.6 L141.2,521.0 L141.7,525.5 L142.3,569.8 L142.9,544.4 L143.4,541.9 L144.0,535.9 L144.5,520.8 L145.0,551.5 L145.5,541.9 L146.0,517.0 L146.5,550.6 L147.0,544.9 L147.5,535.0 L147.9,528.8 L148.4,541.7 L148.8,565.2 L149.3,578.2 L149.7,519.2 L150.2,516.7 L150.6,556.8 L151.0,587.5 L151.4,563.0 L151.8,538.8 L152.2,544.3 L152.6,524.5 L153.0,555.4 L153.4,558.3 L153.8,543.5 L154.1,563.5 L154.5,563.3 L154.9,554.0 L155.2,566.2 L155.6,534.0 L155.9,536.4 L156.3,556.4 L156.6,554.5 L156.9,525.9 L157.3,568.8 L157.6,542.6 L157.9,546.9 L158.3,575.6 L158.6,570.5 L158.9,556.1 L159.2,537.9 L159.5,548.8 L159.8,551.7 L160.1,556.0 L160.4,549.0 L160.7,532.1 L161.0,522.6 L161.3,557.9 L161.6,566.8 L161.8,541.0 L162.1,550.3 L162.4,539.2 L162.7,554.3 L162.9,574.6 L163.2,519.2 L163.5,520.4 L163.7,541.6 L164.0,528.2 L164.3,541.3 L164.5,527.8 L164.8,551.5 L165.0,554.0 L165.3,575.8 L165.5,536.6 L165.8,532.8 L166.0,554.2 L166.2,539.7 L166.5,528.1 L166.7,574.6 L166.9,541.9 L167.2,558.0 L167.4,580.9 L167.6,549.5 L167.9,593.3 L168.1,551.5 L168.3,556.5 L168.5,554.6 L168.7,570.4 L169.0,535.4 L169.2,519.9 L169.4,538.1 L169.6,537.1 L169.8,574.2 L170.0,555.0 L170.2,547.5 L170.4,548.6 L170.7,554.3 L170.9,552.4 L171.1,549.4 L171.3,537.2 L171.5,546.5 L171.7,564.5 L171.8,570.0 L172.0,551.6 L172.2,549.0 L172.4,547.5 L172.6,522.7 L172.8,560.5 L173.0,544.9 L173.2,544.4 L173.4,566.3 L173.6,543.8 L173.7,548.3 L173.9,561.3 L174.1,554.8 L174.3,524.8 L174.5,540.9 L174.6,566.2 L174.8,563.0 L175.0,524.7 L175.2,540.4 L175.3,531.1 L175.5,548.5 L175.7,537.8 L175.8,544.9 L176.0,562.8 L176.2,570.5 L176.3,555.6 L176.5,532.4 L176.7,575.2 L176.8,535.7 L177.0,543.8 L177.2,586.3 L177.3,539.6 L177.5,558.5 L177.6,543.8 L177.8,544.8 L178.0,542.2 L178.1,543.6 L178.3,554.9 L178.4,557.5 L178.6,555.1 L178.7,555.2 L178.9,546.5 L179.0,552.1 L179.2,559.3 L179.3,575.5 L179.5,538.7 L179.6,562.6 L179.8,550.3 L179.9,565.1 L180.1,533.4 L180.2,538.4 L180.4,575.3 L180.5,547.4 L180.7,538.1 L180.8,569.4 L180.9,514.6 L181.1,528.9 L181.2,569.8 L181.4,515.2 L181.5,521.6 L181.6,555.3 L181.8,549.3 L181.9,539.1 L182.0,542.0 L182.2,561.4 L182.3,558.1 L182.4,599.0 L182.6,581.1 L182.7,524.8 L182.8,587.3 L183.0,547.3 L183.1,571.1 L183.2,550.5 L183.4,533.0 L183.5,545.4 L183.6,564.7 L183.7,554.0 L183.9,530.9 L184.0,535.2 L184.1,536.7 L184.3,581.3 L184.4,535.6 L184.5,534.3 L184.6,569.5 L184.7,570.3 L184.9,539.2 L185.0,543.5 L185.1,551.0 L185.2,554.3 L185.4,567.8 L185.5,537.6 L185.6,532.0 L185.7,559.0 L185.8,578.1 L185.9,548.1 L186.1,558.4 L186.2,535.6 L186.3,544.4 L186.4,547.2 L186.5,541.4 L186.6,536.4 L186.8,555.4 L186.9,548.4 L187.0,554.7 L187.1,555.1 L187.2,545.5 L187.3,525.2 L187.4,560.9 L187.5,557.6 L187.7,570.1 L187.8,541.9 L187.9,530.6 L188.0,535.1 L188.1,553.5 L188.2,560.2 L188.3,563.5 L188.4,547.6 L188.5,531.8 L188.6,550.2 L188.7,535.1 L188.8,542.2 L189.0,551.0 L189.1,548.4 L189.2,539.5 L189.3,518.7 L189.4,560.2 L189.5,561.1 L189.6,582.1 M84.0,509.5 L88.3,496.5 L92.0,501.4 L95.3,511.6 L98.2,521.1 L100.9,521.6 L103.3,522.5 L105.5,528.3 L107.5,528.0 L109.5,530.8 L111.3,541.2 L112.9,531.6 L114.5,518.1 L116.0,518.2 L117.4,473.8 L118.8,526.6 L120.1,514.7 L121.3,489.0 L122.5,519.5 L123.6,505.8 L124.7,530.8 L125.8,509.4 L126.8,507.7 L127.8,505.2 L128.7,511.2 L129.6,537.1 L130.5,518.0 L131.3,503.1 L132.2,523.6 L133.0,518.6 L133.8,515.1 L134.5,531.5 L135.3,542.4 L136.0,542.3 L136.7,517.8 L137.4,545.0 L138.0,516.0 L138.7,530.0 L139.3,530.3 L140.0,539.7 L140.6,528.9 L141.2,543.4 L141.7,538.7 L142.3,527.2 L142.9,568.9 L143.4,534.5 L144.0,551.6 L144.5,539.7 L145.0,531.5 L145.5,531.8 L146.0,541.0 L146.5,546.8 L147.0,518.6 L147.5,532.9 L147.9,500.9 L148.4,568.3 L148.8,547.4 L149.3,516.5 L149.7,528.2 L150.2,540.9 L150.6,515.2 L151.0,543.3 L151.4,550.4 L151.8,519.2 L152.2,537.8 L152.6,551.3 L153.0,516.4 L153.4,543.3 L153.8,538.6 L154.1,524.4 L154.5,538.1 L154.9,517.2 L155.2,523.6 L155.6,507.3 L155.9,547.7 L156.3,527.0 L156.6,553.1 L156.9,549.1 L157.3,536.9 L157.6,526.3 L157.9,519.5 L158.3,523.5 L158.6,550.8 L158.9,509.0 L159.2,535.6 L159.5,555.1 L159.8,542.7 L160.1,565.3 L160.4,521.6 L160.7,529.2 L161.0,543.2 L161.3,517.3 L161.6,547.2 L161.8,553.0 L162.1,517.7 L162.4,554.8 L162.7,526.4 L162.9,556.7 L163.2,538.6 L163.5,507.6 L163.7,548.6 L164.0,552.4 L164.3,535.8 L164.5,541.0 L164.8,559.0 L165.0,523.2 L165.3,524.5 L165.5,539.2 L165.8,514.6 L166.0,527.7 L166.2,524.2 L166.5,535.3 L166.7,523.8 L166.9,563.4 L167.2,551.5 L167.4,552.1 L167.6,555.4 L167.9,537.3 L168.1,552.0 L168.3,558.4 L168.5,529.0 L168.7,529.0 L169.0,511.0 L169.2,506.1 L169.4,548.9 L169.6,506.5 L169.8,520.1 L170.0,533.9 L170.2,528.5 L170.4,546.6 L170.7,547.5 L170.9,528.9 L171.1,517.1 L171.3,553.7 L171.5,543.0 L171.7,559.0 L171.8,540.8 L172.0,533.2 L172.2,561.0 L172.4,547.4 L172.6,566.1 L172.8,561.8 L173.0,535.5 L173.2,532.2 L173.4,532.6 L173.6,559.1 L173.7,532.6 L173.9,533.0 L174.1,497.9 L174.3,537.8 L174.5,519.9 L174.6,575.9 L174.8,533.1 L175.0,530.2 L175.2,527.0 L175.3,546.1 L175.5,549.2 L175.7,543.1 L175.8,531.2 L176.0,522.3 L176.2,544.3 L176.3,548.4 L176.5,544.1 L176.7,531.4 L176.8,539.8 L177.0,539.6 L177.2,543.1 L177.3,551.6 L177.5,541.7 L177.6,522.1 L177.8,541.1 L178.0,535.9 L178.1,540.6 L178.3,533.9 L178.4,492.1 L178.6,536.0 L178.7,534.3 L178.9,538.2 L179.0,523.1 L179.2,551.2 L179.3,541.6 L179.5,544.0 L179.6,521.8 L179.8,545.8 L179.9,536.6 L180.1,557.8 L180.2,542.0 L180.4,560.9 L180.5,551.4 L180.7,549.4 L180.8,535.8 L180.9,530.3 L181.1,539.8 L181.2,543.3 L181.4,523.2 L181.5,545.4 L181.6,533.0 L181.8,528.9 L181.9,547.0 L182.0,559.0 L182.2,546.1 L182.3,527.5 L182.4,524.8 L182.6,523.6 L182.7,522.1 L182.8,540.1 L183.0,568.2 L183.1,533.9 L183.2,540.3 L183.4,560.3 L183.5,534.3 L183.6,563.7 L183.7,514.1 L183.9,566.7 L184.0,539.7 L184.1,524.1 L184.3,530.3 L184.4,546.9 L184.5,566.7 L184.6,571.4 L184.7,540.4 L184.9,537.2 L185.0,553.8 L185.1,544.4 L185.2,556.6 L185.4,514.7 L185.5,514.1 L185.6,517.4 L185.7,563.0 L185.8,538.0 L185.9,511.4 L186.1,517.7 L186.2,531.6 L186.3,543.3 L186.4,521.2 L186.5,550.9 L186.6,526.2 L186.8,560.7 L186.9,529.8 L187.0,544.1 L187.1,549.1 L187.2,535.5 L187.3,527.0 L187.4,544.5 L187.5,524.3 L187.7,563.0 L187.8,541.3 L187.9,526.5 L188.0,538.3 L188.1,543.3 L188.2,520.7 L188.3,514.4 L188.4,534.8 L188.5,517.6 L188.6,531.2 L188.7,550.4 L188.8,547.3 L189.0,525.7 L189.1,537.7 L189.2,530.8 L189.3,536.6 L189.4,536.5 L189.5,512.7 L189.6,536.6 M88.3,495.6 L92.0,510.1 L95.3,515.7 L98.2,512.9 L100.9,521.3 L103.3,508.7 L105.5,518.6 L107.5,523.1 L109.5,533.7 L111.3,527.3 L112.9,513.5 L114.5,514.0 L116.0,516.7 L117.4,526.7 L118.8,510.5 L120.1,522.1 L121.3,496.7 L122.5,526.4 L123.6,531.8 L124.7,535.3 L125.8,557.9 L126.8,527.5 L127.8,526.7 L128.7,554.0 L129.6,550.7 L130.5,549.3 L131.3,538.0 L132.2,548.3 L133.0,522.1 L133.8,513.2 L134.5,541.4 L135.3,534.2 L136.0,550.7 L136.7,515.8 L137.4,550.0 L138.0,549.2 L138.7,537.1 L139.3,548.9 L140.0,496.1 L140.6,535.8 L141.2,540.8 L141.7,553.2 L142.3,540.6 L142.9,547.8 L143.4,545.8 L144.0,523.8 L144.5,546.5 L145.0,533.3 L145.5,548.5 L146.0,524.8 L146.5,550.0 L147.0,556.0 L147.5,545.6 L147.9,521.5 L148.4,544.9 L148.8,554.6 L149.3,544.6 L149.7,552.4 L150.2,538.3 L150.6,551.6 L151.0,537.6 L151.4,527.4 L151.8,532.7 L152.2,517.7 L152.6,534.9 L153.0,512.9 L153.4,519.7 L153.8,544.3 L154.1,530.7 L154.5,552.8 L154.9,546.9 L155.2,544.6 L155.6,555.3 L155.9,539.5 L156.3,544.1 L156.6,512.5 L156.9,528.3 L157.3,545.6 L157.6,554.1 L157.9,552.9 L158.3,555.2 L158.6,556.4 L158.9,544.9 L159.2,564.8 L159.5,550.8 L159.8,537.1 L160.1,552.3 L160.4,562.2 L160.7,553.7 L161.0,532.0 L161.3,554.8 L161.6,521.4 L161.8,567.8 L162.1,559.2 L162.4,536.6 L162.7,523.0 L162.9,545.6 L163.2,570.3 L163.5,551.6 L163.7,559.5 L164.0,556.9 L164.3,551.8 L164.5,554.9 L164.8,546.6 L165.0,542.9 L165.3,549.3 L165.5,573.0 L165.8,550.7 L166.0,586.0 L166.2,548.2 L166.5,552.1 L166.7,560.3 L166.9,514.5 L167.2,516.7 L167.4,521.9 L167.6,539.7 L167.9,552.4 L168.1,539.0 L168.3,519.7 L168.5,544.3 L168.7,547.7 L169.0,554.8 L169.2,547.6 L169.4,532.9 L169.6,558.4 L169.8,530.7 L170.0,542.1 L170.2,511.0 L170.4,539.3 L170.7,525.6 L170.9,559.0 L171.1,509.9 L171.3,540.9 L171.5,546.5 L171.7,522.8 L171.8,541.1 L172.0,564.3 L172.2,538.3 L172.4,536.7 L172.6,545.2 L172.8,553.0 L173.0,571.5 L173.2,522.6 L173.4,550.4 L173.6,540.9 L173.7,553.2 L173.9,557.6 L174.1,542.8 L174.3,559.3 L174.5,532.9 L174.6,569.4 L174.8,539.2 L175.0,527.2 L175.2,551.0 L175.3,543.2 L175.5,533.1 L175.7,551.5 L175.8,550.2 L176.0,549.4 L176.2,504.5 L176.3,554.5 L176.5,549.6 L176.7,553.3 L176.8,555.3 L177.0,561.3 L177.2,557.8 L177.3,544.9 L177.5,528.2 L177.6,519.4 L177.8,563.3 L178.0,562.9 L178.1,548.4 L178.3,561.5 L178.4,559.7 L178.6,551.0 L178.7,555.4 L178.9,560.1 L179.0,544.3 L179.2,558.0 L179.3,551.6 L179.5,541.9 L179.6,534.8 L179.8,542.0 L179.9,529.1 L180.1,542.3 L180.2,568.6 L180.4,526.0 L180.5,500.5 L180.7,529.3 L180.8,520.0 L180.9,526.8 L181.1,551.1 L181.2,537.2 L181.4,556.0 L181.5,556.1 L181.6,538.7 L181.8,544.2 L181.9,556.2 L182.0,569.1 L182.2,536.3 L182.3,545.3 L182.4,544.1 L182.6,559.7 L182.7,559.6 L182.8,548.4 L183.0,575.2 L183.1,530.7 L183.2,544.5 L183.4,529.5 L183.5,530.0 L183.6,553.5 L183.7,539.3 L183.9,562.9 L184.0,562.1 L184.1,527.5 L184.3,552.7 L184.4,559.0 L184.5,540.4 L184.6,545.5 L184.7,531.4 L184.9,564.5 L185.0,552.2 L185.1,563.5 L185.2,547.7 L185.4,550.8 L185.5,561.3 L185.6,574.7 L185.7,570.1 L185.8,534.5 L185.9,550.9 L186.1,563.7 L186.2,545.5 L186.3,563.6 L186.4,534.1 L186.5,531.9 L186.6,544.4 L186.8,555.1 L186.9,575.4 L187.0,541.9 L187.1,514.9 L187.2,540.3 L187.3,554.2 L187.4,535.0 L187.5,551.3 L187.7,565.7 L187.8,550.1 L187.9,537.7 L188.0,573.7 L188.1,533.3 L188.2,520.2 L188.3,544.3 L188.4,553.7 L188.5,569.1 L188.6,540.5 L188.7,550.2 L188.8,528.2 L189.0,520.8 L189.1,524.9 L189.2,541.6 L189.3,574.0 L189.4,529.0 L189.5,552.2 L189.6,554.5 M95.3,495.1 L98.2,503.8 L100.9,504.1 L103.3,502.3 L105.5,521.0 L107.5,511.7 L109.5,513.0 L111.3,510.1 L112.9,516.5 L114.5,508.1 L116.0,506.7 L117.4,482.8 L118.8,506.9 L120.1,514.2 L121.3,506.1 L122.5,544.3 L123.6,505.0 L124.7,535.9 L125.8,516.0 L126.8,488.3 L127.8,538.7 L128.7,500.2 L129.6,516.4 L130.5,540.8 L131.3,514.5 L132.2,541.1 L133.0,514.4 L133.8,512.8 L134.5,547.1 L135.3,525.0 L136.0,491.9 L136.7,509.5 L137.4,522.8 L138.0,527.4 L138.7,520.3 L139.3,536.1 L140.0,515.8 L140.6,520.4 L141.2,504.2 L141.7,527.1 L142.3,528.4 L142.9,559.0 L143.4,541.0 L144.0,530.2 L144.5,554.7 L145.0,545.9 L145.5,538.6 L146.0,554.9 L146.5,514.1 L147.0,511.9 L147.5,516.4 L147.9,510.1 L148.4,517.8 L148.8,539.4 L149.3,518.7 L149.7,510.2 L150.2,531.9 L150.6,512.4 L151.0,541.4 L151.4,571.6 L151.8,557.3 L152.2,537.1 L152.6,530.5 L153.0,559.0 L153.4,536.7 L153.8,539.0 L154.1,546.3 L154.5,538.9 L154.9,521.2 L155.2,548.3 L155.6,518.3 L155.9,568.5 L156.3,550.1 L156.6,534.6 L156.9,510.3 L157.3,554.9 L157.6,534.4 L157.9,542.7 L158.3,565.0 L158.6,543.3 L158.9,516.5 L159.2,551.2 L159.5,516.1 L159.8,572.1 L160.1,524.7 L160.4,525.4 L160.7,536.8 L161.0,518.7 L161.3,519.9 L161.6,529.1 L161.8,544.3 L162.1,542.5 L162.4,531.7 L162.7,529.7 L162.9,539.7 L163.2,547.6 L163.5,555.1 L163.7,527.1 L164.0,535.8 L164.3,529.7 L164.5,529.8 L164.8,543.9 L165.0,534.3 L165.3,514.4 L165.5,531.8 L165.8,543.1 L166.0,506.3 L166.2,522.5 L166.5,513.1 L166.7,531.3 L166.9,525.8 L167.2,566.6 L167.4,528.3 L167.6,532.5 L167.9,519.7 L168.1,513.8 L168.3,545.8 L168.5,528.5 L168.7,539.8 L169.0,529.4 L169.2,519.2 L169.4,533.0 L169.6,531.7 L169.8,522.7 L170.0,525.3 L170.2,492.8 L170.4,522.6 L170.7,529.9 L170.9,523.8 L171.1,525.6 L171.3,536.3 L171.5,544.6 L171.7,547.3 L171.8,533.2 L172.0,526.6 L172.2,530.1 L172.4,549.4 L172.6,550.4 L172.8,539.0 L173.0,566.8 L173.2,529.0 L173.4,546.5 L173.6,548.0 L173.7,537.1 L173.9,532.9 L174.1,566.0 L174.3,531.0 L174.5,514.3 L174.6,550.6 L174.8,523.5 L175.0,545.3 L175.2,552.0 L175.3,527.0 L175.5,537.3 L175.7,528.2 L175.8,522.1 L176.0,517.5 L176.2,523.2 L176.3,524.5 L176.5,543.5 L176.7,532.0 L176.8,513.4 L177.0,537.2 L177.2,539.9 L177.3,528.4 L177.5,553.4 L177.6,544.2 L177.8,524.0 L178.0,545.2 L178.1,522.4 L178.3,544.3 L178.4,537.8 L178.6,541.4 L178.7,529.3 L178.9,540.5 L179.0,552.5 L179.2,550.1 L179.3,570.6 L179.5,560.8 L179.6,521.3 L179.8,524.7 L179.9,538.8 L180.1,545.5 L180.2,551.4 L180.4,553.2 L180.5,550.8 L180.7,552.4 L180.8,529.2 L180.9,535.6 L181.1,538.9 L181.2,523.3 L181.4,531.2 L181.5,513.9 L181.6,550.3 L181.8,564.4 L181.9,556.3 L182.0,553.6 L182.2,523.6 L182.3,501.6 L182.4,536.6 L182.6,535.8 L182.7,551.2 L182.8,538.3 L183.0,499.9 L183.1,523.1 L183.2,546.3 L183.4,549.8 L183.5,528.1 L183.6,530.4 L183.7,521.6 L183.9,501.1 L184.0,506.7 L184.1,523.3 L184.3,532.6 L184.4,517.8 L184.5,554.8 L184.6,518.3 L184.7,529.0 L184.9,502.5 L185.0,533.3 L185.1,530.9 L185.2,531.6 L185.4,509.3 L185.5,557.5 L185.6,562.5 L185.7,527.5 L185.8,520.8 L185.9,528.7 L186.1,546.7 L186.2,538.8 L186.3,547.0 L186.4,559.3 L186.5,536.1 L186.6,529.6 L186.8,515.8 L186.9,542.7 L187.0,546.5 L187.1,503.5 L187.2,528.8 L187.3,544.5 L187.4,540.6 L187.5,533.6 L187.7,543.5 L187.8,519.8 L187.9,534.9 L188.0,542.7 L188.1,507.5 L188.2,513.0 L188.3,513.0 L188.4,520.9 L188.5,540.9 L188.6,549.6 L188.7,511.6 L188.8,535.9 L189.0,521.5 L189.1,518.8 L189.2,566.0 L189.3,567.3 L189.4,515.8 L189.5,549.9 L189.6,534.6 M95.3,491.7 L98.2,498.7 L100.9,510.4 L103.3,509.2 L105.5,530.4 L107.5,539.5 L109.5,531.4 L111.3,532.8 L112.9,536.1 L114.5,526.8 L116.0,524.3 L117.4,543.6 L118.8,528.1 L120.1,516.4 L121.3,533.1 L122.5,518.0 L123.6,511.1 L124.7,519.0 L125.8,516.4 L126.8,550.4 L127.8,529.4 L128.7,522.0 L129.6,523.4 L130.5,548.4 L131.3,529.6 L132.2,521.4 L133.0,511.0 L133.8,567.2 L134.5,552.4 L135.3,514.8 L136.0,538.5 L136.7,519.1 L137.4,523.6 L138.0,536.0 L138.7,523.5 L139.3,513.9 L140.0,523.4 L140.6,542.4 L141.2,548.0 L141.7,532.7 L142.3,489.3 L142.9,555.8 L143.4,547.9 L144.0,538.6 L144.5,501.9 L145.0,539.0 L145.5,557.4 L146.0,528.7 L146.5,527.9 L147.0,528.3 L147.5,537.3 L147.9,538.6 L148.4,547.7 L148.8,537.5 L149.3,527.0 L149.7,530.6 L150.2,542.0 L150.6,557.9 L151.0,533.6 L151.4,521.8 L151.8,534.2 L152.2,528.9 L152.6,535.0 L153.0,564.7 L153.4,497.1 L153.8,549.9 L154.1,538.3 L154.5,548.5 L154.9,531.8 L155.2,534.7 L155.6,530.7 L155.9,547.0 L156.3,557.0 L156.6,544.1 L156.9,539.1 L157.3,539.9 L157.6,555.8 L157.9,548.7 L158.3,514.4 L158.6,521.6 L158.9,545.4 L159.2,517.4 L159.5,528.9 L159.8,542.3 L160.1,546.8 L160.4,551.3 L160.7,516.4 L161.0,551.0 L161.3,543.5 L161.6,533.7 L161.8,544.4 L162.1,534.4 L162.4,522.0 L162.7,518.2 L162.9,544.0 L163.2,541.5 L163.5,544.0 L163.7,539.7 L164.0,522.0 L164.3,535.2 L164.5,545.9 L164.8,556.4 L165.0,566.4 L165.3,514.4 L165.5,535.9 L165.8,550.0 L166.0,531.9 L166.2,538.8 L166.5,563.3 L166.7,550.8 L166.9,549.7 L167.2,552.1 L167.4,552.2 L167.6,534.1 L167.9,568.2 L168.1,560.9 L168.3,565.0 L168.5,518.7 L168.7,547.2 L169.0,548.8 L169.2,560.2 L169.4,478.0 L169.6,533.4 L169.8,540.2 L170.0,543.4 L170.2,585.4 L170.4,576.8 L170.7,558.9 L170.9,543.5 L171.1,536.5 L171.3,543.8 L171.5,555.0 L171.7,535.9 L171.8,548.7 L172.0,514.7 L172.2,500.0 L172.4,541.6 L172.6,537.6 L172.8,522.6 L173.0,534.8 L173.2,530.2 L173.4,557.9 L173.6,547.3 L173.7,543.9 L173.9,556.5 L174.1,538.6 L174.3,570.3 L174.5,552.8 L174.6,551.3 L174.8,526.5 L175.0,524.9 L175.2,533.0 L175.3,547.9 L175.5,559.5 L175.7,570.1 L175.8,543.0 L176.0,552.1 L176.2,545.3 L176.3,540.9 L176.5,550.9 L176.7,560.5 L176.8,550.8 L177.0,555.6 L177.2,555.3 L177.3,556.7 L177.5,566.6 L177.6,540.7 L177.8,536.3 L178.0,548.5 L178.1,545.7 L178.3,551.3 L178.4,536.4 L178.6,524.1 L178.7,518.6 L178.9,528.9 L179.0,536.4 L179.2,552.5 L179.3,553.2 L179.5,568.8 L179.6,530.9 L179.8,547.5 L179.9,568.1 L180.1,525.4 L180.2,548.1 L180.4,512.8 L180.5,553.5 L180.7,535.3 L180.8,532.2 L180.9,567.5 L181.1,539.6 L181.2,525.2 L181.4,528.9 L181.5,546.0 L181.6,567.7 L181.8,556.8 L181.9,550.6 L182.0,562.2 L182.2,555.3 L182.3,541.0 L182.4,555.9 L182.6,557.5 L182.7,546.8 L182.8,551.3 L183.0,546.7 L183.1,555.9 L183.2,528.2 L183.4,566.1 L183.5,553.1 L183.6,541.9 L183.7,543.7 L183.9,536.3 L184.0,518.0 L184.1,547.7 L184.3,544.9 L184.4,546.3 L184.5,562.6 L184.6,554.6 L184.7,575.7 L184.9,559.3 L185.0,543.8 L185.1,553.6 L185.2,530.7 L185.4,548.6 L185.5,555.7 L185.6,546.1 L185.7,546.1 L185.8,536.9 L185.9,549.6 L186.1,528.2 L186.2,545.6 L186.3,534.5 L186.4,541.2 L186.5,542.6 L186.6,532.4 L186.8,554.3 L186.9,555.5 L187.0,545.4 L187.1,544.3 L187.2,546.9 L187.3,546.0 L187.4,551.4 L187.5,551.7 L187.7,530.1 L187.8,568.5 L187.9,542.4 L188.0,568.3 L188.1,559.4 L188.2,536.5 L188.3,540.7 L188.4,549.1 L188.5,529.7 L188.6,551.7 L188.7,543.9 L188.8,542.9 L189.0,542.6 L189.1,525.6 L189.2,537.3 L189.3,525.8 L189.4,549.6 L189.5,540.4 L189.6,526.3 M90.2,506.7 L93.7,499.4 L96.8,495.5 L99.6,497.9 L102.1,492.1 L104.4,503.1 L106.5,507.9 L108.5,521.5 L110.4,521.7 L112.1,512.1 L113.7,522.6 L115.3,522.8 L116.7,524.9 L118.1,521.3 L119.5,527.3 L120.7,517.9 L121.9,541.5 L123.1,523.2 L124.2,498.0 L125.3,539.5 L126.3,514.5 L127.3,536.1 L128.2,536.9 L129.2,500.3 L130.1,515.0 L130.9,517.8 L131.8,502.6 L132.6,517.1 L133.4,530.8 L134.1,566.8 L134.9,524.0 L135.6,504.6 L136.3,536.4 L137.0,552.0 L137.7,561.8 L138.4,527.2 L139.0,570.6 L139.6,532.1 L140.3,521.7 L140.9,540.8 L141.5,552.2 L142.0,541.7 L142.6,512.2 L143.2,551.9 L143.7,550.4 L144.2,529.9 L144.8,546.1 L145.3,517.7 L145.8,546.8 L146.3,557.5 L146.8,563.1 L147.2,544.0 L147.7,521.6 L148.2,536.5 L148.6,547.5 L149.1,563.5 L149.5,537.5 L149.9,549.5 L150.4,504.2 L150.8,554.5 L151.2,562.3 L151.6,562.1 L152.0,539.2 L152.4,530.9 L152.8,535.7 L153.2,521.5 L153.6,527.7 L153.9,548.5 L154.3,515.2 L154.7,550.4 L155.0,538.6 L155.4,540.1 L155.7,523.1 L156.1,540.0 L156.4,536.0 L156.8,571.4 L157.1,545.7 L157.4,539.7 L157.8,517.8 L158.1,566.3 L158.4,562.9 L158.7,530.9 L159.0,504.6 L159.3,535.9 L159.7,574.4 L160.0,573.2 L160.3,551.1 L160.5,557.0 L160.8,536.2 L161.1,525.3 L161.4,528.5 L161.7,555.8 L162.0,554.8 L162.3,546.8 L162.5,536.6 L162.8,533.3 L163.1,548.0 L163.3,527.2 L163.6,530.1 L163.9,546.4 L164.1,540.2 L164.4,517.9 L164.6,530.4 L164.9,546.5 L165.1,548.6 L165.4,528.8 L165.6,535.8 L165.9,540.3 L166.1,554.3 L166.4,548.5 L166.6,541.3 L166.8,515.7 L167.1,560.8 L167.3,543.2 L167.5,558.0 L167.7,566.5 L168.0,510.1 L168.2,560.1 L168.4,526.2 L168.6,525.8 L168.9,534.5 L169.1,541.9 L169.3,544.2 L169.5,536.0 L169.7,536.8 L169.9,534.2 L170.1,532.8 L170.3,568.2 L170.5,566.2 L170.8,546.6 L171.0,544.8 L171.2,565.0 L171.4,531.2 L171.6,535.1 L171.8,538.3 L171.9,527.1 L172.1,532.6 L172.3,544.7 L172.5,553.5 L172.7,527.1 L172.9,549.9 L173.1,556.2 L173.3,560.0 L173.5,535.0 L173.6,539.2 L173.8,546.2 L174.0,529.5 L174.2,555.7 L174.4,532.4 L174.5,551.2 L174.7,547.3 L174.9,547.7 L175.1,541.1 L175.2,522.3 L175.4,551.4 L175.6,529.0 L175.8,523.5 L175.9,544.8 L176.1,554.5 L176.3,563.2 L176.4,547.3 L176.6,499.9 L176.8,542.8 L176.9,542.3 L177.1,558.9 L177.2,539.0 L177.4,539.9 L177.6,528.7 L177.7,510.3 L177.9,525.2 L178.0,555.6 L178.2,547.7 L178.4,565.0 L178.5,553.1 L178.7,567.4 L178.8,529.2 L179.0,577.0 L179.1,538.5 L179.3,541.9 L179.4,568.3 L179.6,534.8 L179.7,523.4 L179.9,514.8 L180.0,545.7 L180.1,533.0 L180.3,540.4 L180.4,521.8 L180.6,542.5 L180.7,527.0 L180.9,558.7 L181.0,556.4 L181.1,562.8 L181.3,549.3 L181.4,564.9 L181.6,544.4 L181.7,553.7 L181.8,567.4 L182.0,543.4 L182.1,526.9 L182.2,535.1 L182.4,538.5 L182.5,547.9 L182.6,547.9 L182.8,570.0 L182.9,516.7 L183.0,568.1 L183.2,561.1 L183.3,562.7 L183.4,563.4 L183.6,544.4 L183.7,556.4 L183.8,554.8 L183.9,540.4 L184.1,563.3 L184.2,564.2 L184.3,539.8 L184.4,552.2 L184.6,574.4 L184.7,538.6 L184.8,566.9 L184.9,547.5 L185.1,545.2 L185.2,540.6 L185.3,540.4 L185.4,551.0 L185.5,546.2 L185.7,571.0 L185.8,543.6 L185.9,574.4 L186.0,536.8 L186.1,555.8 L186.2,532.7 L186.4,544.9 L186.5,537.2 L186.6,551.6 L186.7,549.7 L186.8,538.2 L186.9,534.4 L187.0,550.2 L187.2,588.4 L187.3,547.4 L187.4,534.4 L187.5,524.3 L187.6,547.2 L187.7,528.8 L187.8,599.5 L187.9,557.1 L188.0,556.4 L188.2,514.1 L188.3,546.0 L188.4,505.0 L188.5,540.7 L188.6,551.7 L188.7,555.1 L188.8,559.4 L188.9,544.8 L189.0,543.0 L189.1,560.7 L189.2,519.2 L189.3,526.2 L189.4,548.2 L189.5,537.4 L189.6,547.2 M92.0,486.6 L95.3,485.4 L98.2,481.4 L100.9,488.1 L103.3,481.8 L105.5,493.1 L107.5,504.5 L109.5,506.1 L111.3,517.6 L112.9,506.7 L114.5,506.1 L116.0,503.2 L117.4,528.9 L118.8,521.1 L120.1,501.8 L121.3,530.8 L122.5,522.1 L123.6,523.8 L124.7,504.9 L125.8,516.8 L126.8,529.9 L127.8,544.5 L128.7,499.9 L129.6,503.0 L130.5,519.7 L131.3,552.0 L132.2,557.0 L133.0,525.2 L133.8,547.5 L134.5,533.6 L135.3,518.8 L136.0,524.4 L136.7,503.5 L137.4,510.0 L138.0,528.4 L138.7,520.6 L139.3,533.8 L140.0,544.5 L140.6,531.5 L141.2,529.1 L141.7,510.6 L142.3,521.0 L142.9,528.6 L143.4,523.2 L144.0,528.7 L144.5,540.5 L145.0,543.2 L145.5,535.1 L146.0,526.8 L146.5,529.9 L147.0,540.1 L147.5,557.5 L147.9,550.1 L148.4,548.2 L148.8,556.0 L149.3,563.7 L149.7,547.9 L150.2,542.4 L150.6,513.7 L151.0,529.0 L151.4,545.4 L151.8,526.4 L152.2,499.7 L152.6,560.8 L153.0,550.4 L153.4,538.5 L153.8,544.2 L154.1,522.1 L154.5,533.3 L154.9,560.3 L155.2,537.8 L155.6,562.9 L155.9,558.3 L156.3,527.4 L156.6,561.2 L156.9,534.0 L157.3,541.2 L157.6,506.7 L157.9,571.3 L158.3,543.2 L158.6,536.9 L158.9,538.1 L159.2,548.0 L159.5,555.0 L159.8,532.3 L160.1,516.9 L160.4,535.5 L160.7,550.9 L161.0,569.7 L161.3,547.2 L161.6,519.4 L161.8,547.5 L162.1,532.6 L162.4,521.9 L162.7,543.7 L162.9,555.4 L163.2,569.5 L163.5,557.1 L163.7,558.3 L164.0,549.5 L164.3,523.0 L164.5,554.1 L164.8,523.7 L165.0,531.2 L165.3,558.6 L165.5,558.8 L165.8,523.7 L166.0,529.0 L166.2,535.7 L166.5,536.7 L166.7,540.7 L166.9,538.7 L167.2,550.4 L167.4,537.7 L167.6,543.9 L167.9,505.4 L168.1,555.1 L168.3,530.4 L168.5,566.2 L168.7,547.4 L169.0,560.4 L169.2,499.7 L169.4,518.1 L169.6,558.1 L169.8,524.2 L170.0,527.4 L170.2,570.3 L170.4,531.0 L170.7,534.6 L170.9,552.0 L171.1,538.5 L171.3,516.6 L171.5,512.7 L171.7,574.4 L171.8,560.4 L172.0,507.8 L172.2,540.5 L172.4,548.1 L172.6,528.3 L172.8,569.5 L173.0,569.1 L173.2,576.6 L173.4,541.1 L173.6,524.4 L173.7,546.1 L173.9,546.3 L174.1,522.0 L174.3,555.5 L174.5,557.7 L174.6,548.3 L174.8,548.2 L175.0,559.8 L175.2,553.4 L175.3,573.4 L175.5,563.1 L175.7,542.5 L175.8,555.3 L176.0,544.7 L176.2,520.2 L176.3,521.0 L176.5,542.5 L176.7,554.0 L176.8,555.1 L177.0,540.3 L177.2,555.4 L177.3,579.3 L177.5,539.5 L177.6,536.1 L177.8,526.4 L178.0,537.6 L178.1,535.5 L178.3,546.1 L178.4,581.3 L178.6,558.2 L178.7,572.7 L178.9,580.3 L179.0,529.7 L179.2,531.8 L179.3,538.1 L179.5,577.0 L179.6,533.1 L179.8,552.7 L179.9,573.2 L180.1,546.3 L180.2,562.0 L180.4,569.7 L180.5,569.8 L180.7,538.0 L180.8,565.6 L180.9,538.3 L181.1,543.9 L181.2,533.7 L181.4,539.5 L181.5,513.4 L181.6,512.1 L181.8,521.4 L181.9,557.9 L182.0,540.0 L182.2,568.7 L182.3,534.8 L182.4,528.9 L182.6,533.5 L182.7,547.6 L182.8,571.3 L183.0,540.6 L183.1,545.0 L183.2,534.3 L183.4,543.1 L183.5,557.6 L183.6,542.4 L183.7,561.9 L183.9,561.6 L184.0,562.8 L184.1,560.4 L184.3,551.9 L184.4,551.9 L184.5,543.9 L184.6,559.0 L184.7,524.4 L184.9,527.9 L185.0,548.5 L185.1,539.1 L185.2,554.4 L185.4,561.7 L185.5,529.9 L185.6,537.1 L185.7,551.2 L185.8,559.5 L185.9,542.2 L186.1,524.4 L186.2,550.2 L186.3,528.8 L186.4,550.1 L186.5,522.8 L186.6,545.6 L186.8,553.7 L186.9,561.4 L187.0,573.6 L187.1,557.4 L187.2,543.6 L187.3,521.0 L187.4,542.4 L187.5,565.2 L187.7,554.2 L187.8,560.6 L187.9,575.8 L188.0,549.0 L188.1,554.6 L188.2,500.2 L188.3,523.5 L188.4,535.4 L188.5,561.0 L188.6,543.1 L188.7,528.4 L188.8,547.6 L189.0,553.3 L189.1,548.9 L189.2,532.0 L189.3,557.5 L189.4,526.0 L189.5,537.0 L189.6,559.6 M86.3,505.6 L90.2,511.2 L93.7,514.4 L96.8,515.8 L99.6,499.3 L102.1,500.0 L104.4,494.5 L106.5,490.9 L108.5,496.6 L110.4,503.1 L112.1,502.1 L113.7,498.0 L115.3,497.6 L116.7,483.4 L118.1,496.8 L119.5,517.5 L120.7,504.9 L121.9,493.1 L123.1,507.7 L124.2,518.6 L125.3,517.0 L126.3,546.7 L127.3,502.0 L128.2,507.8 L129.2,532.6 L130.1,532.3 L130.9,530.5 L131.8,506.7 L132.6,540.8 L133.4,529.2 L134.1,499.6 L134.9,517.1 L135.6,513.8 L136.3,533.4 L137.0,511.7 L137.7,529.5 L138.4,512.1 L139.0,530.2 L139.6,529.4 L140.3,511.8 L140.9,513.1 L141.5,548.9 L142.0,529.2 L142.6,539.9 L143.2,544.8 L143.7,529.5 L144.2,519.6 L144.8,533.2 L145.3,560.1 L145.8,558.4 L146.3,532.7 L146.8,536.7 L147.2,498.6 L147.7,550.3 L148.2,559.4 L148.6,552.8 L149.1,523.5 L149.5,540.3 L149.9,556.0 L150.4,538.4 L150.8,549.9 L151.2,535.9 L151.6,550.8 L152.0,547.7 L152.4,539.8 L152.8,564.8 L153.2,522.6 L153.6,527.0 L153.9,535.5 L154.3,560.2 L154.7,546.8 L155.0,548.7 L155.4,561.6 L155.7,545.3 L156.1,560.4 L156.4,530.3 L156.8,522.5 L157.1,538.0 L157.4,537.7 L157.8,581.3 L158.1,545.7 L158.4,565.9 L158.7,537.0 L159.0,542.6 L159.3,543.2 L159.7,584.3 L160.0,558.5 L160.3,549.4 L160.5,551.8 L160.8,522.4 L161.1,551.5 L161.4,514.1 L161.7,550.1 L162.0,556.5 L162.3,550.8 L162.5,555.0 L162.8,544.7 L163.1,536.2 L163.3,546.7 L163.6,527.4 L163.9,540.4 L164.1,560.5 L164.4,535.1 L164.6,548.3 L164.9,522.1 L165.1,509.8 L165.4,527.4 L165.6,515.0 L165.9,519.3 L166.1,521.9 L166.4,560.4 L166.6,543.2 L166.8,551.5 L167.1,547.4 L167.3,544.3 L167.5,542.5 L167.7,568.8 L168.0,540.1 L168.2,525.2 L168.4,520.6 L168.6,527.1 L168.9,541.9 L169.1,546.8 L169.3,566.3 L169.5,564.8 L169.7,529.3 L169.9,510.1 L170.1,539.0 L170.3,538.7 L170.5,519.0 L170.8,526.5 L171.0,529.5 L171.2,512.0 L171.4,544.8 L171.6,539.7 L171.8,536.1 L171.9,554.0 L172.1,542.3 L172.3,541.0 L172.5,547.4 L172.7,526.3 L172.9,560.9 L173.1,543.4 L173.3,541.2 L173.5,541.5 L173.6,529.7 L173.8,551.5 L174.0,548.6 L174.2,575.2 L174.4,566.6 L174.5,558.8 L174.7,542.0 L174.9,531.7 L175.1,586.3 L175.2,550.4 L175.4,532.1 L175.6,543.3 L175.8,550.9 L175.9,552.7 L176.1,551.4 L176.3,533.5 L176.4,526.3 L176.6,541.2 L176.8,548.7 L176.9,541.6 L177.1,538.6 L177.2,547.4 L177.4,537.5 L177.6,552.0 L177.7,543.0 L177.9,538.0 L178.0,565.5 L178.2,514.1 L178.4,548.6 L178.5,532.5 L178.7,542.0 L178.8,553.7 L179.0,541.9 L179.1,582.8 L179.3,543.8 L179.4,546.2 L179.6,537.6 L179.7,568.9 L179.9,539.6 L180.0,561.9 L180.1,526.4 L180.3,526.6 L180.4,556.6 L180.6,552.7 L180.7,542.6 L180.9,552.4 L181.0,559.2 L181.1,529.0 L181.3,503.7 L181.4,567.3 L181.6,536.0 L181.7,549.9 L181.8,560.1 L182.0,535.6 L182.1,548.1 L182.2,541.7 L182.4,566.5 L182.5,518.5 L182.6,563.0 L182.8,522.4 L182.9,526.3 L183.0,552.9 L183.2,507.1 L183.3,560.4 L183.4,523.9 L183.6,539.7 L183.7,529.7 L183.8,545.3 L183.9,548.9 L184.1,536.7 L184.2,527.6 L184.3,554.8 L184.4,561.5 L184.6,556.1 L184.7,529.3 L184.8,552.7 L184.9,559.9 L185.1,549.8 L185.2,564.5 L185.3,510.0 L185.4,550.6 L185.5,558.0 L185.7,525.8 L185.8,529.4 L185.9,524.8 L186.0,536.3 L186.1,538.6 L186.2,527.5 L186.4,539.4 L186.5,531.7 L186.6,549.0 L186.7,540.6 L186.8,543.0 L186.9,518.3 L187.0,516.5 L187.2,522.5 L187.3,550.0 L187.4,538.0 L187.5,540.4 L187.6,557.6 L187.7,544.9 L187.8,542.7 L187.9,527.2 L188.0,508.6 L188.2,556.1 L188.3,543.7 L188.4,548.7 L188.5,547.2 L188.6,525.6 L188.7,516.2 L188.8,549.6 L188.9,553.6 L189.0,535.8 L189.1,552.1 L189.2,569.5 L189.3,536.7 L189.4,534.9 L189.5,552.3 L189.6,533.4 M86.3,495.7 L90.2,489.8 L93.7,489.6 L96.8,505.5 L99.6,510.4 L102.1,506.2 L104.4,501.0 L106.5,501.7 L108.5,509.4 L110.4,506.3 L112.1,516.8 L113.7,504.7 L115.3,489.9 L116.7,484.7 L118.1,540.4 L119.5,509.6 L120.7,524.4 L121.9,533.6 L123.1,519.6 L124.2,521.7 L125.3,537.7 L126.3,525.0 L127.3,519.5 L128.2,523.1 L129.2,525.6 L130.1,539.7 L130.9,527.3 L131.8,522.1 L132.6,540.2 L133.4,507.6 L134.1,551.2 L134.9,500.1 L135.6,521.8 L136.3,543.6 L137.0,535.1 L137.7,526.8 L138.4,518.6 L139.0,521.7 L139.6,529.6 L140.3,521.5 L140.9,536.9 L141.5,517.8 L142.0,543.1 L142.6,541.8 L143.2,535.3 L143.7,543.9 L144.2,550.9 L144.8,544.9 L145.3,519.9 L145.8,510.9 L146.3,530.8 L146.8,526.7 L147.2,539.2 L147.7,524.5 L148.2,523.2 L148.6,549.0 L149.1,557.1 L149.5,527.5 L149.9,540.0 L150.4,537.1 L150.8,545.5 L151.2,543.8 L151.6,519.5 L152.0,550.6 L152.4,544.0 L152.8,545.7 L153.2,529.9 L153.6,536.8 L153.9,523.5 L154.3,525.3 L154.7,525.3 L155.0,517.1 L155.4,525.1 L155.7,546.6 L156.1,551.9 L156.4,541.6 L156.8,568.2 L157.1,536.8 L157.4,565.2 L157.8,548.0 L158.1,531.2 L158.4,513.3 L158.7,544.6 L159.0,537.5 L159.3,560.5 L159.7,541.8 L160.0,535.0 L160.3,528.5 L160.5,544.8 L160.8,522.6 L161.1,538.1 L161.4,544.2 L161.7,537.2 L162.0,525.0 L162.3,516.5 L162.5,517.1 L162.8,546.5 L163.1,546.8 L163.3,528.8 L163.6,556.1 L163.9,521.3 L164.1,533.3 L164.4,545.8 L164.6,566.8 L164.9,542.5 L165.1,539.0 L165.4,519.4 L165.6,532.3 L165.9,538.9 L166.1,516.5 L166.4,554.7 L166.6,525.3 L166.8,536.8 L167.1,525.7 L167.3,540.1 L167.5,521.1 L167.7,568.2 L168.0,540.2 L168.2,559.2 L168.4,528.3 L168.6,496.0 L168.9,531.1 L169.1,546.6 L169.3,540.6 L169.5,547.0 L169.7,519.0 L169.9,505.7 L170.1,531.9 L170.3,541.5 L170.5,543.1 L170.8,531.1 L171.0,530.1 L171.2,567.9 L171.4,555.4 L171.6,549.2 L171.8,533.3 L171.9,539.0 L172.1,543.9 L172.3,551.1 L172.5,517.6 L172.7,511.8 L172.9,510.9 L173.1,544.4 L173.3,565.8 L173.5,543.6 L173.6,551.7 L173.8,512.4 L174.0,530.1 L174.2,520.5 L174.4,538.7 L174.5,549.6 L174.7,542.5 L174.9,532.8 L175.1,553.6 L175.2,524.8 L175.4,558.2 L175.6,517.6 L175.8,509.8 L175.9,541.2 L176.1,546.9 L176.3,538.7 L176.4,539.3 L176.6,559.6 L176.8,557.6 L176.9,557.3 L177.1,514.0 L177.2,546.5 L177.4,520.9 L177.6,554.6 L177.7,566.1 L177.9,534.7 L178.0,540.6 L178.2,516.8 L178.4,523.1 L178.5,497.0 L178.7,554.6 L178.8,551.6 L179.0,537.7 L179.1,529.7 L179.3,532.6 L179.4,551.8 L179.6,536.6 L179.7,531.8 L179.9,550.5 L180.0,545.4 L180.1,520.7 L180.3,543.6 L180.4,550.7 L180.6,531.3 L180.7,564.0 L180.9,526.1 L181.0,535.9 L181.1,528.0 L181.3,538.5 L181.4,512.2 L181.6,531.0 L181.7,547.2 L181.8,562.2 L182.0,545.2 L182.1,550.0 L182.2,584.1 L182.4,533.0 L182.5,536.8 L182.6,539.7 L182.8,555.2 L182.9,526.0 L183.0,514.5 L183.2,547.5 L183.3,539.2 L183.4,548.3 L183.6,529.0 L183.7,528.4 L183.8,524.4 L183.9,531.1 L184.1,539.9 L184.2,521.3 L184.3,539.6 L184.4,560.8 L184.6,520.1 L184.7,559.3 L184.8,526.6 L184.9,564.1 L185.1,509.1 L185.2,548.4 L185.3,550.4 L185.4,551.5 L185.5,563.4 L185.7,575.7 L185.8,546.4 L185.9,504.8 L186.0,543.5 L186.1,513.1 L186.2,539.8 L186.4,539.0 L186.5,539.2 L186.6,550.0 L186.7,540.7 L186.8,578.6 L186.9,533.6 L187.0,520.6 L187.2,548.5 L187.3,538.5 L187.4,536.4 L187.5,494.5 L187.6,504.3 L187.7,526.8 L187.8,535.2 L187.9,546.8 L188.0,564.6 L188.2,519.2 L188.3,541.9 L188.4,533.1 L188.5,557.7 L188.6,540.9 L188.7,558.9 L188.8,516.5 L188.9,530.1 L189.0,532.7 L189.1,537.0 L189.2,552.1 L189.3,535.8 L189.4,525.8 L189.5,547.6 L189.6,546.1 M84.0,534.6 L88.3,539.7 L92.0,524.2 L95.3,536.3 L98.2,529.1 L100.9,526.8 L103.3,539.3 L105.5,533.2 L107.5,536.0 L109.5,541.6 L111.3,550.2 L112.9,543.0 L114.5,543.7 L116.0,540.0 L117.4,523.3 L118.8,499.7 L120.1,524.2 L121.3,522.8 L122.5,503.0 L123.6,530.3 L124.7,507.9 L125.8,517.6 L126.8,555.9 L127.8,508.1 L128.7,529.0 L129.6,547.2 L130.5,535.8 L131.3,528.5 L132.2,527.3 L133.0,498.9 L133.8,555.3 L134.5,529.8 L135.3,541.3 L136.0,541.2 L136.7,541.7 L137.4,546.9 L138.0,511.1 L138.7,530.2 L139.3,535.7 L140.0,531.1 L140.6,559.3 L141.2,541.3 L141.7,545.2 L142.3,552.7 L142.9,518.0 L143.4,532.7 L144.0,528.0 L144.5,546.2 L145.0,537.6 L145.5,539.0 L146.0,529.6 L146.5,536.1 L147.0,531.7 L147.5,550.4 L147.9,533.1 L148.4,532.7 L148.8,531.5 L149.3,543.9 L149.7,537.0 L150.2,541.2 L150.6,536.0 L151.0,540.6 L151.4,548.5 L151.8,549.8 L152.2,540.2 L152.6,558.1 L153.0,580.8 L153.4,547.1 L153.8,548.2 L154.1,539.1 L154.5,532.6 L154.9,536.0 L155.2,545.5 L155.6,540.2 L155.9,568.3 L156.3,536.6 L156.6,555.7 L156.9,556.2 L157.3,536.7 L157.6,552.1 L157.9,558.1 L158.3,548.7 L158.6,559.3 L158.9,532.9 L159.2,559.3 L159.5,546.6 L159.8,527.3 L160.1,537.6 L160.4,508.3 L160.7,524.7 L161.0,536.8 L161.3,561.7 L161.6,536.1 L161.8,524.3 L162.1,527.6 L162.4,533.6 L162.7,533.3 L162.9,544.9 L163.2,538.2 L163.5,537.7 L163.7,543.2 L164.0,524.5 L164.3,555.4 L164.5,526.3 L164.8,551.1 L165.0,560.7 L165.3,550.7 L165.5,557.9 L165.8,549.7 L166.0,535.6 L166.2,525.0 L166.5,530.7 L166.7,583.8 L166.9,530.6 L167.2,554.5 L167.4,539.8 L167.6,524.9 L167.9,526.5 L168.1,516.5 L168.3,541.2 L168.5,559.2 L168.7,560.4 L169.0,517.1 L169.2,547.6 L169.4,542.5 L169.6,552.4 L169.8,559.5 L170.0,523.7 L170.2,522.1 L170.4,540.0 L170.7,534.5 L170.9,555.3 L171.1,548.0 L171.3,553.6 L171.5,531.1 L171.7,524.8 L171.8,551.7 L172.0,572.2 L172.2,535.6 L172.4,513.1 L172.6,557.1 L172.8,518.6 L173.0,537.9 L173.2,540.4 L173.4,568.7 L173.6,550.7 L173.7,568.1 L173.9,537.9 L174.1,509.9 L174.3,538.5 L174.5,555.5 L174.6,556.0 L174.8,548.3 L175.0,543.5 L175.2,523.5 L175.3,541.8 L175.5,543.4 L175.7,560.9 L175.8,561.2 L176.0,543.8 L176.2,547.1 L176.3,548.4 L176.5,538.4 L176.7,520.6 L176.8,557.2 L177.0,536.5 L177.2,530.2 L177.3,552.0 L177.5,566.0 L177.6,566.6 L177.8,545.5 L178.0,544.1 L178.1,540.0 L178.3,534.8 L178.4,529.0 L178.6,523.9 L178.7,518.2 L178.9,543.4 L179.0,542.9 L179.2,559.1 L179.3,565.0 L179.5,548.1 L179.6,562.6 L179.8,527.2 L179.9,555.5 L180.1,521.4 L180.2,554.3 L180.4,548.9 L180.5,529.7 L180.7,538.1 L180.8,523.8 L180.9,556.6 L181.1,535.6 L181.2,551.1 L181.4,539.0 L181.5,566.0 L181.6,561.0 L181.8,552.0 L181.9,539.7 L182.0,561.3 L182.2,561.5 L182.3,575.0 L182.4,557.4 L182.6,522.4 L182.7,552.9 L182.8,576.2 L183.0,570.0 L183.1,565.4 L183.2,555.0 L183.4,543.0 L183.5,532.4 L183.6,552.4 L183.7,537.3 L183.9,546.4 L184.0,536.1 L184.1,529.2 L184.3,532.2 L184.4,570.1 L184.5,537.3 L184.6,550.5 L184.7,581.5 L184.9,543.1 L185.0,549.5 L185.1,565.5 L185.2,577.4 L185.4,541.7 L185.5,541.3 L185.6,535.8 L185.7,543.6 L185.8,515.6 L185.9,553.3 L186.1,545.7 L186.2,544.7 L186.3,521.5 L186.4,524.2 L186.5,552.6 L186.6,528.6 L186.8,554.4 L186.9,534.3 L187.0,569.0 L187.1,575.8 L187.2,534.1 L187.3,538.4 L187.4,551.3 L187.5,573.0 L187.7,557.4 L187.8,556.1 L187.9,536.0 L188.0,543.1 L188.1,576.2 L188.2,561.1 L188.3,565.2 L188.4,558.9 L188.5,566.4 L188.6,530.8 L188.7,527.2 L188.8,547.4 L189.0,558.0 L189.1,562.1 L189.2,548.4 L189.3,512.6 L189.4,528.3 L189.5,536.9 L189.6,527.2 M90.2,505.5 L93.7,500.1 L96.8,497.7 L99.6,490.7 L102.1,497.2 L104.4,503.3 L106.5,501.4 L108.5,503.4 L110.4,529.0 L112.1,512.4 L113.7,511.3 L115.3,495.3 L116.7,497.4 L118.1,505.6 L119.5,502.3 L120.7,515.1 L121.9,503.9 L123.1,524.5 L124.2,533.7 L125.3,521.6 L126.3,544.5 L127.3,516.5 L128.2,507.4 L129.2,515.7 L130.1,560.1 L130.9,508.8 L131.8,514.0 L132.6,564.1 L133.4,552.1 L134.1,546.2 L134.9,553.5 L135.6,536.4 L136.3,546.3 L137.0,546.1 L137.7,516.7 L138.4,516.6 L139.0,528.4 L139.6,514.4 L140.3,521.1 L140.9,526.9 L141.5,511.7 L142.0,531.9 L142.6,511.9 L143.2,539.7 L143.7,506.3 L144.2,533.8 L144.8,549.1 L145.3,538.2 L145.8,534.0 L146.3,549.3 L146.8,545.9 L147.2,544.4 L147.7,517.7 L148.2,553.3 L148.6,528.6 L149.1,516.7 L149.5,573.4 L149.9,514.0 L150.4,536.5 L150.8,546.8 L151.2,540.6 L151.6,564.9 L152.0,538.8 L152.4,563.3 L152.8,534.7 L153.2,509.1 L153.6,555.3 L153.9,526.6 L154.3,529.1 L154.7,537.6 L155.0,540.9 L155.4,519.5 L155.7,534.2 L156.1,551.9 L156.4,543.7 L156.8,555.1 L157.1,543.9 L157.4,540.2 L157.8,554.8 L158.1,536.2 L158.4,550.5 L158.7,529.7 L159.0,527.2 L159.3,534.2 L159.7,506.9 L160.0,547.9 L160.3,516.4 L160.5,550.0 L160.8,541.3 L161.1,559.7 L161.4,560.5 L161.7,566.6 L162.0,539.5 L162.3,548.7 L162.5,556.7 L162.8,560.1 L163.1,557.0 L163.3,512.2 L163.6,527.6 L163.9,543.7 L164.1,539.9 L164.4,553.8 L164.6,529.8 L164.9,544.8 L165.1,550.4 L165.4,542.9 L165.6,531.2 L165.9,524.5 L166.1,547.5 L166.4,546.0 L166.6,554.6 L166.8,550.9 L167.1,533.7 L167.3,554.5 L167.5,561.7 L167.7,551.5 L168.0,541.0 L168.2,555.0 L168.4,551.9 L168.6,550.7 L168.9,528.2 L169.1,546.5 L169.3,545.1 L169.5,538.9 L169.7,527.8 L169.9,531.5 L170.1,528.5 L170.3,563.8 L170.5,526.1 L170.8,534.0 L171.0,523.5 L171.2,530.1 L171.4,516.4 L171.6,537.0 L171.8,558.4 L171.9,574.0 L172.1,574.1 L172.3,552.9 L172.5,540.0 L172.7,556.8 L172.9,533.0 L173.1,541.6 L173.3,521.4 L173.5,534.5 L173.6,545.5 L173.8,554.2 L174.0,543.2 L174.2,558.5 L174.4,544.8 L174.5,522.6 L174.7,518.7 L174.9,563.0 L175.1,545.0 L175.2,553.7 L175.4,539.7 L175.6,550.0 L175.8,539.4 L175.9,553.3 L176.1,563.5 L176.3,542.3 L176.4,548.4 L176.6,566.1 L176.8,553.7 L176.9,572.6 L177.1,513.4 L177.2,583.9 L177.4,537.6 L177.6,536.6 L177.7,568.0 L177.9,564.4 L178.0,531.7 L178.2,539.1 L178.4,519.3 L178.5,549.8 L178.7,559.1 L178.8,561.0 L179.0,543.9 L179.1,501.0 L179.3,534.7 L179.4,571.1 L179.6,531.8 L179.7,553.2 L179.9,535.3 L180.0,544.7 L180.1,563.8 L180.3,573.4 L180.4,531.9 L180.6,558.2 L180.7,579.7 L180.9,534.0 L181.0,525.1 L181.1,551.0 L181.3,551.9 L181.4,545.7 L181.6,566.6 L181.7,559.2 L181.8,560.1 L182.0,553.6 L182.1,545.1 L182.2,548.7 L182.4,549.6 L182.5,522.1 L182.6,560.8 L182.8,566.4 L182.9,543.5 L183.0,566.8 L183.2,564.1 L183.3,540.8 L183.4,556.3 L183.6,550.3 L183.7,550.8 L183.8,539.2 L183.9,558.6 L184.1,546.7 L184.2,551.9 L184.3,538.0 L184.4,551.1 L184.6,534.4 L184.7,537.3 L184.8,584.2 L184.9,569.0 L185.1,557.1 L185.2,537.1 L185.3,542.6 L185.4,556.2 L185.5,542.7 L185.7,537.9 L185.8,556.5 L185.9,571.4 L186.0,529.4 L186.1,512.9 L186.2,561.2 L186.4,529.3 L186.5,548.7 L186.6,549.6 L186.7,553.8 L186.8,534.0 L186.9,537.1 L187.0,511.0 L187.2,540.2 L187.3,524.2 L187.4,536.1 L187.5,573.4 L187.6,550.5 L187.7,565.8 L187.8,538.9 L187.9,533.7 L188.0,525.9 L188.2,552.6 L188.3,523.0 L188.4,542.8 L188.5,548.9 L188.6,529.1 L188.7,558.7 L188.8,549.0 L188.9,553.9 L189.0,573.5 L189.1,527.3 L189.2,536.0 L189.3,562.4 L189.4,562.3 L189.5,537.9 L189.6,535.6 M163.5,523.0 L163.7,429.1 L164.0,528.4 M118.8,510.0 L120.1,466.9 L121.3,514.2 M124.7,514.0 L125.8,473.9 L126.8,518.2 M130.5,517.9 L131.3,465.7 L132.2,522.1 M137.4,522.1 L138.0,472.2 L138.7,526.3 M155.2,529.6 L155.6,477.6 L155.9,533.8 M175.8,533.0 L176.0,481.1 L176.2,537.1 M180.5,533.3 L180.7,473.9 L180.8,537.5 M183.9,533.5 L184.0,485.2 L184.1,537.6" fill="none" stroke="#8793aa" stroke-opacity="0.55" stroke-width="0.8"/>
<path d="M93.0,500.8 L96.2,505.4 L99.0,501.8 L101.6,509.2 L104.0,511.8 L106.1,499.7 L108.1,505.9 L110.0,512.6 L111.8,510.6 L113.4,511.6 L115.0,513.0 L116.5,514.1 L117.9,513.6 L119.2,515.7 L120.5,516.3 L121.7,514.3 L122.9,520.8 L124.0,512.8 L125.0,521.0 L126.1,516.3 L127.1,521.4 L128.0,531.4 L129.0,521.6 L129.9,525.1 L130.8,517.6 L131.6,523.2 L132.4,525.3 L133.2,530.1 L134.0,523.8 L134.7,522.6 L135.5,530.8 L136.2,524.8 L136.9,531.0 L137.6,526.2 L138.2,536.6 L138.9,526.2 L139.5,537.1 L140.1,534.6 L140.7,537.6 L141.3,531.8 L141.9,528.7 L142.5,533.4 L143.0,536.7 L143.6,532.6 L144.1,531.0 L144.7,536.0 L145.2,532.1 L145.7,540.2 L146.2,533.6 L146.7,528.0 L147.1,531.3 L147.6,536.9 L148.1,522.2 L148.5,535.0 L149.0,527.0 L149.4,531.6 L149.9,532.6 L150.3,527.9 L150.7,546.8 L151.1,540.4 L151.5,537.3 L151.9,536.4 L152.3,540.9 L152.7,541.2 L153.1,524.8 L153.5,543.0 L153.9,542.9 L154.2,531.3 L154.6,531.2 L155.0,535.1 L155.3,539.0 L155.7,535.8 L156.0,543.6 L156.4,539.4 L156.7,527.8 L157.0,538.6 L157.4,546.5 L157.7,538.7 L158.0,540.9 L158.3,538.4 L158.7,536.1 L159.0,535.9 L159.3,542.1 L159.6,539.6 L159.9,534.5 L160.2,534.5 L160.5,536.3 L160.8,543.5 L161.1,538.1 L161.4,530.6 L161.6,535.9 L161.9,537.7 L162.2,531.6 L162.5,539.1 L162.7,529.5 L163.0,536.8 L163.3,544.6 L163.5,536.5 L163.8,538.3 L164.1,531.8 L164.3,541.2 L164.6,538.5 L164.8,541.3 L165.1,539.9 L165.3,531.9 L165.6,545.8 L165.8,540.3 L166.1,529.4 L166.3,544.6 L166.5,542.8 L166.8,537.5 L167.0,542.3 L167.2,535.5 L167.5,541.7 L167.7,533.1 L167.9,536.5 L168.2,538.6 L168.4,535.2 L168.6,544.5 L168.8,535.5 L169.0,532.5 L169.2,536.5 L169.5,541.6 L169.7,534.5 L169.9,542.2 L170.1,542.3 L170.3,543.0 L170.5,533.6 L170.7,537.4 L170.9,536.8 L171.1,535.1 L171.3,543.0 L171.5,540.7 L171.7,543.4 L171.9,542.5 L172.1,535.5 L172.3,543.4 L172.5,540.8 L172.7,539.1 L172.9,534.4 L173.1,540.4 L173.2,530.6 L173.4,535.8 L173.6,546.4 L173.8,539.9 L174.0,535.7 L174.2,541.5 L174.3,547.2 L174.5,542.1 L174.7,540.6 L174.9,542.9 L175.0,542.1 L175.2,537.9 L175.4,539.2 L175.6,550.2 L175.7,533.4 L175.9,534.3 L176.1,540.8 L176.2,531.3 L176.4,542.9 L176.6,537.2 L176.7,549.2 L176.9,548.3 L177.1,541.6 L177.2,537.4 L177.4,541.5 L177.5,537.9 L177.7,535.8 L177.9,547.3 L178.0,539.2 L178.2,534.5 L178.3,544.8 L178.5,539.2 L178.6,540.4 L178.8,535.7 L178.9,539.8 L179.1,542.5 L179.2,535.3 L179.4,542.1 L179.5,544.6 L179.7,548.7 L179.8,533.4 L180.0,540.2 L180.1,550.3 L180.3,540.7 L180.4,533.3 L180.6,536.4 L180.7,530.6 L180.8,543.8 L181.0,538.8 L181.1,532.5 L181.3,539.2 L181.4,546.5 L181.5,553.3 L181.7,543.5 L181.8,535.3 L181.9,546.2 L182.1,545.1 L182.2,540.7 L182.3,543.3 L182.5,540.0 L182.6,542.5 L182.7,541.7 L182.9,538.0 L183.0,540.1 L183.1,547.4 L183.3,549.1 L183.4,537.9 L183.5,539.7 L183.7,539.2 L183.8,543.2 L183.9,542.9 L184.0,533.8 L184.2,550.3 L184.3,541.5 L184.4,542.9 L184.5,542.6 L184.7,540.2 L184.8,541.3 L184.9,545.1 L185.0,534.2 L185.1,535.5 L185.3,539.9 L185.4,545.3 L185.5,540.1 L185.6,540.5 L185.7,542.3 L185.9,539.4 L186.0,540.7 L186.1,535.6 L186.2,540.6 L186.3,544.5 L186.4,539.5 L186.6,539.0 L186.7,541.4 L186.8,547.5 L186.9,540.0 L187.0,550.5 L187.1,541.2 L187.2,535.4 L187.4,544.1 L187.5,536.9 L187.6,531.9 L187.7,543.8 L187.8,542.8 L187.9,549.8 L188.0,540.9 L188.1,546.8 L188.2,544.8 L188.3,540.3 L188.5,543.8 L188.6,540.5 L188.7,538.2 L188.8,541.9 L188.9,541.3 L189.0,550.5 L189.1,538.7 L189.2,539.3 L189.3,540.7 L189.4,541.8 L189.5,532.6 L189.6,533.0" fill="none" stroke="#3b4d52" stroke-width="1.0"/>
<path d="M72.8,499.1 L74.1,499.2 L75.3,499.3 L76.6,499.5 L77.9,499.6 L79.2,499.8 L80.4,500.0 L81.7,500.2 L83.0,500.4 L84.3,500.7 L85.6,501.0 L86.8,501.2 L88.1,501.5 L89.4,501.9 L90.7,502.2 L92.0,502.6 L93.2,503.0 L94.5,503.4 L95.8,503.9 L97.1,504.4 L98.3,504.9 L99.6,505.4 L100.9,506.0 L102.2,506.6 L103.5,507.2 L104.7,507.9 L106.0,508.5 L107.3,509.2 L108.6,510.0 L109.8,510.7 L111.1,511.5 L112.4,512.3 L113.7,513.2 L115.0,514.0 L116.2,514.9 L117.5,515.8 L118.8,516.7 L120.1,517.6 L121.3,518.5 L122.6,519.4 L123.9,520.3 L125.2,521.2 L126.5,522.1 L127.7,523.0 L129.0,523.9 L130.3,524.8 L131.6,525.6 L132.9,526.5 L134.1,527.3 L135.4,528.1 L136.7,528.9 L138.0,529.6 L139.2,530.4 L140.5,531.1 L141.8,531.7 L143.1,532.4 L144.4,533.0 L145.6,533.6 L146.9,534.1 L148.2,534.7 L149.5,535.2 L150.7,535.6 L152.0,536.1 L153.3,536.5 L154.6,536.9 L155.9,537.3 L157.1,537.6 L158.4,537.9 L159.7,538.2 L161.0,538.5 L162.2,538.8 L163.5,539.0 L164.8,539.2 L166.1,539.4 L167.4,539.6 L168.6,539.8 L169.9,539.9 L171.2,540.1 L172.5,540.2 L173.8,540.4 L175.0,540.5 L176.3,540.6 L177.6,540.7 L178.9,540.8 L180.1,540.8 L181.4,540.9 L182.7,541.0 L184.0,541.1 L185.3,541.1 L186.5,541.2 L187.8,541.2 L189.1,541.3 L190.4,541.3 L191.6,541.3 L192.9,541.4 L194.2,541.4 L195.5,541.4 L196.8,541.5 L198.0,541.5 L199.3,541.5 L200.6,541.5 L201.9,541.5 L203.1,541.5 L204.4,541.6" fill="none" stroke="#2020a0" stroke-width="2.4"/>
<path d="M72.8,499.6 L74.1,499.7 L75.3,499.8 L76.6,500.0 L77.9,500.1 L79.2,500.3 L80.4,500.5 L81.7,500.7 L83.0,500.9 L84.3,501.2 L85.6,501.5 L86.8,501.7 L88.1,502.0 L89.4,502.4 L90.7,502.7 L92.0,503.1 L93.2,503.5 L94.5,503.9 L95.8,504.4 L97.1,504.9 L98.3,505.4 L99.6,505.9 L100.9,506.5 L102.2,507.1 L103.5,507.7 L104.7,508.4 L106.0,509.0 L107.3,509.7 L108.6,510.5 L109.8,511.2 L111.1,512.0 L112.4,512.8 L113.7,513.7 L115.0,514.5 L116.2,515.4 L117.5,516.3 L118.8,517.2 L120.1,518.1 L121.3,519.0 L122.6,519.9 L123.9,520.8 L125.2,521.7 L126.5,522.6 L127.7,523.5 L129.0,524.4 L130.3,525.3 L131.6,526.1 L132.9,527.0 L134.1,527.8 L135.4,528.6 L136.7,529.4 L138.0,530.1 L139.2,530.9 L140.5,531.6 L141.8,532.2 L143.1,532.9 L144.4,533.5 L145.6,534.1 L146.9,534.6 L148.2,535.2 L149.5,535.7 L150.7,536.1 L152.0,536.6 L153.3,537.0 L154.6,537.4 L155.9,537.8 L157.1,538.1 L158.4,538.4 L159.7,538.7 L161.0,539.0 L162.2,539.3 L163.5,539.5 L164.8,539.7 L166.1,539.9 L167.4,540.1 L168.6,540.3 L169.9,540.4 L171.2,540.6 L172.5,540.7 L173.8,540.9 L175.0,541.0 L176.3,541.1 L177.6,541.2 L178.9,541.3 L180.1,541.3 L181.4,541.4 L182.7,541.5 L184.0,541.6 L185.3,541.6 L186.5,541.7 L187.8,541.7 L189.1,541.8 L190.4,541.8 L191.6,541.8 L192.9,541.9 L194.2,541.9 L195.5,541.9 L196.8,542.0 L198.0,542.0 L199.3,542.0 L200.6,542.0 L201.9,542.0 L203.1,542.0 L204.4,542.1" fill="none" stroke="#e0305a" stroke-width="1.6"/>
</g>
<rect x="73.80" y="432.50" width="129.50" height="129.50" fill="none" stroke="#262626" stroke-width="1.4"/>
<path d="M73.80,562.00 h3.2 M203.30,562.00 h-3.2 M73.80,549.01 h1.9 M203.30,549.01 h-1.9 M73.80,541.40 h1.9 M203.30,541.40 h-1.9 M73.80,536.01 h1.9 M203.30,536.01 h-1.9 M73.80,531.83 h1.9 M203.30,531.83 h-1.9 M73.80,528.41 h1.9 M203.30,528.41 h-1.9 M73.80,525.52 h1.9 M203.30,525.52 h-1.9 M73.80,523.02 h1.9 M203.30,523.02 h-1.9 M73.80,520.81 h1.9 M203.30,520.81 h-1.9 M73.80,518.83 h3.2 M203.30,518.83 h-3.2 M73.80,505.84 h1.9 M203.30,505.84 h-1.9 M73.80,498.24 h1.9 M203.30,498.24 h-1.9 M73.80,492.84 h1.9 M203.30,492.84 h-1.9 M73.80,488.66 h1.9 M203.30,488.66 h-1.9 M73.80,485.24 h1.9 M203.30,485.24 h-1.9 M73.80,482.35 h1.9 M203.30,482.35 h-1.9 M73.80,479.85 h1.9 M203.30,479.85 h-1.9 M73.80,477.64 h1.9 M203.30,477.64 h-1.9 M73.80,475.67 h3.2 M203.30,475.67 h-3.2 M73.80,462.67 h1.9 M203.30,462.67 h-1.9 M73.80,455.07 h1.9 M203.30,455.07 h-1.9 M73.80,449.68 h1.9 M203.30,449.68 h-1.9 M73.80,445.49 h1.9 M203.30,445.49 h-1.9 M73.80,442.08 h1.9 M203.30,442.08 h-1.9 M73.80,439.19 h1.9 M203.30,439.19 h-1.9 M73.80,436.68 h1.9 M203.30,436.68 h-1.9 M73.80,434.48 h1.9 M203.30,434.48 h-1.9 M73.80,432.50 h3.2 M203.30,432.50 h-3.2 M78.97,562.00 v-1.9 M78.97,432.50 v1.9 M84.03,562.00 v-1.9 M84.03,432.50 v1.9 M88.31,562.00 v-1.9 M88.31,432.50 v1.9 M92.02,562.00 v-1.9 M92.02,432.50 v1.9 M95.29,562.00 v-1.9 M95.29,432.50 v1.9 M98.21,562.00 v-3.2 M98.21,432.50 v3.2 M117.45,562.00 v-1.9 M117.45,432.50 v1.9 M128.70,562.00 v-1.9 M128.70,432.50 v1.9 M136.68,562.00 v-1.9 M136.68,432.50 v1.9 M142.88,562.00 v-1.9 M142.88,432.50 v1.9 M147.94,562.00 v-1.9 M147.94,432.50 v1.9 M152.22,562.00 v-1.9 M152.22,432.50 v1.9 M155.92,562.00 v-1.9 M155.92,432.50 v1.9 M159.19,562.00 v-1.9 M159.19,432.50 v1.9 M162.12,562.00 v-3.2 M162.12,432.50 v3.2 M181.35,562.00 v-1.9 M181.35,432.50 v1.9 M192.61,562.00 v-1.9 M192.61,432.50 v1.9 M200.59,562.00 v-1.9 M200.59,432.50 v1.9" stroke="#262626" stroke-width="1" fill="none"/>
<text transform="translate(69.30,569.30) scale(1.0,1.06)" font-size="18.6" text-anchor="end">10<tspan font-size="13.2" dy="-5.9">0</tspan></text>
<text transform="translate(69.30,526.13) scale(1.0,1.06)" font-size="18.6" text-anchor="end">10<tspan font-size="13.2" dy="-5.9">1</tspan></text>
<text transform="translate(69.30,482.97) scale(1.0,1.06)" font-size="18.6" text-anchor="end">10<tspan font-size="13.2" dy="-5.9">2</tspan></text>
<text transform="translate(69.30,439.80) scale(1.0,1.06)" font-size="18.6" text-anchor="end">10<tspan font-size="13.2" dy="-5.9">3</tspan></text>
<text transform="translate(97.30,584.00) scale(1.0,1.06)" font-size="18.6" text-anchor="middle">10<tspan font-size="13.2" dy="-7.2">0</tspan></text>
<text transform="translate(158.60,584.00) scale(1.0,1.06)" font-size="18.6" text-anchor="middle">10<tspan font-size="13.2" dy="-7.2">1</tspan></text>
<g clip-path="url(#ch)">
<path d="M301.3,499.9 V515.3 M302.6,503.7 V518.3 M303.9,498.6 V513.3 M305.3,505.9 V518.9 M306.6,502.3 V516.3 M307.9,508.1 V521.2 M309.2,497.4 V512.6 M310.5,497.5 V513.9 M311.8,490.9 V507.1 M313.2,499.5 V513.3 M314.5,496.5 V511.2 M315.8,498.2 V513.7 M317.1,502.1 V515.8 M318.4,500.3 V515.1 M319.7,503.2 V518.6 M321.1,501.4 V519.0 M322.4,498.7 V515.2 M323.7,499.8 V517.1 M325.0,500.1 V514.1 M326.3,491.6 V507.8 M327.6,495.6 V514.4 M329.0,498.9 V514.5 M330.3,500.4 V515.8 M331.6,498.7 V513.3 M332.9,498.5 V513.4 M334.2,498.5 V516.0 M335.5,491.9 V507.0 M336.8,499.7 V513.8 M338.2,500.8 V517.7 M339.5,495.4 V514.0 M340.8,495.0 V510.3 M342.1,499.3 V516.6 M343.4,501.8 V516.6 M344.7,491.5 V508.8 M346.1,505.8 V520.7 M347.4,496.7 V511.5 M348.7,495.8 V510.7 M350.0,491.7 V509.5 M351.3,502.5 V516.7 M352.6,504.1 V520.6 M354.0,496.9 V512.7 M355.3,500.9 V514.6 M356.6,500.1 V516.7 M357.9,500.2 V516.2 M359.2,499.3 V515.9 M360.5,497.5 V512.8 M361.9,500.4 V516.3 M363.2,497.7 V513.0 M364.5,495.6 V510.7 M365.8,501.1 V516.2 M367.1,501.1 V518.0 M368.4,496.0 V509.4 M369.7,496.3 V513.3 M371.1,500.1 V517.3 M372.4,498.9 V513.9 M373.7,497.6 V513.3 M375.0,499.5 V516.4 M376.3,495.3 V512.3 M377.6,499.6 V514.6 M379.0,501.3 V517.2 M380.3,496.1 V512.2 M381.6,503.0 V518.4 M382.9,494.1 V510.3 M384.2,495.3 V511.3 M385.5,504.8 V520.7 M386.9,495.3 V511.1 M388.2,499.9 V515.1 M389.5,500.3 V515.2 M390.8,498.4 V513.7 M392.1,489.8 V505.7 M393.4,496.9 V514.1 M394.8,496.1 V510.9 M396.1,492.5 V511.6 M397.4,501.1 V516.0 M398.7,499.8 V515.8 M400.0,496.6 V514.3 M401.3,501.6 V516.8 M402.6,498.6 V515.1 M404.0,496.4 V511.3 M405.3,497.2 V511.5 M406.6,497.5 V512.1 M407.9,502.4 V516.4 M409.2,492.3 V505.1 M410.5,497.0 V513.8 M411.9,498.6 V514.4 M413.2,500.0 V514.9 M414.5,503.8 V519.8 M415.8,504.0 V520.8 M417.1,501.2 V516.1 M418.4,494.7 V509.7 M419.8,500.4 V517.6 M421.1,500.3 V516.6 M422.4,501.0 V516.0 M423.7,497.9 V513.7 M425.0,500.0 V514.5 M426.3,500.1 V514.5 M427.7,502.7 V518.1 M429.0,507.0 V523.9 M430.3,499.5 V514.4 M431.6,498.6 V511.7" stroke="#e4572e" stroke-width="0.8" fill="none"/>
<path d="M300.0,499.9 h2.6 M300.0,515.3 h2.6 M301.3,503.7 h2.6 M301.3,518.3 h2.6 M302.6,498.6 h2.6 M302.6,513.3 h2.6 M304.0,505.9 h2.6 M304.0,518.9 h2.6 M305.3,502.3 h2.6 M305.3,516.3 h2.6 M306.6,508.1 h2.6 M306.6,521.2 h2.6 M307.9,497.4 h2.6 M307.9,512.6 h2.6 M309.2,497.5 h2.6 M309.2,513.9 h2.6 M310.5,490.9 h2.6 M310.5,507.1 h2.6 M311.9,499.5 h2.6 M311.9,513.3 h2.6 M313.2,496.5 h2.6 M313.2,511.2 h2.6 M314.5,498.2 h2.6 M314.5,513.7 h2.6 M315.8,502.1 h2.6 M315.8,515.8 h2.6 M317.1,500.3 h2.6 M317.1,515.1 h2.6 M318.4,503.2 h2.6 M318.4,518.6 h2.6 M319.8,501.4 h2.6 M319.8,519.0 h2.6 M321.1,498.7 h2.6 M321.1,515.2 h2.6 M322.4,499.8 h2.6 M322.4,517.1 h2.6 M323.7,500.1 h2.6 M323.7,514.1 h2.6 M325.0,491.6 h2.6 M325.0,507.8 h2.6 M326.3,495.6 h2.6 M326.3,514.4 h2.6 M327.7,498.9 h2.6 M327.7,514.5 h2.6 M329.0,500.4 h2.6 M329.0,515.8 h2.6 M330.3,498.7 h2.6 M330.3,513.3 h2.6 M331.6,498.5 h2.6 M331.6,513.4 h2.6 M332.9,498.5 h2.6 M332.9,516.0 h2.6 M334.2,491.9 h2.6 M334.2,507.0 h2.6 M335.5,499.7 h2.6 M335.5,513.8 h2.6 M336.9,500.8 h2.6 M336.9,517.7 h2.6 M338.2,495.4 h2.6 M338.2,514.0 h2.6 M339.5,495.0 h2.6 M339.5,510.3 h2.6 M340.8,499.3 h2.6 M340.8,516.6 h2.6 M342.1,501.8 h2.6 M342.1,516.6 h2.6 M343.4,491.5 h2.6 M343.4,508.8 h2.6 M344.8,505.8 h2.6 M344.8,520.7 h2.6 M346.1,496.7 h2.6 M346.1,511.5 h2.6 M347.4,495.8 h2.6 M347.4,510.7 h2.6 M348.7,491.7 h2.6 M348.7,509.5 h2.6 M350.0,502.5 h2.6 M350.0,516.7 h2.6 M351.3,504.1 h2.6 M351.3,520.6 h2.6 M352.7,496.9 h2.6 M352.7,512.7 h2.6 M354.0,500.9 h2.6 M354.0,514.6 h2.6 M355.3,500.1 h2.6 M355.3,516.7 h2.6 M356.6,500.2 h2.6 M356.6,516.2 h2.6 M357.9,499.3 h2.6 M357.9,515.9 h2.6 M359.2,497.5 h2.6 M359.2,512.8 h2.6 M360.6,500.4 h2.6 M360.6,516.3 h2.6 M361.9,497.7 h2.6 M361.9,513.0 h2.6 M363.2,495.6 h2.6 M363.2,510.7 h2.6 M364.5,501.1 h2.6 M364.5,516.2 h2.6 M365.8,501.1 h2.6 M365.8,518.0 h2.6 M367.1,496.0 h2.6 M367.1,509.4 h2.6 M368.4,496.3 h2.6 M368.4,513.3 h2.6 M369.8,500.1 h2.6 M369.8,517.3 h2.6 M371.1,498.9 h2.6 M371.1,513.9 h2.6 M372.4,497.6 h2.6 M372.4,513.3 h2.6 M373.7,499.5 h2.6 M373.7,516.4 h2.6 M375.0,495.3 h2.6 M375.0,512.3 h2.6 M376.3,499.6 h2.6 M376.3,514.6 h2.6 M377.7,501.3 h2.6 M377.7,517.2 h2.6 M379.0,496.1 h2.6 M379.0,512.2 h2.6 M380.3,503.0 h2.6 M380.3,518.4 h2.6 M381.6,494.1 h2.6 M381.6,510.3 h2.6 M382.9,495.3 h2.6 M382.9,511.3 h2.6 M384.2,504.8 h2.6 M384.2,520.7 h2.6 M385.6,495.3 h2.6 M385.6,511.1 h2.6 M386.9,499.9 h2.6 M386.9,515.1 h2.6 M388.2,500.3 h2.6 M388.2,515.2 h2.6 M389.5,498.4 h2.6 M389.5,513.7 h2.6 M390.8,489.8 h2.6 M390.8,505.7 h2.6 M392.1,496.9 h2.6 M392.1,514.1 h2.6 M393.5,496.1 h2.6 M393.5,510.9 h2.6 M394.8,492.5 h2.6 M394.8,511.6 h2.6 M396.1,501.1 h2.6 M396.1,516.0 h2.6 M397.4,499.8 h2.6 M397.4,515.8 h2.6 M398.7,496.6 h2.6 M398.7,514.3 h2.6 M400.0,501.6 h2.6 M400.0,516.8 h2.6 M401.3,498.6 h2.6 M401.3,515.1 h2.6 M402.7,496.4 h2.6 M402.7,511.3 h2.6 M404.0,497.2 h2.6 M404.0,511.5 h2.6 M405.3,497.5 h2.6 M405.3,512.1 h2.6 M406.6,502.4 h2.6 M406.6,516.4 h2.6 M407.9,492.3 h2.6 M407.9,505.1 h2.6 M409.2,497.0 h2.6 M409.2,513.8 h2.6 M410.6,498.6 h2.6 M410.6,514.4 h2.6 M411.9,500.0 h2.6 M411.9,514.9 h2.6 M413.2,503.8 h2.6 M413.2,519.8 h2.6 M414.5,504.0 h2.6 M414.5,520.8 h2.6 M415.8,501.2 h2.6 M415.8,516.1 h2.6 M417.1,494.7 h2.6 M417.1,509.7 h2.6 M418.5,500.4 h2.6 M418.5,517.6 h2.6 M419.8,500.3 h2.6 M419.8,516.6 h2.6 M421.1,501.0 h2.6 M421.1,516.0 h2.6 M422.4,497.9 h2.6 M422.4,513.7 h2.6 M423.7,500.0 h2.6 M423.7,514.5 h2.6 M425.0,500.1 h2.6 M425.0,514.5 h2.6 M426.4,502.7 h2.6 M426.4,518.1 h2.6 M427.7,507.0 h2.6 M427.7,523.9 h2.6 M429.0,499.5 h2.6 M429.0,514.4 h2.6 M430.3,498.6 h2.6 M430.3,511.7 h2.6" stroke="#e4572e" stroke-width="1.1" fill="none"/>
<path d="M301.3,508.4 L302.6,510.0 L303.9,505.6 L305.3,512.6 L306.6,509.1 L307.9,514.4 L309.2,504.9 L310.5,505.7 L311.8,500.1 L313.2,507.1 L314.5,504.0 L315.8,507.2 L317.1,508.4 L318.4,506.8 L319.7,510.6 L321.1,510.8 L322.4,506.3 L323.7,508.2 L325.0,506.7 L326.3,499.6 L327.6,505.0 L329.0,506.3 L330.3,506.6 L331.6,506.7 L332.9,505.2 L334.2,507.7 L335.5,499.6 L336.8,506.8 L338.2,508.3 L339.5,504.6 L340.8,502.1 L342.1,507.1 L343.4,509.0 L344.7,499.3 L346.1,513.6 L347.4,505.0 L348.7,503.0 L350.0,500.7 L351.3,510.5 L352.6,513.5 L354.0,503.9 L355.3,507.6 L356.6,507.2 L357.9,507.9 L359.2,507.5 L360.5,504.1 L361.9,507.6 L363.2,505.0 L364.5,503.6 L365.8,508.5 L367.1,509.3 L368.4,503.1 L369.7,505.6 L371.1,508.1 L372.4,507.7 L373.7,505.7 L375.0,507.8 L376.3,504.5 L377.6,507.1 L379.0,508.1 L380.3,505.0 L381.6,512.0 L382.9,501.8 L384.2,504.1 L385.5,511.5 L386.9,503.4 L388.2,507.2 L389.5,508.5 L390.8,504.8 L392.1,498.8 L393.4,505.3 L394.8,504.7 L396.1,502.1 L397.4,507.5 L398.7,506.8 L400.0,505.9 L401.3,508.2 L402.6,507.9 L404.0,504.6 L405.3,503.9 L406.6,503.8 L407.9,509.8 L409.2,498.7 L410.5,505.7 L411.9,505.3 L413.2,507.2 L414.5,511.6 L415.8,511.5 L417.1,509.7 L418.4,503.0 L419.8,509.7 L421.1,508.5 L422.4,509.0 L423.7,506.6 L425.0,506.6 L426.3,507.5 L427.7,509.4 L429.0,515.3 L430.3,508.0 L431.6,505.2" fill="none" stroke="#e4572e" stroke-width="0.5"/>
<path d="M299.7,508.4 a1.6,1.6 0 1,0 3.2,0 a1.6,1.6 0 1,0 -3.2,0 M301.0,510.0 a1.6,1.6 0 1,0 3.2,0 a1.6,1.6 0 1,0 -3.2,0 M302.3,505.6 a1.6,1.6 0 1,0 3.2,0 a1.6,1.6 0 1,0 -3.2,0 M303.7,512.6 a1.6,1.6 0 1,0 3.2,0 a1.6,1.6 0 1,0 -3.2,0 M305.0,509.1 a1.6,1.6 0 1,0 3.2,0 a1.6,1.6 0 1,0 -3.2,0 M306.3,514.4 a1.6,1.6 0 1,0 3.2,0 a1.6,1.6 0 1,0 -3.2,0 M307.6,504.9 a1.6,1.6 0 1,0 3.2,0 a1.6,1.6 0 1,0 -3.2,0 M308.9,505.7 a1.6,1.6 0 1,0 3.2,0 a1.6,1.6 0 1,0 -3.2,0 M310.2,500.1 a1.6,1.6 0 1,0 3.2,0 a1.6,1.6 0 1,0 -3.2,0 M311.6,507.1 a1.6,1.6 0 1,0 3.2,0 a1.6,1.6 0 1,0 -3.2,0 M312.9,504.0 a1.6,1.6 0 1,0 3.2,0 a1.6,1.6 0 1,0 -3.2,0 M314.2,507.2 a1.6,1.6 0 1,0 3.2,0 a1.6,1.6 0 1,0 -3.2,0 M315.5,508.4 a1.6,1.6 0 1,0 3.2,0 a1.6,1.6 0 1,0 -3.2,0 M316.8,506.8 a1.6,1.6 0 1,0 3.2,0 a1.6,1.6 0 1,0 -3.2,0 M318.1,510.6 a1.6,1.6 0 1,0 3.2,0 a1.6,1.6 0 1,0 -3.2,0 M319.5,510.8 a1.6,1.6 0 1,0 3.2,0 a1.6,1.6 0 1,0 -3.2,0 M320.8,506.3 a1.6,1.6 0 1,0 3.2,0 a1.6,1.6 0 1,0 -3.2,0 M322.1,508.2 a1.6,1.6 0 1,0 3.2,0 a1.6,1.6 0 1,0 -3.2,0 M323.4,506.7 a1.6,1.6 0 1,0 3.2,0 a1.6,1.6 0 1,0 -3.2,0 M324.7,499.6 a1.6,1.6 0 1,0 3.2,0 a1.6,1.6 0 1,0 -3.2,0 M326.0,505.0 a1.6,1.6 0 1,0 3.2,0 a1.6,1.6 0 1,0 -3.2,0 M327.4,506.3 a1.6,1.6 0 1,0 3.2,0 a1.6,1.6 0 1,0 -3.2,0 M328.7,506.6 a1.6,1.6 0 1,0 3.2,0 a1.6,1.6 0 1,0 -3.2,0 M330.0,506.7 a1.6,1.6 0 1,0 3.2,0 a1.6,1.6 0 1,0 -3.2,0 M331.3,505.2 a1.6,1.6 0 1,0 3.2,0 a1.6,1.6 0 1,0 -3.2,0 M332.6,507.7 a1.6,1.6 0 1,0 3.2,0 a1.6,1.6 0 1,0 -3.2,0 M333.9,499.6 a1.6,1.6 0 1,0 3.2,0 a1.6,1.6 0 1,0 -3.2,0 M335.2,506.8 a1.6,1.6 0 1,0 3.2,0 a1.6,1.6 0 1,0 -3.2,0 M336.6,508.3 a1.6,1.6 0 1,0 3.2,0 a1.6,1.6 0 1,0 -3.2,0 M337.9,504.6 a1.6,1.6 0 1,0 3.2,0 a1.6,1.6 0 1,0 -3.2,0 M339.2,502.1 a1.6,1.6 0 1,0 3.2,0 a1.6,1.6 0 1,0 -3.2,0 M340.5,507.1 a1.6,1.6 0 1,0 3.2,0 a1.6,1.6 0 1,0 -3.2,0 M341.8,509.0 a1.6,1.6 0 1,0 3.2,0 a1.6,1.6 0 1,0 -3.2,0 M343.1,499.3 a1.6,1.6 0 1,0 3.2,0 a1.6,1.6 0 1,0 -3.2,0 M344.5,513.6 a1.6,1.6 0 1,0 3.2,0 a1.6,1.6 0 1,0 -3.2,0 M345.8,505.0 a1.6,1.6 0 1,0 3.2,0 a1.6,1.6 0 1,0 -3.2,0 M347.1,503.0 a1.6,1.6 0 1,0 3.2,0 a1.6,1.6 0 1,0 -3.2,0 M348.4,500.7 a1.6,1.6 0 1,0 3.2,0 a1.6,1.6 0 1,0 -3.2,0 M349.7,510.5 a1.6,1.6 0 1,0 3.2,0 a1.6,1.6 0 1,0 -3.2,0 M351.0,513.5 a1.6,1.6 0 1,0 3.2,0 a1.6,1.6 0 1,0 -3.2,0 M352.4,503.9 a1.6,1.6 0 1,0 3.2,0 a1.6,1.6 0 1,0 -3.2,0 M353.7,507.6 a1.6,1.6 0 1,0 3.2,0 a1.6,1.6 0 1,0 -3.2,0 M355.0,507.2 a1.6,1.6 0 1,0 3.2,0 a1.6,1.6 0 1,0 -3.2,0 M356.3,507.9 a1.6,1.6 0 1,0 3.2,0 a1.6,1.6 0 1,0 -3.2,0 M357.6,507.5 a1.6,1.6 0 1,0 3.2,0 a1.6,1.6 0 1,0 -3.2,0 M358.9,504.1 a1.6,1.6 0 1,0 3.2,0 a1.6,1.6 0 1,0 -3.2,0 M360.3,507.6 a1.6,1.6 0 1,0 3.2,0 a1.6,1.6 0 1,0 -3.2,0 M361.6,505.0 a1.6,1.6 0 1,0 3.2,0 a1.6,1.6 0 1,0 -3.2,0 M362.9,503.6 a1.6,1.6 0 1,0 3.2,0 a1.6,1.6 0 1,0 -3.2,0 M364.2,508.5 a1.6,1.6 0 1,0 3.2,0 a1.6,1.6 0 1,0 -3.2,0 M365.5,509.3 a1.6,1.6 0 1,0 3.2,0 a1.6,1.6 0 1,0 -3.2,0 M366.8,503.1 a1.6,1.6 0 1,0 3.2,0 a1.6,1.6 0 1,0 -3.2,0 M368.1,505.6 a1.6,1.6 0 1,0 3.2,0 a1.6,1.6 0 1,0 -3.2,0 M369.5,508.1 a1.6,1.6 0 1,0 3.2,0 a1.6,1.6 0 1,0 -3.2,0 M370.8,507.7 a1.6,1.6 0 1,0 3.2,0 a1.6,1.6 0 1,0 -3.2,0 M372.1,505.7 a1.6,1.6 0 1,0 3.2,0 a1.6,1.6 0 1,0 -3.2,0 M373.4,507.8 a1.6,1.6 0 1,0 3.2,0 a1.6,1.6 0 1,0 -3.2,0 M374.7,504.5 a1.6,1.6 0 1,0 3.2,0 a1.6,1.6 0 1,0 -3.2,0 M376.0,507.1 a1.6,1.6 0 1,0 3.2,0 a1.6,1.6 0 1,0 -3.2,0 M377.4,508.1 a1.6,1.6 0 1,0 3.2,0 a1.6,1.6 0 1,0 -3.2,0 M378.7,505.0 a1.6,1.6 0 1,0 3.2,0 a1.6,1.6 0 1,0 -3.2,0 M380.0,512.0 a1.6,1.6 0 1,0 3.2,0 a1.6,1.6 0 1,0 -3.2,0 M381.3,501.8 a1.6,1.6 0 1,0 3.2,0 a1.6,1.6 0 1,0 -3.2,0 M382.6,504.1 a1.6,1.6 0 1,0 3.2,0 a1.6,1.6 0 1,0 -3.2,0 M383.9,511.5 a1.6,1.6 0 1,0 3.2,0 a1.6,1.6 0 1,0 -3.2,0 M385.3,503.4 a1.6,1.6 0 1,0 3.2,0 a1.6,1.6 0 1,0 -3.2,0 M386.6,507.2 a1.6,1.6 0 1,0 3.2,0 a1.6,1.6 0 1,0 -3.2,0 M387.9,508.5 a1.6,1.6 0 1,0 3.2,0 a1.6,1.6 0 1,0 -3.2,0 M389.2,504.8 a1.6,1.6 0 1,0 3.2,0 a1.6,1.6 0 1,0 -3.2,0 M390.5,498.8 a1.6,1.6 0 1,0 3.2,0 a1.6,1.6 0 1,0 -3.2,0 M391.8,505.3 a1.6,1.6 0 1,0 3.2,0 a1.6,1.6 0 1,0 -3.2,0 M393.2,504.7 a1.6,1.6 0 1,0 3.2,0 a1.6,1.6 0 1,0 -3.2,0 M394.5,502.1 a1.6,1.6 0 1,0 3.2,0 a1.6,1.6 0 1,0 -3.2,0 M395.8,507.5 a1.6,1.6 0 1,0 3.2,0 a1.6,1.6 0 1,0 -3.2,0 M397.1,506.8 a1.6,1.6 0 1,0 3.2,0 a1.6,1.6 0 1,0 -3.2,0 M398.4,505.9 a1.6,1.6 0 1,0 3.2,0 a1.6,1.6 0 1,0 -3.2,0 M399.7,508.2 a1.6,1.6 0 1,0 3.2,0 a1.6,1.6 0 1,0 -3.2,0 M401.0,507.9 a1.6,1.6 0 1,0 3.2,0 a1.6,1.6 0 1,0 -3.2,0 M402.4,504.6 a1.6,1.6 0 1,0 3.2,0 a1.6,1.6 0 1,0 -3.2,0 M403.7,503.9 a1.6,1.6 0 1,0 3.2,0 a1.6,1.6 0 1,0 -3.2,0 M405.0,503.8 a1.6,1.6 0 1,0 3.2,0 a1.6,1.6 0 1,0 -3.2,0 M406.3,509.8 a1.6,1.6 0 1,0 3.2,0 a1.6,1.6 0 1,0 -3.2,0 M407.6,498.7 a1.6,1.6 0 1,0 3.2,0 a1.6,1.6 0 1,0 -3.2,0 M408.9,505.7 a1.6,1.6 0 1,0 3.2,0 a1.6,1.6 0 1,0 -3.2,0 M410.3,505.3 a1.6,1.6 0 1,0 3.2,0 a1.6,1.6 0 1,0 -3.2,0 M411.6,507.2 a1.6,1.6 0 1,0 3.2,0 a1.6,1.6 0 1,0 -3.2,0 M412.9,511.6 a1.6,1.6 0 1,0 3.2,0 a1.6,1.6 0 1,0 -3.2,0 M414.2,511.5 a1.6,1.6 0 1,0 3.2,0 a1.6,1.6 0 1,0 -3.2,0 M415.5,509.7 a1.6,1.6 0 1,0 3.2,0 a1.6,1.6 0 1,0 -3.2,0 M416.8,503.0 a1.6,1.6 0 1,0 3.2,0 a1.6,1.6 0 1,0 -3.2,0 M418.2,509.7 a1.6,1.6 0 1,0 3.2,0 a1.6,1.6 0 1,0 -3.2,0 M419.5,508.5 a1.6,1.6 0 1,0 3.2,0 a1.6,1.6 0 1,0 -3.2,0 M420.8,509.0 a1.6,1.6 0 1,0 3.2,0 a1.6,1.6 0 1,0 -3.2,0 M422.1,506.6 a1.6,1.6 0 1,0 3.2,0 a1.6,1.6 0 1,0 -3.2,0 M423.4,506.6 a1.6,1.6 0 1,0 3.2,0 a1.6,1.6 0 1,0 -3.2,0 M424.7,507.5 a1.6,1.6 0 1,0 3.2,0 a1.6,1.6 0 1,0 -3.2,0 M426.1,509.4 a1.6,1.6 0 1,0 3.2,0 a1.6,1.6 0 1,0 -3.2,0 M427.4,515.3 a1.6,1.6 0 1,0 3.2,0 a1.6,1.6 0 1,0 -3.2,0 M428.7,508.0 a1.6,1.6 0 1,0 3.2,0 a1.6,1.6 0 1,0 -3.2,0 M430.0,505.2 a1.6,1.6 0 1,0 3.2,0 a1.6,1.6 0 1,0 -3.2,0" fill="#e4572e"/>
<path d="M301.3,503.9 V517.2 M302.6,503.0 V518.1 M303.9,496.9 V511.1 M305.3,505.4 V518.4 M306.6,501.3 V512.5 M307.9,505.5 V521.4 M309.2,497.9 V509.6 M310.5,498.6 V514.6 M311.8,497.1 V510.9 M313.2,501.6 V515.4 M314.5,499.2 V511.6 M315.8,501.0 V514.8 M317.1,503.0 V515.3 M318.4,498.8 V514.3 M319.7,503.5 V518.1 M321.1,500.7 V515.8 M322.4,497.5 V511.9 M323.7,499.9 V514.2 M325.0,502.5 V513.4 M326.3,495.1 V506.4 M327.6,499.6 V514.7 M329.0,503.1 V516.1 M330.3,498.0 V513.0 M331.6,501.4 V515.5 M332.9,502.2 V514.5 M334.2,501.9 V513.4 M335.5,494.4 V507.5 M336.8,500.8 V514.8 M338.2,500.0 V512.3 M339.5,498.6 V510.6 M340.8,494.1 V507.0 M342.1,498.9 V512.6 M343.4,500.0 V514.9 M344.7,492.2 V507.3 M346.1,502.3 V517.6 M347.4,500.2 V513.3 M348.7,497.3 V511.0 M350.0,494.5 V507.9 M351.3,504.0 V515.2 M352.6,508.0 V519.5 M354.0,496.3 V511.4 M355.3,501.8 V514.6 M356.6,501.6 V514.6 M357.9,497.7 V513.1 M359.2,500.0 V511.8 M360.5,497.4 V513.3 M361.9,501.2 V515.3 M363.2,497.8 V511.6 M364.5,494.6 V507.9 M365.8,501.2 V513.2 M367.1,499.4 V515.0 M368.4,498.2 V511.6 M369.7,499.8 V510.9 M371.1,502.7 V517.8 M372.4,502.5 V516.3 M373.7,498.3 V509.8 M375.0,501.5 V513.5 M376.3,501.0 V513.7 M377.6,500.7 V512.3 M379.0,498.2 V512.1 M380.3,499.7 V512.5 M381.6,505.0 V518.7 M382.9,495.5 V507.3 M384.2,499.0 V511.7 M385.5,501.9 V517.5 M386.9,497.9 V512.0 M388.2,498.7 V511.1 M389.5,499.4 V513.5 M390.8,496.4 V510.2 M392.1,492.0 V508.0 M393.4,498.4 V511.4 M394.8,496.2 V510.2 M396.1,494.3 V506.2 M397.4,501.7 V515.1 M398.7,501.8 V516.1 M400.0,499.0 V510.2 M401.3,505.9 V517.5 M402.6,500.2 V514.1 M404.0,497.6 V509.1 M405.3,498.3 V511.3 M406.6,498.8 V510.9 M407.9,506.4 V518.5 M409.2,493.8 V506.7 M410.5,498.0 V512.9 M411.9,497.1 V512.8 M413.2,498.1 V513.1 M414.5,503.5 V518.2 M415.8,502.2 V518.1 M417.1,502.5 V517.8 M418.4,493.3 V507.4 M419.8,503.3 V515.5 M421.1,501.5 V512.8 M422.4,499.9 V513.5 M423.7,499.6 V511.3 M425.0,498.1 V513.1 M426.3,500.5 V511.2 M427.7,503.8 V515.9 M429.0,507.0 V523.6 M430.3,500.2 V513.5 M431.6,499.4 V512.6" stroke="#3f5f9e" stroke-width="0.8" fill="none"/>
<path d="M300.0,503.9 h2.6 M300.0,517.2 h2.6 M301.3,503.0 h2.6 M301.3,518.1 h2.6 M302.6,496.9 h2.6 M302.6,511.1 h2.6 M304.0,505.4 h2.6 M304.0,518.4 h2.6 M305.3,501.3 h2.6 M305.3,512.5 h2.6 M306.6,505.5 h2.6 M306.6,521.4 h2.6 M307.9,497.9 h2.6 M307.9,509.6 h2.6 M309.2,498.6 h2.6 M309.2,514.6 h2.6 M310.5,497.1 h2.6 M310.5,510.9 h2.6 M311.9,501.6 h2.6 M311.9,515.4 h2.6 M313.2,499.2 h2.6 M313.2,511.6 h2.6 M314.5,501.0 h2.6 M314.5,514.8 h2.6 M315.8,503.0 h2.6 M315.8,515.3 h2.6 M317.1,498.8 h2.6 M317.1,514.3 h2.6 M318.4,503.5 h2.6 M318.4,518.1 h2.6 M319.8,500.7 h2.6 M319.8,515.8 h2.6 M321.1,497.5 h2.6 M321.1,511.9 h2.6 M322.4,499.9 h2.6 M322.4,514.2 h2.6 M323.7,502.5 h2.6 M323.7,513.4 h2.6 M325.0,495.1 h2.6 M325.0,506.4 h2.6 M326.3,499.6 h2.6 M326.3,514.7 h2.6 M327.7,503.1 h2.6 M327.7,516.1 h2.6 M329.0,498.0 h2.6 M329.0,513.0 h2.6 M330.3,501.4 h2.6 M330.3,515.5 h2.6 M331.6,502.2 h2.6 M331.6,514.5 h2.6 M332.9,501.9 h2.6 M332.9,513.4 h2.6 M334.2,494.4 h2.6 M334.2,507.5 h2.6 M335.5,500.8 h2.6 M335.5,514.8 h2.6 M336.9,500.0 h2.6 M336.9,512.3 h2.6 M338.2,498.6 h2.6 M338.2,510.6 h2.6 M339.5,494.1 h2.6 M339.5,507.0 h2.6 M340.8,498.9 h2.6 M340.8,512.6 h2.6 M342.1,500.0 h2.6 M342.1,514.9 h2.6 M343.4,492.2 h2.6 M343.4,507.3 h2.6 M344.8,502.3 h2.6 M344.8,517.6 h2.6 M346.1,500.2 h2.6 M346.1,513.3 h2.6 M347.4,497.3 h2.6 M347.4,511.0 h2.6 M348.7,494.5 h2.6 M348.7,507.9 h2.6 M350.0,504.0 h2.6 M350.0,515.2 h2.6 M351.3,508.0 h2.6 M351.3,519.5 h2.6 M352.7,496.3 h2.6 M352.7,511.4 h2.6 M354.0,501.8 h2.6 M354.0,514.6 h2.6 M355.3,501.6 h2.6 M355.3,514.6 h2.6 M356.6,497.7 h2.6 M356.6,513.1 h2.6 M357.9,500.0 h2.6 M357.9,511.8 h2.6 M359.2,497.4 h2.6 M359.2,513.3 h2.6 M360.6,501.2 h2.6 M360.6,515.3 h2.6 M361.9,497.8 h2.6 M361.9,511.6 h2.6 M363.2,494.6 h2.6 M363.2,507.9 h2.6 M364.5,501.2 h2.6 M364.5,513.2 h2.6 M365.8,499.4 h2.6 M365.8,515.0 h2.6 M367.1,498.2 h2.6 M367.1,511.6 h2.6 M368.4,499.8 h2.6 M368.4,510.9 h2.6 M369.8,502.7 h2.6 M369.8,517.8 h2.6 M371.1,502.5 h2.6 M371.1,516.3 h2.6 M372.4,498.3 h2.6 M372.4,509.8 h2.6 M373.7,501.5 h2.6 M373.7,513.5 h2.6 M375.0,501.0 h2.6 M375.0,513.7 h2.6 M376.3,500.7 h2.6 M376.3,512.3 h2.6 M377.7,498.2 h2.6 M377.7,512.1 h2.6 M379.0,499.7 h2.6 M379.0,512.5 h2.6 M380.3,505.0 h2.6 M380.3,518.7 h2.6 M381.6,495.5 h2.6 M381.6,507.3 h2.6 M382.9,499.0 h2.6 M382.9,511.7 h2.6 M384.2,501.9 h2.6 M384.2,517.5 h2.6 M385.6,497.9 h2.6 M385.6,512.0 h2.6 M386.9,498.7 h2.6 M386.9,511.1 h2.6 M388.2,499.4 h2.6 M388.2,513.5 h2.6 M389.5,496.4 h2.6 M389.5,510.2 h2.6 M390.8,492.0 h2.6 M390.8,508.0 h2.6 M392.1,498.4 h2.6 M392.1,511.4 h2.6 M393.5,496.2 h2.6 M393.5,510.2 h2.6 M394.8,494.3 h2.6 M394.8,506.2 h2.6 M396.1,501.7 h2.6 M396.1,515.1 h2.6 M397.4,501.8 h2.6 M397.4,516.1 h2.6 M398.7,499.0 h2.6 M398.7,510.2 h2.6 M400.0,505.9 h2.6 M400.0,517.5 h2.6 M401.3,500.2 h2.6 M401.3,514.1 h2.6 M402.7,497.6 h2.6 M402.7,509.1 h2.6 M404.0,498.3 h2.6 M404.0,511.3 h2.6 M405.3,498.8 h2.6 M405.3,510.9 h2.6 M406.6,506.4 h2.6 M406.6,518.5 h2.6 M407.9,493.8 h2.6 M407.9,506.7 h2.6 M409.2,498.0 h2.6 M409.2,512.9 h2.6 M410.6,497.1 h2.6 M410.6,512.8 h2.6 M411.9,498.1 h2.6 M411.9,513.1 h2.6 M413.2,503.5 h2.6 M413.2,518.2 h2.6 M414.5,502.2 h2.6 M414.5,518.1 h2.6 M415.8,502.5 h2.6 M415.8,517.8 h2.6 M417.1,493.3 h2.6 M417.1,507.4 h2.6 M418.5,503.3 h2.6 M418.5,515.5 h2.6 M419.8,501.5 h2.6 M419.8,512.8 h2.6 M421.1,499.9 h2.6 M421.1,513.5 h2.6 M422.4,499.6 h2.6 M422.4,511.3 h2.6 M423.7,498.1 h2.6 M423.7,513.1 h2.6 M425.0,500.5 h2.6 M425.0,511.2 h2.6 M426.4,503.8 h2.6 M426.4,515.9 h2.6 M427.7,507.0 h2.6 M427.7,523.6 h2.6 M429.0,500.2 h2.6 M429.0,513.5 h2.6 M430.3,499.4 h2.6 M430.3,512.6 h2.6" stroke="#1c3d8a" stroke-width="1.1" fill="none"/>
<path d="M301.3,510.0 L302.6,509.9 L303.9,504.8 L305.3,513.1 L306.6,507.1 L307.9,513.0 L309.2,503.6 L310.5,506.1 L311.8,502.9 L313.2,508.1 L314.5,505.5 L315.8,507.5 L317.1,508.7 L318.4,506.3 L319.7,510.2 L321.1,507.7 L322.4,504.7 L323.7,506.5 L325.0,507.8 L326.3,500.5 L327.6,506.5 L329.0,508.3 L330.3,506.2 L331.6,508.1 L332.9,507.7 L334.2,507.6 L335.5,501.0 L336.8,506.6 L338.2,506.2 L339.5,504.8 L340.8,501.0 L342.1,507.3 L343.4,508.4 L344.7,499.7 L346.1,510.8 L347.4,507.7 L348.7,504.8 L350.0,500.2 L351.3,509.3 L352.6,513.5 L354.0,504.8 L355.3,508.1 L356.6,507.7 L357.9,505.4 L359.2,506.0 L360.5,505.8 L361.9,507.9 L363.2,503.0 L364.5,502.4 L365.8,506.6 L367.1,507.9 L368.4,504.6 L369.7,505.3 L371.1,509.6 L372.4,508.0 L373.7,503.7 L375.0,506.9 L376.3,507.6 L377.6,506.1 L379.0,506.8 L380.3,506.7 L381.6,512.1 L382.9,501.7 L384.2,506.1 L385.5,509.1 L386.9,503.9 L388.2,505.8 L389.5,506.6 L390.8,503.7 L392.1,500.3 L393.4,505.1 L394.8,502.2 L396.1,500.6 L397.4,509.5 L398.7,508.1 L400.0,504.5 L401.3,511.5 L402.6,507.4 L404.0,503.0 L405.3,503.7 L406.6,505.0 L407.9,512.0 L409.2,500.1 L410.5,505.1 L411.9,504.5 L413.2,505.3 L414.5,511.5 L415.8,510.7 L417.1,510.1 L418.4,501.3 L419.8,509.0 L421.1,507.3 L422.4,507.4 L423.7,505.1 L425.0,505.3 L426.3,505.9 L427.7,510.2 L429.0,515.5 L430.3,506.2 L431.6,505.9" fill="none" stroke="#2a4f95" stroke-width="0.7"/>
<path d="M301.3,507.6 l2.2,3.8 h-4.4z M302.6,507.5 l2.2,3.8 h-4.4z M303.9,502.4 l2.2,3.8 h-4.4z M305.3,510.7 l2.2,3.8 h-4.4z M306.6,504.7 l2.2,3.8 h-4.4z M307.9,510.6 l2.2,3.8 h-4.4z M309.2,501.2 l2.2,3.8 h-4.4z M310.5,503.7 l2.2,3.8 h-4.4z M311.8,500.5 l2.2,3.8 h-4.4z M313.2,505.7 l2.2,3.8 h-4.4z M314.5,503.1 l2.2,3.8 h-4.4z M315.8,505.1 l2.2,3.8 h-4.4z M317.1,506.3 l2.2,3.8 h-4.4z M318.4,503.9 l2.2,3.8 h-4.4z M319.7,507.8 l2.2,3.8 h-4.4z M321.1,505.3 l2.2,3.8 h-4.4z M322.4,502.3 l2.2,3.8 h-4.4z M323.7,504.1 l2.2,3.8 h-4.4z M325.0,505.4 l2.2,3.8 h-4.4z M326.3,498.1 l2.2,3.8 h-4.4z M327.6,504.1 l2.2,3.8 h-4.4z M329.0,505.9 l2.2,3.8 h-4.4z M330.3,503.8 l2.2,3.8 h-4.4z M331.6,505.7 l2.2,3.8 h-4.4z M332.9,505.3 l2.2,3.8 h-4.4z M334.2,505.2 l2.2,3.8 h-4.4z M335.5,498.6 l2.2,3.8 h-4.4z M336.8,504.2 l2.2,3.8 h-4.4z M338.2,503.8 l2.2,3.8 h-4.4z M339.5,502.4 l2.2,3.8 h-4.4z M340.8,498.6 l2.2,3.8 h-4.4z M342.1,504.9 l2.2,3.8 h-4.4z M343.4,506.0 l2.2,3.8 h-4.4z M344.7,497.3 l2.2,3.8 h-4.4z M346.1,508.4 l2.2,3.8 h-4.4z M347.4,505.3 l2.2,3.8 h-4.4z M348.7,502.4 l2.2,3.8 h-4.4z M350.0,497.8 l2.2,3.8 h-4.4z M351.3,506.9 l2.2,3.8 h-4.4z M352.6,511.1 l2.2,3.8 h-4.4z M354.0,502.4 l2.2,3.8 h-4.4z M355.3,505.7 l2.2,3.8 h-4.4z M356.6,505.3 l2.2,3.8 h-4.4z M357.9,503.0 l2.2,3.8 h-4.4z M359.2,503.6 l2.2,3.8 h-4.4z M360.5,503.4 l2.2,3.8 h-4.4z M361.9,505.5 l2.2,3.8 h-4.4z M363.2,500.6 l2.2,3.8 h-4.4z M364.5,500.0 l2.2,3.8 h-4.4z M365.8,504.2 l2.2,3.8 h-4.4z M367.1,505.5 l2.2,3.8 h-4.4z M368.4,502.2 l2.2,3.8 h-4.4z M369.7,502.9 l2.2,3.8 h-4.4z M371.1,507.2 l2.2,3.8 h-4.4z M372.4,505.6 l2.2,3.8 h-4.4z M373.7,501.3 l2.2,3.8 h-4.4z M375.0,504.5 l2.2,3.8 h-4.4z M376.3,505.2 l2.2,3.8 h-4.4z M377.6,503.7 l2.2,3.8 h-4.4z M379.0,504.4 l2.2,3.8 h-4.4z M380.3,504.3 l2.2,3.8 h-4.4z M381.6,509.7 l2.2,3.8 h-4.4z M382.9,499.3 l2.2,3.8 h-4.4z M384.2,503.7 l2.2,3.8 h-4.4z M385.5,506.7 l2.2,3.8 h-4.4z M386.9,501.5 l2.2,3.8 h-4.4z M388.2,503.4 l2.2,3.8 h-4.4z M389.5,504.2 l2.2,3.8 h-4.4z M390.8,501.3 l2.2,3.8 h-4.4z M392.1,497.9 l2.2,3.8 h-4.4z M393.4,502.7 l2.2,3.8 h-4.4z M394.8,499.8 l2.2,3.8 h-4.4z M396.1,498.2 l2.2,3.8 h-4.4z M397.4,507.1 l2.2,3.8 h-4.4z M398.7,505.7 l2.2,3.8 h-4.4z M400.0,502.1 l2.2,3.8 h-4.4z M401.3,509.1 l2.2,3.8 h-4.4z M402.6,505.0 l2.2,3.8 h-4.4z M404.0,500.6 l2.2,3.8 h-4.4z M405.3,501.3 l2.2,3.8 h-4.4z M406.6,502.6 l2.2,3.8 h-4.4z M407.9,509.6 l2.2,3.8 h-4.4z M409.2,497.7 l2.2,3.8 h-4.4z M410.5,502.7 l2.2,3.8 h-4.4z M411.9,502.1 l2.2,3.8 h-4.4z M413.2,502.9 l2.2,3.8 h-4.4z M414.5,509.1 l2.2,3.8 h-4.4z M415.8,508.3 l2.2,3.8 h-4.4z M417.1,507.7 l2.2,3.8 h-4.4z M418.4,498.9 l2.2,3.8 h-4.4z M419.8,506.6 l2.2,3.8 h-4.4z M421.1,504.9 l2.2,3.8 h-4.4z M422.4,505.0 l2.2,3.8 h-4.4z M423.7,502.7 l2.2,3.8 h-4.4z M425.0,502.9 l2.2,3.8 h-4.4z M426.3,503.5 l2.2,3.8 h-4.4z M427.7,507.8 l2.2,3.8 h-4.4z M429.0,513.1 l2.2,3.8 h-4.4z M430.3,503.8 l2.2,3.8 h-4.4z M431.6,503.5 l2.2,3.8 h-4.4z" fill="#1c3d8a"/>
</g>
<rect x="300.00" y="433.30" width="131.60" height="131.00" fill="none" stroke="#262626" stroke-width="1.4"/>
<path d="M300.00,564.30 h3.2 M431.60,564.30 h-3.2 M300.00,558.67 h1.9 M431.60,558.67 h-1.9 M300.00,555.37 h1.9 M431.60,555.37 h-1.9 M300.00,553.03 h1.9 M431.60,553.03 h-1.9 M300.00,551.22 h1.9 M431.60,551.22 h-1.9 M300.00,549.74 h1.9 M431.60,549.74 h-1.9 M300.00,548.48 h1.9 M431.60,548.48 h-1.9 M300.00,547.40 h1.9 M431.60,547.40 h-1.9 M300.00,546.44 h1.9 M431.60,546.44 h-1.9 M300.00,545.59 h3.2 M431.60,545.59 h-3.2 M300.00,539.95 h1.9 M431.60,539.95 h-1.9 M300.00,536.66 h1.9 M431.60,536.66 h-1.9 M300.00,534.32 h1.9 M431.60,534.32 h-1.9 M300.00,532.50 h1.9 M431.60,532.50 h-1.9 M300.00,531.02 h1.9 M431.60,531.02 h-1.9 M300.00,529.77 h1.9 M431.60,529.77 h-1.9 M300.00,528.69 h1.9 M431.60,528.69 h-1.9 M300.00,527.73 h1.9 M431.60,527.73 h-1.9 M300.00,526.87 h3.2 M431.60,526.87 h-3.2 M300.00,521.24 h1.9 M431.60,521.24 h-1.9 M300.00,517.94 h1.9 M431.60,517.94 h-1.9 M300.00,515.60 h1.9 M431.60,515.60 h-1.9 M300.00,513.79 h1.9 M431.60,513.79 h-1.9 M300.00,512.31 h1.9 M431.60,512.31 h-1.9 M300.00,511.06 h1.9 M431.60,511.06 h-1.9 M300.00,509.97 h1.9 M431.60,509.97 h-1.9 M300.00,509.01 h1.9 M431.60,509.01 h-1.9 M300.00,508.16 h3.2 M431.60,508.16 h-3.2 M300.00,502.52 h1.9 M431.60,502.52 h-1.9 M300.00,499.23 h1.9 M431.60,499.23 h-1.9 M300.00,496.89 h1.9 M431.60,496.89 h-1.9 M300.00,495.08 h1.9 M431.60,495.08 h-1.9 M300.00,493.59 h1.9 M431.60,493.59 h-1.9 M300.00,492.34 h1.9 M431.60,492.34 h-1.9 M300.00,491.26 h1.9 M431.60,491.26 h-1.9 M300.00,490.30 h1.9 M431.60,490.30 h-1.9 M300.00,489.44 h3.2 M431.60,489.44 h-3.2 M300.00,483.81 h1.9 M431.60,483.81 h-1.9 M300.00,480.51 h1.9 M431.60,480.51 h-1.9 M300.00,478.18 h1.9 M431.60,478.18 h-1.9 M300.00,476.36 h1.9 M431.60,476.36 h-1.9 M300.00,474.88 h1.9 M431.60,474.88 h-1.9 M300.00,473.63 h1.9 M431.60,473.63 h-1.9 M300.00,472.54 h1.9 M431.60,472.54 h-1.9 M300.00,471.58 h1.9 M431.60,471.58 h-1.9 M300.00,470.73 h3.2 M431.60,470.73 h-3.2 M300.00,465.10 h1.9 M431.60,465.10 h-1.9 M300.00,461.80 h1.9 M431.60,461.80 h-1.9 M300.00,459.46 h1.9 M431.60,459.46 h-1.9 M300.00,457.65 h1.9 M431.60,457.65 h-1.9 M300.00,456.17 h1.9 M431.60,456.17 h-1.9 M300.00,454.91 h1.9 M431.60,454.91 h-1.9 M300.00,453.83 h1.9 M431.60,453.83 h-1.9 M300.00,452.87 h1.9 M431.60,452.87 h-1.9 M300.00,452.01 h3.2 M431.60,452.01 h-3.2 M300.00,446.38 h1.9 M431.60,446.38 h-1.9 M300.00,443.09 h1.9 M431.60,443.09 h-1.9 M300.00,440.75 h1.9 M431.60,440.75 h-1.9 M300.00,438.93 h1.9 M431.60,438.93 h-1.9 M300.00,437.45 h1.9 M431.60,437.45 h-1.9 M300.00,436.20 h1.9 M431.60,436.20 h-1.9 M300.00,435.11 h1.9 M431.60,435.11 h-1.9 M300.00,434.16 h1.9 M431.60,434.16 h-1.9 M300.00,433.30 h3.2 M431.60,433.30 h-3.2 M300.00,564.30 v-3 M300.00,433.30 v3 M326.32,564.30 v-3 M326.32,433.30 v3 M352.64,564.30 v-3 M352.64,433.30 v3 M378.96,564.30 v-3 M378.96,433.30 v3 M405.28,564.30 v-3 M405.28,433.30 v3 M431.60,564.30 v-3 M431.60,433.30 v3" stroke="#262626" stroke-width="1" fill="none"/>
<text transform="translate(295.20,442.10) scale(1.0,1.06)" font-size="18.6" text-anchor="end">10<tspan font-size="13.2" dy="-6.6">4</tspan></text>
<text transform="translate(295.20,479.53) scale(1.0,1.06)" font-size="18.6" text-anchor="end">10<tspan font-size="13.2" dy="-6.6">2</tspan></text>
<text transform="translate(295.20,516.96) scale(1.0,1.06)" font-size="18.6" text-anchor="end">10<tspan font-size="13.2" dy="-6.6">0</tspan></text>
<text transform="translate(295.20,554.39) scale(1.0,1.06)" font-size="18.6" text-anchor="end">10<tspan font-size="13.2" dy="-6.6">-2</tspan></text>
<text transform="translate(300.20,582.00) scale(1.0,1.06)" font-size="18.6" text-anchor="middle">0</text>
<text transform="translate(325.02,582.00) scale(1.0,1.06)" font-size="18.6" text-anchor="middle">20</text>
<text transform="translate(351.04,582.00) scale(1.0,1.06)" font-size="18.6" text-anchor="middle">40</text>
<text transform="translate(376.36,582.00) scale(1.0,1.06)" font-size="18.6" text-anchor="middle">60</text>
<text transform="translate(404.08,582.00) scale(1.0,1.06)" font-size="18.6" text-anchor="middle">80</text>
<text transform="translate(435.10,582.00) scale(1.0,1.06)" font-size="18.6" text-anchor="middle">100</text>
<g clip-path="url(#ci)">
<path d="M536.3,499.7 V514.7 M537.6,497.3 V511.1 M538.9,493.1 V538.6 M540.3,493.5 V530.4 M541.6,493.4 V509.6 M542.9,497.2 V512.8 M544.2,495.4 V513.0 M545.5,498.9 V517.4 M546.8,502.2 V516.1 M548.1,495.1 V510.9 M549.5,496.9 V510.6 M550.8,497.7 V510.8 M552.1,496.5 V515.3 M553.4,501.4 V517.5 M554.7,498.5 V514.2 M556.0,500.0 V515.7 M557.3,498.0 V512.1 M558.7,498.2 V513.0 M560.0,500.2 V517.3 M561.3,498.4 V511.2 M562.6,502.5 V517.8 M563.9,496.9 V513.0 M565.2,501.0 V516.1 M566.5,495.3 V508.8 M567.9,494.3 V510.4 M569.2,495.3 V513.6 M570.5,498.5 V517.0 M571.8,499.8 V518.2 M573.1,503.1 V519.0 M574.4,500.3 V514.6 M575.7,498.6 V514.7 M577.0,494.0 V510.4 M578.4,500.7 V515.1 M579.7,492.6 V507.5 M581.0,494.2 V510.5 M582.3,491.8 V506.3 M583.6,497.9 V512.7 M584.9,498.9 V513.7 M586.2,501.8 V517.2 M587.6,495.9 V511.0 M588.9,495.0 V510.6 M590.2,498.3 V514.3 M591.5,494.7 V512.6 M592.8,500.3 V515.8 M594.1,500.3 V515.6 M595.4,500.9 V515.1 M596.8,501.5 V518.4 M598.1,501.0 V517.3 M599.4,498.8 V513.2 M600.7,498.0 V513.7 M602.0,496.7 V511.1 M603.3,494.6 V510.2 M604.6,498.1 V511.1 M606.0,499.5 V512.8 M607.3,503.2 V521.7 M608.6,499.0 V514.9 M609.9,499.9 V517.0 M611.2,495.6 V510.8 M612.5,501.2 V515.7 M613.8,498.9 V513.7 M615.2,499.9 V514.9 M616.5,498.1 V515.3 M617.8,506.7 V521.4 M619.1,502.7 V516.7 M620.4,496.5 V544.4 M621.7,496.4 V514.4 M623.0,496.4 V510.2 M624.4,497.7 V513.9 M625.7,498.4 V512.7 M627.0,489.2 V505.3 M628.3,497.7 V514.0 M629.6,499.8 V515.4 M630.9,498.7 V514.3 M632.2,507.0 V522.0 M633.5,499.5 V513.1 M634.9,493.5 V510.7 M636.2,496.6 V510.4 M637.5,495.3 V511.5 M638.8,498.3 V516.9 M640.1,501.6 V519.5 M641.4,499.6 V513.9 M642.7,501.0 V517.4 M644.1,503.0 V519.0 M645.4,492.4 V509.9 M646.7,497.7 V516.4 M648.0,499.6 V513.4 M649.3,506.5 V524.4 M650.6,491.7 V507.9 M651.9,496.7 V514.0 M653.3,495.2 V511.6 M654.6,498.4 V514.6 M655.9,501.2 V516.7 M657.2,500.7 V515.7 M658.5,498.0 V514.1 M659.8,502.7 V516.5 M661.1,498.3 V512.1 M662.5,494.8 V511.4 M663.8,498.3 V514.0 M665.1,493.9 V507.3 M666.4,495.2 V510.2" stroke="#e4572e" stroke-width="0.8" fill="none"/>
<path d="M535.0,499.7 h2.6 M535.0,514.7 h2.6 M536.3,497.3 h2.6 M536.3,511.1 h2.6 M537.6,493.1 h2.6 M537.6,538.6 h2.6 M539.0,493.5 h2.6 M539.0,530.4 h2.6 M540.3,493.4 h2.6 M540.3,509.6 h2.6 M541.6,497.2 h2.6 M541.6,512.8 h2.6 M542.9,495.4 h2.6 M542.9,513.0 h2.6 M544.2,498.9 h2.6 M544.2,517.4 h2.6 M545.5,502.2 h2.6 M545.5,516.1 h2.6 M546.8,495.1 h2.6 M546.8,510.9 h2.6 M548.2,496.9 h2.6 M548.2,510.6 h2.6 M549.5,497.7 h2.6 M549.5,510.8 h2.6 M550.8,496.5 h2.6 M550.8,515.3 h2.6 M552.1,501.4 h2.6 M552.1,517.5 h2.6 M553.4,498.5 h2.6 M553.4,514.2 h2.6 M554.7,500.0 h2.6 M554.7,515.7 h2.6 M556.0,498.0 h2.6 M556.0,512.1 h2.6 M557.4,498.2 h2.6 M557.4,513.0 h2.6 M558.7,500.2 h2.6 M558.7,517.3 h2.6 M560.0,498.4 h2.6 M560.0,511.2 h2.6 M561.3,502.5 h2.6 M561.3,517.8 h2.6 M562.6,496.9 h2.6 M562.6,513.0 h2.6 M563.9,501.0 h2.6 M563.9,516.1 h2.6 M565.2,495.3 h2.6 M565.2,508.8 h2.6 M566.6,494.3 h2.6 M566.6,510.4 h2.6 M567.9,495.3 h2.6 M567.9,513.6 h2.6 M569.2,498.5 h2.6 M569.2,517.0 h2.6 M570.5,499.8 h2.6 M570.5,518.2 h2.6 M571.8,503.1 h2.6 M571.8,519.0 h2.6 M573.1,500.3 h2.6 M573.1,514.6 h2.6 M574.4,498.6 h2.6 M574.4,514.7 h2.6 M575.7,494.0 h2.6 M575.7,510.4 h2.6 M577.1,500.7 h2.6 M577.1,515.1 h2.6 M578.4,492.6 h2.6 M578.4,507.5 h2.6 M579.7,494.2 h2.6 M579.7,510.5 h2.6 M581.0,491.8 h2.6 M581.0,506.3 h2.6 M582.3,497.9 h2.6 M582.3,512.7 h2.6 M583.6,498.9 h2.6 M583.6,513.7 h2.6 M584.9,501.8 h2.6 M584.9,517.2 h2.6 M586.3,495.9 h2.6 M586.3,511.0 h2.6 M587.6,495.0 h2.6 M587.6,510.6 h2.6 M588.9,498.3 h2.6 M588.9,514.3 h2.6 M590.2,494.7 h2.6 M590.2,512.6 h2.6 M591.5,500.3 h2.6 M591.5,515.8 h2.6 M592.8,500.3 h2.6 M592.8,515.6 h2.6 M594.1,500.9 h2.6 M594.1,515.1 h2.6 M595.5,501.5 h2.6 M595.5,518.4 h2.6 M596.8,501.0 h2.6 M596.8,517.3 h2.6 M598.1,498.8 h2.6 M598.1,513.2 h2.6 M599.4,498.0 h2.6 M599.4,513.7 h2.6 M600.7,496.7 h2.6 M600.7,511.1 h2.6 M602.0,494.6 h2.6 M602.0,510.2 h2.6 M603.3,498.1 h2.6 M603.3,511.1 h2.6 M604.7,499.5 h2.6 M604.7,512.8 h2.6 M606.0,503.2 h2.6 M606.0,521.7 h2.6 M607.3,499.0 h2.6 M607.3,514.9 h2.6 M608.6,499.9 h2.6 M608.6,517.0 h2.6 M609.9,495.6 h2.6 M609.9,510.8 h2.6 M611.2,501.2 h2.6 M611.2,515.7 h2.6 M612.5,498.9 h2.6 M612.5,513.7 h2.6 M613.9,499.9 h2.6 M613.9,514.9 h2.6 M615.2,498.1 h2.6 M615.2,515.3 h2.6 M616.5,506.7 h2.6 M616.5,521.4 h2.6 M617.8,502.7 h2.6 M617.8,516.7 h2.6 M619.1,496.5 h2.6 M619.1,544.4 h2.6 M620.4,496.4 h2.6 M620.4,514.4 h2.6 M621.7,496.4 h2.6 M621.7,510.2 h2.6 M623.1,497.7 h2.6 M623.1,513.9 h2.6 M624.4,498.4 h2.6 M624.4,512.7 h2.6 M625.7,489.2 h2.6 M625.7,505.3 h2.6 M627.0,497.7 h2.6 M627.0,514.0 h2.6 M628.3,499.8 h2.6 M628.3,515.4 h2.6 M629.6,498.7 h2.6 M629.6,514.3 h2.6 M630.9,507.0 h2.6 M630.9,522.0 h2.6 M632.2,499.5 h2.6 M632.2,513.1 h2.6 M633.6,493.5 h2.6 M633.6,510.7 h2.6 M634.9,496.6 h2.6 M634.9,510.4 h2.6 M636.2,495.3 h2.6 M636.2,511.5 h2.6 M637.5,498.3 h2.6 M637.5,516.9 h2.6 M638.8,501.6 h2.6 M638.8,519.5 h2.6 M640.1,499.6 h2.6 M640.1,513.9 h2.6 M641.4,501.0 h2.6 M641.4,517.4 h2.6 M642.8,503.0 h2.6 M642.8,519.0 h2.6 M644.1,492.4 h2.6 M644.1,509.9 h2.6 M645.4,497.7 h2.6 M645.4,516.4 h2.6 M646.7,499.6 h2.6 M646.7,513.4 h2.6 M648.0,506.5 h2.6 M648.0,524.4 h2.6 M649.3,491.7 h2.6 M649.3,507.9 h2.6 M650.6,496.7 h2.6 M650.6,514.0 h2.6 M652.0,495.2 h2.6 M652.0,511.6 h2.6 M653.3,498.4 h2.6 M653.3,514.6 h2.6 M654.6,501.2 h2.6 M654.6,516.7 h2.6 M655.9,500.7 h2.6 M655.9,515.7 h2.6 M657.2,498.0 h2.6 M657.2,514.1 h2.6 M658.5,502.7 h2.6 M658.5,516.5 h2.6 M659.8,498.3 h2.6 M659.8,512.1 h2.6 M661.2,494.8 h2.6 M661.2,511.4 h2.6 M662.5,498.3 h2.6 M662.5,514.0 h2.6 M663.8,493.9 h2.6 M663.8,507.3 h2.6 M665.1,495.2 h2.6 M665.1,510.2 h2.6" stroke="#e4572e" stroke-width="1.1" fill="none"/>
<path d="M536.3,506.5 L537.6,504.7 L538.9,501.1 L540.3,502.3 L541.6,502.3 L542.9,506.6 L544.2,504.8 L545.5,507.9 L546.8,509.5 L548.1,503.9 L549.5,503.8 L550.8,504.2 L552.1,506.0 L553.4,510.1 L554.7,506.5 L556.0,508.3 L557.3,505.1 L558.7,505.1 L560.0,509.6 L561.3,504.9 L562.6,508.9 L563.9,505.9 L565.2,507.9 L566.5,502.4 L567.9,503.2 L569.2,504.2 L570.5,507.8 L571.8,509.1 L573.1,509.6 L574.4,507.3 L575.7,506.4 L577.0,503.0 L578.4,507.6 L579.7,500.4 L581.0,502.3 L582.3,498.6 L583.6,505.2 L584.9,507.0 L586.2,510.4 L587.6,502.6 L588.9,502.3 L590.2,506.6 L591.5,503.9 L592.8,507.2 L594.1,507.6 L595.4,508.9 L596.8,510.6 L598.1,510.0 L599.4,505.3 L600.7,505.1 L602.0,503.1 L603.3,503.9 L604.6,504.8 L606.0,506.0 L607.3,512.8 L608.6,506.5 L609.9,507.8 L611.2,504.2 L612.5,508.3 L613.8,506.4 L615.2,508.1 L616.5,506.2 L617.8,515.2 L619.1,510.5 L620.4,505.0 L621.7,505.1 L623.0,503.1 L624.4,506.2 L625.7,505.7 L627.0,496.5 L628.3,505.8 L629.6,506.0 L630.9,507.5 L632.2,513.6 L633.5,506.4 L634.9,502.7 L636.2,503.5 L637.5,503.0 L638.8,507.8 L640.1,510.2 L641.4,506.0 L642.7,508.5 L644.1,511.3 L645.4,500.4 L646.7,507.1 L648.0,507.0 L649.3,515.3 L650.6,498.5 L651.9,506.0 L653.3,503.6 L654.6,505.1 L655.9,510.3 L657.2,507.5 L658.5,505.1 L659.8,509.9 L661.1,505.8 L662.5,502.5 L663.8,504.6 L665.1,500.6 L666.4,502.0" fill="none" stroke="#e4572e" stroke-width="0.5"/>
<path d="M534.7,506.5 a1.6,1.6 0 1,0 3.2,0 a1.6,1.6 0 1,0 -3.2,0 M536.0,504.7 a1.6,1.6 0 1,0 3.2,0 a1.6,1.6 0 1,0 -3.2,0 M537.3,501.1 a1.6,1.6 0 1,0 3.2,0 a1.6,1.6 0 1,0 -3.2,0 M538.7,502.3 a1.6,1.6 0 1,0 3.2,0 a1.6,1.6 0 1,0 -3.2,0 M540.0,502.3 a1.6,1.6 0 1,0 3.2,0 a1.6,1.6 0 1,0 -3.2,0 M541.3,506.6 a1.6,1.6 0 1,0 3.2,0 a1.6,1.6 0 1,0 -3.2,0 M542.6,504.8 a1.6,1.6 0 1,0 3.2,0 a1.6,1.6 0 1,0 -3.2,0 M543.9,507.9 a1.6,1.6 0 1,0 3.2,0 a1.6,1.6 0 1,0 -3.2,0 M545.2,509.5 a1.6,1.6 0 1,0 3.2,0 a1.6,1.6 0 1,0 -3.2,0 M546.5,503.9 a1.6,1.6 0 1,0 3.2,0 a1.6,1.6 0 1,0 -3.2,0 M547.9,503.8 a1.6,1.6 0 1,0 3.2,0 a1.6,1.6 0 1,0 -3.2,0 M549.2,504.2 a1.6,1.6 0 1,0 3.2,0 a1.6,1.6 0 1,0 -3.2,0 M550.5,506.0 a1.6,1.6 0 1,0 3.2,0 a1.6,1.6 0 1,0 -3.2,0 M551.8,510.1 a1.6,1.6 0 1,0 3.2,0 a1.6,1.6 0 1,0 -3.2,0 M553.1,506.5 a1.6,1.6 0 1,0 3.2,0 a1.6,1.6 0 1,0 -3.2,0 M554.4,508.3 a1.6,1.6 0 1,0 3.2,0 a1.6,1.6 0 1,0 -3.2,0 M555.7,505.1 a1.6,1.6 0 1,0 3.2,0 a1.6,1.6 0 1,0 -3.2,0 M557.1,505.1 a1.6,1.6 0 1,0 3.2,0 a1.6,1.6 0 1,0 -3.2,0 M558.4,509.6 a1.6,1.6 0 1,0 3.2,0 a1.6,1.6 0 1,0 -3.2,0 M559.7,504.9 a1.6,1.6 0 1,0 3.2,0 a1.6,1.6 0 1,0 -3.2,0 M561.0,508.9 a1.6,1.6 0 1,0 3.2,0 a1.6,1.6 0 1,0 -3.2,0 M562.3,505.9 a1.6,1.6 0 1,0 3.2,0 a1.6,1.6 0 1,0 -3.2,0 M563.6,507.9 a1.6,1.6 0 1,0 3.2,0 a1.6,1.6 0 1,0 -3.2,0 M564.9,502.4 a1.6,1.6 0 1,0 3.2,0 a1.6,1.6 0 1,0 -3.2,0 M566.2,503.2 a1.6,1.6 0 1,0 3.2,0 a1.6,1.6 0 1,0 -3.2,0 M567.6,504.2 a1.6,1.6 0 1,0 3.2,0 a1.6,1.6 0 1,0 -3.2,0 M568.9,507.8 a1.6,1.6 0 1,0 3.2,0 a1.6,1.6 0 1,0 -3.2,0 M570.2,509.1 a1.6,1.6 0 1,0 3.2,0 a1.6,1.6 0 1,0 -3.2,0 M571.5,509.6 a1.6,1.6 0 1,0 3.2,0 a1.6,1.6 0 1,0 -3.2,0 M572.8,507.3 a1.6,1.6 0 1,0 3.2,0 a1.6,1.6 0 1,0 -3.2,0 M574.1,506.4 a1.6,1.6 0 1,0 3.2,0 a1.6,1.6 0 1,0 -3.2,0 M575.4,503.0 a1.6,1.6 0 1,0 3.2,0 a1.6,1.6 0 1,0 -3.2,0 M576.8,507.6 a1.6,1.6 0 1,0 3.2,0 a1.6,1.6 0 1,0 -3.2,0 M578.1,500.4 a1.6,1.6 0 1,0 3.2,0 a1.6,1.6 0 1,0 -3.2,0 M579.4,502.3 a1.6,1.6 0 1,0 3.2,0 a1.6,1.6 0 1,0 -3.2,0 M580.7,498.6 a1.6,1.6 0 1,0 3.2,0 a1.6,1.6 0 1,0 -3.2,0 M582.0,505.2 a1.6,1.6 0 1,0 3.2,0 a1.6,1.6 0 1,0 -3.2,0 M583.3,507.0 a1.6,1.6 0 1,0 3.2,0 a1.6,1.6 0 1,0 -3.2,0 M584.6,510.4 a1.6,1.6 0 1,0 3.2,0 a1.6,1.6 0 1,0 -3.2,0 M586.0,502.6 a1.6,1.6 0 1,0 3.2,0 a1.6,1.6 0 1,0 -3.2,0 M587.3,502.3 a1.6,1.6 0 1,0 3.2,0 a1.6,1.6 0 1,0 -3.2,0 M588.6,506.6 a1.6,1.6 0 1,0 3.2,0 a1.6,1.6 0 1,0 -3.2,0 M589.9,503.9 a1.6,1.6 0 1,0 3.2,0 a1.6,1.6 0 1,0 -3.2,0 M591.2,507.2 a1.6,1.6 0 1,0 3.2,0 a1.6,1.6 0 1,0 -3.2,0 M592.5,507.6 a1.6,1.6 0 1,0 3.2,0 a1.6,1.6 0 1,0 -3.2,0 M593.8,508.9 a1.6,1.6 0 1,0 3.2,0 a1.6,1.6 0 1,0 -3.2,0 M595.2,510.6 a1.6,1.6 0 1,0 3.2,0 a1.6,1.6 0 1,0 -3.2,0 M596.5,510.0 a1.6,1.6 0 1,0 3.2,0 a1.6,1.6 0 1,0 -3.2,0 M597.8,505.3 a1.6,1.6 0 1,0 3.2,0 a1.6,1.6 0 1,0 -3.2,0 M599.1,505.1 a1.6,1.6 0 1,0 3.2,0 a1.6,1.6 0 1,0 -3.2,0 M600.4,503.1 a1.6,1.6 0 1,0 3.2,0 a1.6,1.6 0 1,0 -3.2,0 M601.7,503.9 a1.6,1.6 0 1,0 3.2,0 a1.6,1.6 0 1,0 -3.2,0 M603.0,504.8 a1.6,1.6 0 1,0 3.2,0 a1.6,1.6 0 1,0 -3.2,0 M604.4,506.0 a1.6,1.6 0 1,0 3.2,0 a1.6,1.6 0 1,0 -3.2,0 M605.7,512.8 a1.6,1.6 0 1,0 3.2,0 a1.6,1.6 0 1,0 -3.2,0 M607.0,506.5 a1.6,1.6 0 1,0 3.2,0 a1.6,1.6 0 1,0 -3.2,0 M608.3,507.8 a1.6,1.6 0 1,0 3.2,0 a1.6,1.6 0 1,0 -3.2,0 M609.6,504.2 a1.6,1.6 0 1,0 3.2,0 a1.6,1.6 0 1,0 -3.2,0 M610.9,508.3 a1.6,1.6 0 1,0 3.2,0 a1.6,1.6 0 1,0 -3.2,0 M612.2,506.4 a1.6,1.6 0 1,0 3.2,0 a1.6,1.6 0 1,0 -3.2,0 M613.6,508.1 a1.6,1.6 0 1,0 3.2,0 a1.6,1.6 0 1,0 -3.2,0 M614.9,506.2 a1.6,1.6 0 1,0 3.2,0 a1.6,1.6 0 1,0 -3.2,0 M616.2,515.2 a1.6,1.6 0 1,0 3.2,0 a1.6,1.6 0 1,0 -3.2,0 M617.5,510.5 a1.6,1.6 0 1,0 3.2,0 a1.6,1.6 0 1,0 -3.2,0 M618.8,505.0 a1.6,1.6 0 1,0 3.2,0 a1.6,1.6 0 1,0 -3.2,0 M620.1,505.1 a1.6,1.6 0 1,0 3.2,0 a1.6,1.6 0 1,0 -3.2,0 M621.4,503.1 a1.6,1.6 0 1,0 3.2,0 a1.6,1.6 0 1,0 -3.2,0 M622.8,506.2 a1.6,1.6 0 1,0 3.2,0 a1.6,1.6 0 1,0 -3.2,0 M624.1,505.7 a1.6,1.6 0 1,0 3.2,0 a1.6,1.6 0 1,0 -3.2,0 M625.4,496.5 a1.6,1.6 0 1,0 3.2,0 a1.6,1.6 0 1,0 -3.2,0 M626.7,505.8 a1.6,1.6 0 1,0 3.2,0 a1.6,1.6 0 1,0 -3.2,0 M628.0,506.0 a1.6,1.6 0 1,0 3.2,0 a1.6,1.6 0 1,0 -3.2,0 M629.3,507.5 a1.6,1.6 0 1,0 3.2,0 a1.6,1.6 0 1,0 -3.2,0 M630.6,513.6 a1.6,1.6 0 1,0 3.2,0 a1.6,1.6 0 1,0 -3.2,0 M631.9,506.4 a1.6,1.6 0 1,0 3.2,0 a1.6,1.6 0 1,0 -3.2,0 M633.3,502.7 a1.6,1.6 0 1,0 3.2,0 a1.6,1.6 0 1,0 -3.2,0 M634.6,503.5 a1.6,1.6 0 1,0 3.2,0 a1.6,1.6 0 1,0 -3.2,0 M635.9,503.0 a1.6,1.6 0 1,0 3.2,0 a1.6,1.6 0 1,0 -3.2,0 M637.2,507.8 a1.6,1.6 0 1,0 3.2,0 a1.6,1.6 0 1,0 -3.2,0 M638.5,510.2 a1.6,1.6 0 1,0 3.2,0 a1.6,1.6 0 1,0 -3.2,0 M639.8,506.0 a1.6,1.6 0 1,0 3.2,0 a1.6,1.6 0 1,0 -3.2,0 M641.1,508.5 a1.6,1.6 0 1,0 3.2,0 a1.6,1.6 0 1,0 -3.2,0 M642.5,511.3 a1.6,1.6 0 1,0 3.2,0 a1.6,1.6 0 1,0 -3.2,0 M643.8,500.4 a1.6,1.6 0 1,0 3.2,0 a1.6,1.6 0 1,0 -3.2,0 M645.1,507.1 a1.6,1.6 0 1,0 3.2,0 a1.6,1.6 0 1,0 -3.2,0 M646.4,507.0 a1.6,1.6 0 1,0 3.2,0 a1.6,1.6 0 1,0 -3.2,0 M647.7,515.3 a1.6,1.6 0 1,0 3.2,0 a1.6,1.6 0 1,0 -3.2,0 M649.0,498.5 a1.6,1.6 0 1,0 3.2,0 a1.6,1.6 0 1,0 -3.2,0 M650.3,506.0 a1.6,1.6 0 1,0 3.2,0 a1.6,1.6 0 1,0 -3.2,0 M651.7,503.6 a1.6,1.6 0 1,0 3.2,0 a1.6,1.6 0 1,0 -3.2,0 M653.0,505.1 a1.6,1.6 0 1,0 3.2,0 a1.6,1.6 0 1,0 -3.2,0 M654.3,510.3 a1.6,1.6 0 1,0 3.2,0 a1.6,1.6 0 1,0 -3.2,0 M655.6,507.5 a1.6,1.6 0 1,0 3.2,0 a1.6,1.6 0 1,0 -3.2,0 M656.9,505.1 a1.6,1.6 0 1,0 3.2,0 a1.6,1.6 0 1,0 -3.2,0 M658.2,509.9 a1.6,1.6 0 1,0 3.2,0 a1.6,1.6 0 1,0 -3.2,0 M659.5,505.8 a1.6,1.6 0 1,0 3.2,0 a1.6,1.6 0 1,0 -3.2,0 M660.9,502.5 a1.6,1.6 0 1,0 3.2,0 a1.6,1.6 0 1,0 -3.2,0 M662.2,504.6 a1.6,1.6 0 1,0 3.2,0 a1.6,1.6 0 1,0 -3.2,0 M663.5,500.6 a1.6,1.6 0 1,0 3.2,0 a1.6,1.6 0 1,0 -3.2,0 M664.8,502.0 a1.6,1.6 0 1,0 3.2,0 a1.6,1.6 0 1,0 -3.2,0" fill="#e4572e"/>
<path d="M536.3,501.8 V516.3 M537.6,497.0 V512.3 M538.9,493.3 V509.6 M540.3,494.4 V506.6 M541.6,495.4 V510.5 M542.9,498.7 V511.8 M544.2,496.6 V510.6 M545.5,501.0 V513.9 M546.8,502.9 V518.4 M548.1,499.9 V529.7 M549.5,496.3 V511.2 M550.8,499.1 V510.3 M552.1,499.7 V512.2 M553.4,501.0 V515.4 M554.7,500.8 V512.0 M556.0,501.9 V514.4 M557.3,499.6 V512.0 M558.7,496.8 V510.1 M560.0,506.5 V521.4 M561.3,499.7 V513.5 M562.6,503.3 V518.7 M563.9,501.0 V514.1 M565.2,504.3 V515.7 M566.5,494.2 V528.5 M567.9,497.2 V511.3 M569.2,496.6 V511.3 M570.5,500.5 V528.7 M571.8,501.9 V518.0 M573.1,499.8 V512.4 M574.4,497.0 V512.1 M575.7,498.5 V512.5 M577.0,497.2 V511.9 M578.4,498.6 V513.9 M579.7,491.5 V505.4 M581.0,496.9 V510.0 M582.3,491.5 V505.7 M583.6,497.2 V512.0 M584.9,498.3 V512.1 M586.2,500.9 V516.5 M587.6,497.1 V509.2 M588.9,497.0 V509.2 M590.2,498.7 V513.7 M591.5,498.6 V512.9 M592.8,498.7 V529.1 M594.1,500.4 V514.5 M595.4,500.0 V512.0 M596.8,503.3 V518.3 M598.1,500.5 V517.5 M599.4,499.8 V514.2 M600.7,499.1 V510.7 M602.0,496.7 V507.6 M603.3,497.9 V511.0 M604.6,497.9 V511.7 M606.0,497.1 V511.8 M607.3,504.7 V518.8 M608.6,498.1 V512.7 M609.9,500.8 V514.3 M611.2,498.3 V512.5 M612.5,499.2 V513.5 M613.8,499.1 V513.7 M615.2,501.2 V514.9 M616.5,498.9 V514.3 M617.8,504.8 V518.8 M619.1,504.0 V518.2 M620.4,495.3 V507.5 M621.7,496.7 V512.3 M623.0,500.3 V512.7 M624.4,499.8 V514.1 M625.7,499.5 V512.7 M627.0,488.4 V518.0 M628.3,497.0 V512.6 M629.6,499.6 V511.1 M630.9,502.4 V515.5 M632.2,505.7 V521.8 M633.5,499.6 V513.2 M634.9,493.2 V506.7 M636.2,496.1 V509.8 M637.5,497.1 V512.0 M638.8,499.9 V514.2 M640.1,501.0 V515.3 M641.4,499.2 V513.2 M642.7,498.9 V514.0 M644.1,501.8 V515.8 M645.4,492.1 V508.9 M646.7,500.9 V514.9 M648.0,499.6 V514.8 M649.3,506.7 V518.9 M650.6,492.4 V507.2 M651.9,500.9 V513.1 M653.3,498.0 V512.0 M654.6,497.7 V513.1 M655.9,500.6 V514.0 M657.2,501.6 V516.0 M658.5,498.6 V511.8 M659.8,500.7 V513.9 M661.1,499.3 V510.6 M662.5,496.4 V510.3 M663.8,495.4 V511.2 M665.1,494.8 V507.4 M666.4,494.8 V508.4" stroke="#3f5f9e" stroke-width="0.8" fill="none"/>
<path d="M535.0,501.8 h2.6 M535.0,516.3 h2.6 M536.3,497.0 h2.6 M536.3,512.3 h2.6 M537.6,493.3 h2.6 M537.6,509.6 h2.6 M539.0,494.4 h2.6 M539.0,506.6 h2.6 M540.3,495.4 h2.6 M540.3,510.5 h2.6 M541.6,498.7 h2.6 M541.6,511.8 h2.6 M542.9,496.6 h2.6 M542.9,510.6 h2.6 M544.2,501.0 h2.6 M544.2,513.9 h2.6 M545.5,502.9 h2.6 M545.5,518.4 h2.6 M546.8,499.9 h2.6 M546.8,529.7 h2.6 M548.2,496.3 h2.6 M548.2,511.2 h2.6 M549.5,499.1 h2.6 M549.5,510.3 h2.6 M550.8,499.7 h2.6 M550.8,512.2 h2.6 M552.1,501.0 h2.6 M552.1,515.4 h2.6 M553.4,500.8 h2.6 M553.4,512.0 h2.6 M554.7,501.9 h2.6 M554.7,514.4 h2.6 M556.0,499.6 h2.6 M556.0,512.0 h2.6 M557.4,496.8 h2.6 M557.4,510.1 h2.6 M558.7,506.5 h2.6 M558.7,521.4 h2.6 M560.0,499.7 h2.6 M560.0,513.5 h2.6 M561.3,503.3 h2.6 M561.3,518.7 h2.6 M562.6,501.0 h2.6 M562.6,514.1 h2.6 M563.9,504.3 h2.6 M563.9,515.7 h2.6 M565.2,494.2 h2.6 M565.2,528.5 h2.6 M566.6,497.2 h2.6 M566.6,511.3 h2.6 M567.9,496.6 h2.6 M567.9,511.3 h2.6 M569.2,500.5 h2.6 M569.2,528.7 h2.6 M570.5,501.9 h2.6 M570.5,518.0 h2.6 M571.8,499.8 h2.6 M571.8,512.4 h2.6 M573.1,497.0 h2.6 M573.1,512.1 h2.6 M574.4,498.5 h2.6 M574.4,512.5 h2.6 M575.7,497.2 h2.6 M575.7,511.9 h2.6 M577.1,498.6 h2.6 M577.1,513.9 h2.6 M578.4,491.5 h2.6 M578.4,505.4 h2.6 M579.7,496.9 h2.6 M579.7,510.0 h2.6 M581.0,491.5 h2.6 M581.0,505.7 h2.6 M582.3,497.2 h2.6 M582.3,512.0 h2.6 M583.6,498.3 h2.6 M583.6,512.1 h2.6 M584.9,500.9 h2.6 M584.9,516.5 h2.6 M586.3,497.1 h2.6 M586.3,509.2 h2.6 M587.6,497.0 h2.6 M587.6,509.2 h2.6 M588.9,498.7 h2.6 M588.9,513.7 h2.6 M590.2,498.6 h2.6 M590.2,512.9 h2.6 M591.5,498.7 h2.6 M591.5,529.1 h2.6 M592.8,500.4 h2.6 M592.8,514.5 h2.6 M594.1,500.0 h2.6 M594.1,512.0 h2.6 M595.5,503.3 h2.6 M595.5,518.3 h2.6 M596.8,500.5 h2.6 M596.8,517.5 h2.6 M598.1,499.8 h2.6 M598.1,514.2 h2.6 M599.4,499.1 h2.6 M599.4,510.7 h2.6 M600.7,496.7 h2.6 M600.7,507.6 h2.6 M602.0,497.9 h2.6 M602.0,511.0 h2.6 M603.3,497.9 h2.6 M603.3,511.7 h2.6 M604.7,497.1 h2.6 M604.7,511.8 h2.6 M606.0,504.7 h2.6 M606.0,518.8 h2.6 M607.3,498.1 h2.6 M607.3,512.7 h2.6 M608.6,500.8 h2.6 M608.6,514.3 h2.6 M609.9,498.3 h2.6 M609.9,512.5 h2.6 M611.2,499.2 h2.6 M611.2,513.5 h2.6 M612.5,499.1 h2.6 M612.5,513.7 h2.6 M613.9,501.2 h2.6 M613.9,514.9 h2.6 M615.2,498.9 h2.6 M615.2,514.3 h2.6 M616.5,504.8 h2.6 M616.5,518.8 h2.6 M617.8,504.0 h2.6 M617.8,518.2 h2.6 M619.1,495.3 h2.6 M619.1,507.5 h2.6 M620.4,496.7 h2.6 M620.4,512.3 h2.6 M621.7,500.3 h2.6 M621.7,512.7 h2.6 M623.1,499.8 h2.6 M623.1,514.1 h2.6 M624.4,499.5 h2.6 M624.4,512.7 h2.6 M625.7,488.4 h2.6 M625.7,518.0 h2.6 M627.0,497.0 h2.6 M627.0,512.6 h2.6 M628.3,499.6 h2.6 M628.3,511.1 h2.6 M629.6,502.4 h2.6 M629.6,515.5 h2.6 M630.9,505.7 h2.6 M630.9,521.8 h2.6 M632.2,499.6 h2.6 M632.2,513.2 h2.6 M633.6,493.2 h2.6 M633.6,506.7 h2.6 M634.9,496.1 h2.6 M634.9,509.8 h2.6 M636.2,497.1 h2.6 M636.2,512.0 h2.6 M637.5,499.9 h2.6 M637.5,514.2 h2.6 M638.8,501.0 h2.6 M638.8,515.3 h2.6 M640.1,499.2 h2.6 M640.1,513.2 h2.6 M641.4,498.9 h2.6 M641.4,514.0 h2.6 M642.8,501.8 h2.6 M642.8,515.8 h2.6 M644.1,492.1 h2.6 M644.1,508.9 h2.6 M645.4,500.9 h2.6 M645.4,514.9 h2.6 M646.7,499.6 h2.6 M646.7,514.8 h2.6 M648.0,506.7 h2.6 M648.0,518.9 h2.6 M649.3,492.4 h2.6 M649.3,507.2 h2.6 M650.6,500.9 h2.6 M650.6,513.1 h2.6 M652.0,498.0 h2.6 M652.0,512.0 h2.6 M653.3,497.7 h2.6 M653.3,513.1 h2.6 M654.6,500.6 h2.6 M654.6,514.0 h2.6 M655.9,501.6 h2.6 M655.9,516.0 h2.6 M657.2,498.6 h2.6 M657.2,511.8 h2.6 M658.5,500.7 h2.6 M658.5,513.9 h2.6 M659.8,499.3 h2.6 M659.8,510.6 h2.6 M661.2,496.4 h2.6 M661.2,510.3 h2.6 M662.5,495.4 h2.6 M662.5,511.2 h2.6 M663.8,494.8 h2.6 M663.8,507.4 h2.6 M665.1,494.8 h2.6 M665.1,508.4 h2.6" stroke="#1c3d8a" stroke-width="1.1" fill="none"/>
<path d="M536.3,508.8 L537.6,505.1 L538.9,501.7 L540.3,500.9 L541.6,502.0 L542.9,505.6 L544.2,504.7 L545.5,506.6 L546.8,509.9 L548.1,507.2 L549.5,502.8 L550.8,505.0 L552.1,506.8 L553.4,509.1 L554.7,506.1 L556.0,507.6 L557.3,505.7 L558.7,504.2 L560.0,513.0 L561.3,506.1 L562.6,510.4 L563.9,508.7 L565.2,509.7 L566.5,502.2 L567.9,503.6 L569.2,504.2 L570.5,508.1 L571.8,510.3 L573.1,507.0 L574.4,505.1 L575.7,506.0 L577.0,503.6 L578.4,506.9 L579.7,500.1 L581.0,503.7 L582.3,499.5 L583.6,505.0 L584.9,506.5 L586.2,508.5 L587.6,503.2 L588.9,502.5 L590.2,505.3 L591.5,504.5 L592.8,506.6 L594.1,507.1 L595.4,506.7 L596.8,511.7 L598.1,509.0 L599.4,505.7 L600.7,505.4 L602.0,502.3 L603.3,503.8 L604.6,504.4 L606.0,505.6 L607.3,512.9 L608.6,505.6 L609.9,508.6 L611.2,504.2 L612.5,506.7 L613.8,506.9 L615.2,507.5 L616.5,506.7 L617.8,512.0 L619.1,510.8 L620.4,501.9 L621.7,504.4 L623.0,507.2 L624.4,506.9 L625.7,507.0 L627.0,495.5 L628.3,504.2 L629.6,505.8 L630.9,507.9 L632.2,513.3 L633.5,505.4 L634.9,501.4 L636.2,502.8 L637.5,505.0 L638.8,507.7 L640.1,509.6 L641.4,505.6 L642.7,507.1 L644.1,509.4 L645.4,500.6 L646.7,508.8 L648.0,507.5 L649.3,513.4 L650.6,500.4 L651.9,506.3 L653.3,506.0 L654.6,504.9 L655.9,508.5 L657.2,507.8 L658.5,504.9 L659.8,508.4 L661.1,504.8 L662.5,502.0 L663.8,503.4 L665.1,501.3 L666.4,502.4" fill="none" stroke="#2a4f95" stroke-width="0.7"/>
<path d="M536.3,506.4 l2.2,3.8 h-4.4z M537.6,502.7 l2.2,3.8 h-4.4z M538.9,499.3 l2.2,3.8 h-4.4z M540.3,498.5 l2.2,3.8 h-4.4z M541.6,499.6 l2.2,3.8 h-4.4z M542.9,503.2 l2.2,3.8 h-4.4z M544.2,502.3 l2.2,3.8 h-4.4z M545.5,504.2 l2.2,3.8 h-4.4z M546.8,507.5 l2.2,3.8 h-4.4z M548.1,504.8 l2.2,3.8 h-4.4z M549.5,500.4 l2.2,3.8 h-4.4z M550.8,502.6 l2.2,3.8 h-4.4z M552.1,504.4 l2.2,3.8 h-4.4z M553.4,506.7 l2.2,3.8 h-4.4z M554.7,503.7 l2.2,3.8 h-4.4z M556.0,505.2 l2.2,3.8 h-4.4z M557.3,503.3 l2.2,3.8 h-4.4z M558.7,501.8 l2.2,3.8 h-4.4z M560.0,510.6 l2.2,3.8 h-4.4z M561.3,503.7 l2.2,3.8 h-4.4z M562.6,508.0 l2.2,3.8 h-4.4z M563.9,506.3 l2.2,3.8 h-4.4z M565.2,507.3 l2.2,3.8 h-4.4z M566.5,499.8 l2.2,3.8 h-4.4z M567.9,501.2 l2.2,3.8 h-4.4z M569.2,501.8 l2.2,3.8 h-4.4z M570.5,505.7 l2.2,3.8 h-4.4z M571.8,507.9 l2.2,3.8 h-4.4z M573.1,504.6 l2.2,3.8 h-4.4z M574.4,502.7 l2.2,3.8 h-4.4z M575.7,503.6 l2.2,3.8 h-4.4z M577.0,501.2 l2.2,3.8 h-4.4z M578.4,504.5 l2.2,3.8 h-4.4z M579.7,497.7 l2.2,3.8 h-4.4z M581.0,501.3 l2.2,3.8 h-4.4z M582.3,497.1 l2.2,3.8 h-4.4z M583.6,502.6 l2.2,3.8 h-4.4z M584.9,504.1 l2.2,3.8 h-4.4z M586.2,506.1 l2.2,3.8 h-4.4z M587.6,500.8 l2.2,3.8 h-4.4z M588.9,500.1 l2.2,3.8 h-4.4z M590.2,502.9 l2.2,3.8 h-4.4z M591.5,502.1 l2.2,3.8 h-4.4z M592.8,504.2 l2.2,3.8 h-4.4z M594.1,504.7 l2.2,3.8 h-4.4z M595.4,504.3 l2.2,3.8 h-4.4z M596.8,509.3 l2.2,3.8 h-4.4z M598.1,506.6 l2.2,3.8 h-4.4z M599.4,503.3 l2.2,3.8 h-4.4z M600.7,503.0 l2.2,3.8 h-4.4z M602.0,499.9 l2.2,3.8 h-4.4z M603.3,501.4 l2.2,3.8 h-4.4z M604.6,502.0 l2.2,3.8 h-4.4z M606.0,503.2 l2.2,3.8 h-4.4z M607.3,510.5 l2.2,3.8 h-4.4z M608.6,503.2 l2.2,3.8 h-4.4z M609.9,506.2 l2.2,3.8 h-4.4z M611.2,501.8 l2.2,3.8 h-4.4z M612.5,504.3 l2.2,3.8 h-4.4z M613.8,504.5 l2.2,3.8 h-4.4z M615.2,505.1 l2.2,3.8 h-4.4z M616.5,504.3 l2.2,3.8 h-4.4z M617.8,509.6 l2.2,3.8 h-4.4z M619.1,508.4 l2.2,3.8 h-4.4z M620.4,499.5 l2.2,3.8 h-4.4z M621.7,502.0 l2.2,3.8 h-4.4z M623.0,504.8 l2.2,3.8 h-4.4z M624.4,504.5 l2.2,3.8 h-4.4z M625.7,504.6 l2.2,3.8 h-4.4z M627.0,493.1 l2.2,3.8 h-4.4z M628.3,501.8 l2.2,3.8 h-4.4z M629.6,503.4 l2.2,3.8 h-4.4z M630.9,505.5 l2.2,3.8 h-4.4z M632.2,510.9 l2.2,3.8 h-4.4z M633.5,503.0 l2.2,3.8 h-4.4z M634.9,499.0 l2.2,3.8 h-4.4z M636.2,500.4 l2.2,3.8 h-4.4z M637.5,502.6 l2.2,3.8 h-4.4z M638.8,505.3 l2.2,3.8 h-4.4z M640.1,507.2 l2.2,3.8 h-4.4z M641.4,503.2 l2.2,3.8 h-4.4z M642.7,504.7 l2.2,3.8 h-4.4z M644.1,507.0 l2.2,3.8 h-4.4z M645.4,498.2 l2.2,3.8 h-4.4z M646.7,506.4 l2.2,3.8 h-4.4z M648.0,505.1 l2.2,3.8 h-4.4z M649.3,511.0 l2.2,3.8 h-4.4z M650.6,498.0 l2.2,3.8 h-4.4z M651.9,503.9 l2.2,3.8 h-4.4z M653.3,503.6 l2.2,3.8 h-4.4z M654.6,502.5 l2.2,3.8 h-4.4z M655.9,506.1 l2.2,3.8 h-4.4z M657.2,505.4 l2.2,3.8 h-4.4z M658.5,502.5 l2.2,3.8 h-4.4z M659.8,506.0 l2.2,3.8 h-4.4z M661.1,502.4 l2.2,3.8 h-4.4z M662.5,499.6 l2.2,3.8 h-4.4z M663.8,501.0 l2.2,3.8 h-4.4z M665.1,498.9 l2.2,3.8 h-4.4z M666.4,500.0 l2.2,3.8 h-4.4z" fill="#1c3d8a"/>
</g>
<rect x="535.00" y="432.30" width="131.40" height="131.20" fill="none" stroke="#262626" stroke-width="1.4"/>
<path d="M535.00,563.50 h3.2 M666.40,563.50 h-3.2 M535.00,557.86 h1.9 M666.40,557.86 h-1.9 M535.00,554.56 h1.9 M666.40,554.56 h-1.9 M535.00,552.22 h1.9 M666.40,552.22 h-1.9 M535.00,550.40 h1.9 M666.40,550.40 h-1.9 M535.00,548.92 h1.9 M666.40,548.92 h-1.9 M535.00,547.66 h1.9 M666.40,547.66 h-1.9 M535.00,546.57 h1.9 M666.40,546.57 h-1.9 M535.00,545.61 h1.9 M666.40,545.61 h-1.9 M535.00,544.76 h3.2 M666.40,544.76 h-3.2 M535.00,539.11 h1.9 M666.40,539.11 h-1.9 M535.00,535.81 h1.9 M666.40,535.81 h-1.9 M535.00,533.47 h1.9 M666.40,533.47 h-1.9 M535.00,531.66 h1.9 M666.40,531.66 h-1.9 M535.00,530.17 h1.9 M666.40,530.17 h-1.9 M535.00,528.92 h1.9 M666.40,528.92 h-1.9 M535.00,527.83 h1.9 M666.40,527.83 h-1.9 M535.00,526.87 h1.9 M666.40,526.87 h-1.9 M535.00,526.01 h3.2 M666.40,526.01 h-3.2 M535.00,520.37 h1.9 M666.40,520.37 h-1.9 M535.00,517.07 h1.9 M666.40,517.07 h-1.9 M535.00,514.73 h1.9 M666.40,514.73 h-1.9 M535.00,512.91 h1.9 M666.40,512.91 h-1.9 M535.00,511.43 h1.9 M666.40,511.43 h-1.9 M535.00,510.17 h1.9 M666.40,510.17 h-1.9 M535.00,509.09 h1.9 M666.40,509.09 h-1.9 M535.00,508.13 h1.9 M666.40,508.13 h-1.9 M535.00,507.27 h3.2 M666.40,507.27 h-3.2 M535.00,501.63 h1.9 M666.40,501.63 h-1.9 M535.00,498.33 h1.9 M666.40,498.33 h-1.9 M535.00,495.99 h1.9 M666.40,495.99 h-1.9 M535.00,494.17 h1.9 M666.40,494.17 h-1.9 M535.00,492.69 h1.9 M666.40,492.69 h-1.9 M535.00,491.43 h1.9 M666.40,491.43 h-1.9 M535.00,490.34 h1.9 M666.40,490.34 h-1.9 M535.00,489.39 h1.9 M666.40,489.39 h-1.9 M535.00,488.53 h3.2 M666.40,488.53 h-3.2 M535.00,482.89 h1.9 M666.40,482.89 h-1.9 M535.00,479.59 h1.9 M666.40,479.59 h-1.9 M535.00,477.24 h1.9 M666.40,477.24 h-1.9 M535.00,475.43 h1.9 M666.40,475.43 h-1.9 M535.00,473.94 h1.9 M666.40,473.94 h-1.9 M535.00,472.69 h1.9 M666.40,472.69 h-1.9 M535.00,471.60 h1.9 M666.40,471.60 h-1.9 M535.00,470.64 h1.9 M666.40,470.64 h-1.9 M535.00,469.79 h3.2 M666.40,469.79 h-3.2 M535.00,464.14 h1.9 M666.40,464.14 h-1.9 M535.00,460.84 h1.9 M666.40,460.84 h-1.9 M535.00,458.50 h1.9 M666.40,458.50 h-1.9 M535.00,456.69 h1.9 M666.40,456.69 h-1.9 M535.00,455.20 h1.9 M666.40,455.20 h-1.9 M535.00,453.95 h1.9 M666.40,453.95 h-1.9 M535.00,452.86 h1.9 M666.40,452.86 h-1.9 M535.00,451.90 h1.9 M666.40,451.90 h-1.9 M535.00,451.04 h3.2 M666.40,451.04 h-3.2 M535.00,445.40 h1.9 M666.40,445.40 h-1.9 M535.00,442.10 h1.9 M666.40,442.10 h-1.9 M535.00,439.76 h1.9 M666.40,439.76 h-1.9 M535.00,437.94 h1.9 M666.40,437.94 h-1.9 M535.00,436.46 h1.9 M666.40,436.46 h-1.9 M535.00,435.20 h1.9 M666.40,435.20 h-1.9 M535.00,434.12 h1.9 M666.40,434.12 h-1.9 M535.00,433.16 h1.9 M666.40,433.16 h-1.9 M535.00,432.30 h3.2 M666.40,432.30 h-3.2 M535.00,563.50 v-3 M535.00,432.30 v3 M561.28,563.50 v-3 M561.28,432.30 v3 M587.56,563.50 v-3 M587.56,432.30 v3 M613.84,563.50 v-3 M613.84,432.30 v3 M640.12,563.50 v-3 M640.12,432.30 v3 M666.40,563.50 v-3 M666.40,432.30 v3" stroke="#262626" stroke-width="1" fill="none"/>
<text transform="translate(528.70,441.10) scale(1.0,1.06)" font-size="18.6" text-anchor="end">10<tspan font-size="13.2" dy="-6.6">4</tspan></text>
<text transform="translate(528.70,478.59) scale(1.0,1.06)" font-size="18.6" text-anchor="end">10<tspan font-size="13.2" dy="-6.6">2</tspan></text>
<text transform="translate(528.70,516.07) scale(1.0,1.06)" font-size="18.6" text-anchor="end">10<tspan font-size="13.2" dy="-6.6">0</tspan></text>
<text transform="translate(528.70,553.56) scale(1.0,1.06)" font-size="18.6" text-anchor="end">10<tspan font-size="13.2" dy="-6.6">-2</tspan></text>
<text transform="translate(535.20,582.00) scale(1.0,1.06)" font-size="18.6" text-anchor="middle">0</text>
<text transform="translate(559.98,582.00) scale(1.0,1.06)" font-size="18.6" text-anchor="middle">20</text>
<text transform="translate(585.96,582.00) scale(1.0,1.06)" font-size="18.6" text-anchor="middle">40</text>
<text transform="translate(611.24,582.00) scale(1.0,1.06)" font-size="18.6" text-anchor="middle">60</text>
<text transform="translate(638.92,582.00) scale(1.0,1.06)" font-size="18.6" text-anchor="middle">80</text>
<text transform="translate(669.90,582.00) scale(1.0,1.06)" font-size="18.6" text-anchor="middle">100</text>
<text transform="translate(-0.74,16.90) scale(1.0,1.06)" font-size="22" fill="#1a1a1a">(a<tspan dx="1.3">)</tspan></text>
<text transform="translate(230.30,16.90) scale(1.0,1.06)" font-size="22" fill="#1a1a1a">(b<tspan dx="1.3">)</tspan></text>
<text transform="translate(470.50,16.90) scale(1.0,1.06)" font-size="22" fill="#1a1a1a">(c<tspan dx="1.3">)</tspan></text>
<text transform="translate(-0.70,225.85) scale(1.0,1.06)" font-size="22" fill="#1a1a1a">(d<tspan dx="1.3">)</tspan></text>
<text transform="translate(230.30,225.85) scale(1.0,1.06)" font-size="22" fill="#1a1a1a">(e<tspan dx="1.3">)</tspan></text>
<text transform="translate(470.60,225.85) scale(1.0,1.06)" font-size="22" fill="#1a1a1a">(f<tspan dx="1.3">)</tspan></text>
<text transform="translate(-0.70,428.50) scale(1.0,1.06)" font-size="22" fill="#1a1a1a">(g<tspan dx="1.3">)</tspan></text>
<text transform="translate(230.30,428.50) scale(1.0,1.06)" font-size="22" fill="#1a1a1a">(h<tspan dx="1.3">)</tspan></text>
<text transform="translate(470.60,428.50) scale(1.0,1.06)" font-size="22" fill="#1a1a1a">(i<tspan dx="1.3">)</tspan></text>
<path transform="translate(108.85,191.20)" d="M0.3,-2.3 C0.9,0.2 3.6,0.1 4.6,-3.9 L7.9,-13.4 C8.9,-16.5 11.4,-17.3 12.7,-15.3 M4.9,-11.7 L10.6,-11.7" fill="none" stroke="#1a1a1a" stroke-width="1.95" stroke-linecap="round"/>
<text transform="translate(118.80,190.90) scale(1.05,1.06)" font-size="12.2" font-weight="bold" font-family="Liberation Serif">c1</text>
<text transform="translate(133.80,191.20) scale(1.0,1.06)" font-size="16" font-weight="bold" font-family="Liberation Serif">,</text>
<text transform="translate(142.90,191.20) scale(1.0,1.06)" font-size="16.5" font-weight="bold" font-family="Liberation Serif">Hz</text>
<path transform="translate(339.25,191.20)" d="M0.3,-2.3 C0.9,0.2 3.6,0.1 4.6,-3.9 L7.9,-13.4 C8.9,-16.5 11.4,-17.3 12.7,-15.3 M4.9,-11.7 L10.6,-11.7" fill="none" stroke="#1a1a1a" stroke-width="1.95" stroke-linecap="round"/>
<text transform="translate(349.20,190.90) scale(1.05,1.06)" font-size="12.2" font-weight="bold" font-family="Liberation Serif">c2</text>
<text transform="translate(364.20,191.20) scale(1.0,1.06)" font-size="16" font-weight="bold" font-family="Liberation Serif">,</text>
<text transform="translate(373.30,191.20) scale(1.0,1.06)" font-size="16.5" font-weight="bold" font-family="Liberation Serif">Hz</text>
<path transform="translate(108.85,411.20)" d="M0.3,-2.3 C0.9,0.2 3.6,0.1 4.6,-3.9 L7.9,-13.4 C8.9,-16.5 11.4,-17.3 12.7,-15.3 M4.9,-11.7 L10.6,-11.7" fill="none" stroke="#1a1a1a" stroke-width="1.95" stroke-linecap="round"/>
<text transform="translate(118.80,410.90) scale(1.05,1.06)" font-size="12.2" font-weight="bold" font-family="Liberation Serif">c1</text>
<text transform="translate(133.80,411.20) scale(1.0,1.06)" font-size="16" font-weight="bold" font-family="Liberation Serif">,</text>
<text transform="translate(142.90,411.20) scale(1.0,1.06)" font-size="16.5" font-weight="bold" font-family="Liberation Serif">Hz</text>
<path transform="translate(339.25,411.20)" d="M0.3,-2.3 C0.9,0.2 3.6,0.1 4.6,-3.9 L7.9,-13.4 C8.9,-16.5 11.4,-17.3 12.7,-15.3 M4.9,-11.7 L10.6,-11.7" fill="none" stroke="#1a1a1a" stroke-width="1.95" stroke-linecap="round"/>
<text transform="translate(349.20,410.90) scale(1.05,1.06)" font-size="12.2" font-weight="bold" font-family="Liberation Serif">c2</text>
<text transform="translate(364.20,411.20) scale(1.0,1.06)" font-size="16" font-weight="bold" font-family="Liberation Serif">,</text>
<text transform="translate(373.30,411.20) scale(1.0,1.06)" font-size="16.5" font-weight="bold" font-family="Liberation Serif">Hz</text>
<text transform="translate(569.60,189.00) scale(1.0,1.06)" font-size="18.3" font-weight="bold" font-style="italic" font-family="Liberation Serif">M</text>
<text transform="translate(588.00,190.00) scale(1.2,1.06)" font-size="10.5" font-weight="bold" font-family="Liberation Serif">0</text>
<text transform="translate(599.20,189.00) scale(1.0,1.06)" font-size="18.4">ratio</text>
<text transform="translate(569.60,409.00) scale(1.0,1.06)" font-size="18.3" font-weight="bold" font-style="italic" font-family="Liberation Serif">M</text>
<text transform="translate(588.00,410.00) scale(1.2,1.06)" font-size="10.5" font-weight="bold" font-family="Liberation Serif">0</text>
<text transform="translate(599.20,409.00) scale(1.0,1.06)" font-size="18.4">ratio</text>
<text transform="translate(35.20,107.80) rotate(-90) scale(1.0,1.06)" font-size="17.5" font-weight="bold" font-style="italic" font-family="Liberation Serif">M</text>
<text transform="translate(36.20,89.80) rotate(-90) scale(1.2,1.06)" font-size="10.5" font-weight="bold" font-family="Liberation Serif">0</text>
<text transform="translate(35.20,76.00) rotate(-90) scale(1.0,1.06)" font-size="18.4">ratio</text>
<path transform="translate(263.10,103.20) rotate(-90)" d="M0.3,-2.3 C0.9,0.2 3.6,0.1 4.6,-3.9 L7.9,-13.4 C8.9,-16.5 11.4,-17.3 12.7,-15.3 M4.9,-11.7 L10.6,-11.7" fill="none" stroke="#1a1a1a" stroke-width="1.95" stroke-linecap="round"/>
<text transform="translate(264.00,93.10) rotate(-90) scale(1.05,1.06)" font-size="12.2" font-weight="bold" font-family="Liberation Serif">c1</text>
<text transform="translate(264.30,77.30) rotate(-90) scale(1.0,1.06)" font-size="16" font-weight="bold" font-family="Liberation Serif">,</text>
<text transform="translate(264.30,68.10) rotate(-90) scale(1.0,1.06)" font-size="16.5" font-weight="bold" font-family="Liberation Serif">Hz</text>
<path transform="translate(503.00,103.70) rotate(-90)" d="M0.3,-2.3 C0.9,0.2 3.6,0.1 4.6,-3.9 L7.9,-13.4 C8.9,-16.5 11.4,-17.3 12.7,-15.3 M4.9,-11.7 L10.6,-11.7" fill="none" stroke="#1a1a1a" stroke-width="1.95" stroke-linecap="round"/>
<text transform="translate(503.90,93.60) rotate(-90) scale(1.05,1.06)" font-size="12.2" font-weight="bold" font-family="Liberation Serif">c2</text>
<text transform="translate(504.20,77.80) rotate(-90) scale(1.0,1.06)" font-size="16" font-weight="bold" font-family="Liberation Serif">,</text>
<text transform="translate(504.20,68.60) rotate(-90) scale(1.0,1.06)" font-size="16.5" font-weight="bold" font-family="Liberation Serif">Hz</text>
<path d="M267.2,66.2h9v2.6h-9z M267.2,89h9v2.6h-9z" fill="#1a1a1a"/>
<path d="M269,77.2 A4.2,4.2 0 1,0 275,77.2" fill="none" stroke="#1a1a1a" stroke-width="2.2"/>
<text transform="translate(35.30,496.90) rotate(-90) scale(1.0,1.06)" font-size="18.6" text-anchor="middle">Amplitude</text>
<text transform="translate(138.80,603.60) scale(1.0,1.06)" font-size="18.9" text-anchor="middle">Frequency, Hz</text>
<text transform="translate(266.60,500.70) rotate(-90) scale(1.0,1.06)" font-size="18.8" text-anchor="middle">Stress drop, MPa</text>
<text transform="translate(501.60,500.70) rotate(-90) scale(1.0,1.06)" font-size="18.8" text-anchor="middle">Stress drop, MPa</text>
<text transform="translate(367.10,600.30) scale(1.0,1.06)" font-size="18.8" text-anchor="middle">Event number</text>
<text transform="translate(601.50,600.30) scale(1.0,1.06)" font-size="18.8" text-anchor="middle">Event number</text>
</svg></body></html>
